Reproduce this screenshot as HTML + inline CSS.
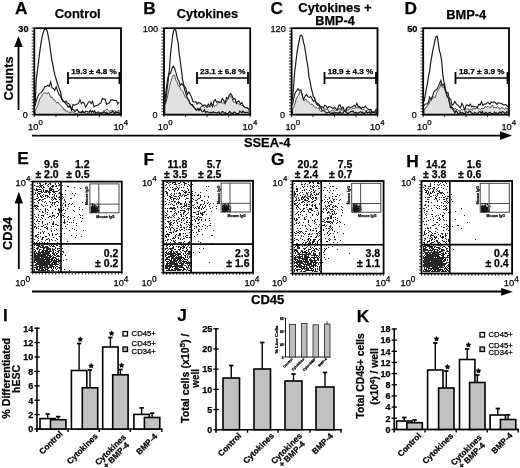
<!DOCTYPE html>
<html><head><meta charset="utf-8"><style>
html,body{margin:0;padding:0;background:#fff;overflow:hidden;}
svg{display:block;filter:blur(0.35px);}
text{stroke:#000;stroke-width:0.25px;}
</style></head><body>
<svg width="520" height="468" viewBox="0 0 520 468" font-family='"Liberation Sans", sans-serif'>
<text x="15.0" y="14.0" font-size="17.3" text-anchor="start" font-weight="bold" >A</text>
<text x="77.7" y="17.7" font-size="13" text-anchor="middle" font-weight="bold" textLength="46" lengthAdjust="spacingAndGlyphs">Control</text>
<text x="28.499999999999996" y="32" font-size="9.2" text-anchor="end" font-weight="bold" >30</text>
<text x="27.799999999999997" y="118" font-size="9" text-anchor="end" font-weight="normal" >0</text>
<text x="28.099999999999998" y="129.8" font-size="9.3" text-anchor="start" font-weight="normal" >10<tspan dy="-4.8" font-size="7.8">0</tspan></text>
<text x="113.4" y="129.8" font-size="9.3" text-anchor="start" font-weight="normal" >10<tspan dy="-4.8" font-size="7.8">4</tspan></text>
<line x1="31.699999999999996" y1="28.2" x2="34.3" y2="28.2" stroke="#000" stroke-width="0.8"/>
<line x1="31.699999999999996" y1="31.182758620689654" x2="34.3" y2="31.182758620689654" stroke="#000" stroke-width="0.8"/>
<line x1="31.699999999999996" y1="34.16551724137931" x2="34.3" y2="34.16551724137931" stroke="#000" stroke-width="0.8"/>
<line x1="31.699999999999996" y1="37.148275862068964" x2="34.3" y2="37.148275862068964" stroke="#000" stroke-width="0.8"/>
<line x1="31.699999999999996" y1="40.13103448275862" x2="34.3" y2="40.13103448275862" stroke="#000" stroke-width="0.8"/>
<line x1="31.699999999999996" y1="43.11379310344827" x2="34.3" y2="43.11379310344827" stroke="#000" stroke-width="0.8"/>
<line x1="31.699999999999996" y1="46.09655172413793" x2="34.3" y2="46.09655172413793" stroke="#000" stroke-width="0.8"/>
<line x1="31.699999999999996" y1="49.07931034482759" x2="34.3" y2="49.07931034482759" stroke="#000" stroke-width="0.8"/>
<line x1="31.699999999999996" y1="52.06206896551724" x2="34.3" y2="52.06206896551724" stroke="#000" stroke-width="0.8"/>
<line x1="31.699999999999996" y1="55.04482758620689" x2="34.3" y2="55.04482758620689" stroke="#000" stroke-width="0.8"/>
<line x1="31.699999999999996" y1="58.02758620689655" x2="34.3" y2="58.02758620689655" stroke="#000" stroke-width="0.8"/>
<line x1="31.699999999999996" y1="61.01034482758621" x2="34.3" y2="61.01034482758621" stroke="#000" stroke-width="0.8"/>
<line x1="31.699999999999996" y1="63.99310344827586" x2="34.3" y2="63.99310344827586" stroke="#000" stroke-width="0.8"/>
<line x1="31.699999999999996" y1="66.97586206896551" x2="34.3" y2="66.97586206896551" stroke="#000" stroke-width="0.8"/>
<line x1="31.699999999999996" y1="69.95862068965518" x2="34.3" y2="69.95862068965518" stroke="#000" stroke-width="0.8"/>
<line x1="31.699999999999996" y1="72.94137931034483" x2="34.3" y2="72.94137931034483" stroke="#000" stroke-width="0.8"/>
<line x1="31.699999999999996" y1="75.92413793103448" x2="34.3" y2="75.92413793103448" stroke="#000" stroke-width="0.8"/>
<line x1="31.699999999999996" y1="78.90689655172413" x2="34.3" y2="78.90689655172413" stroke="#000" stroke-width="0.8"/>
<line x1="31.699999999999996" y1="81.8896551724138" x2="34.3" y2="81.8896551724138" stroke="#000" stroke-width="0.8"/>
<line x1="31.699999999999996" y1="84.87241379310345" x2="34.3" y2="84.87241379310345" stroke="#000" stroke-width="0.8"/>
<line x1="31.699999999999996" y1="87.8551724137931" x2="34.3" y2="87.8551724137931" stroke="#000" stroke-width="0.8"/>
<line x1="31.699999999999996" y1="90.83793103448276" x2="34.3" y2="90.83793103448276" stroke="#000" stroke-width="0.8"/>
<line x1="31.699999999999996" y1="93.82068965517242" x2="34.3" y2="93.82068965517242" stroke="#000" stroke-width="0.8"/>
<line x1="31.699999999999996" y1="96.80344827586207" x2="34.3" y2="96.80344827586207" stroke="#000" stroke-width="0.8"/>
<line x1="31.699999999999996" y1="99.78620689655173" x2="34.3" y2="99.78620689655173" stroke="#000" stroke-width="0.8"/>
<line x1="31.699999999999996" y1="102.76896551724138" x2="34.3" y2="102.76896551724138" stroke="#000" stroke-width="0.8"/>
<line x1="31.699999999999996" y1="105.75172413793103" x2="34.3" y2="105.75172413793103" stroke="#000" stroke-width="0.8"/>
<line x1="31.699999999999996" y1="108.73448275862069" x2="34.3" y2="108.73448275862069" stroke="#000" stroke-width="0.8"/>
<line x1="31.699999999999996" y1="111.71724137931035" x2="34.3" y2="111.71724137931035" stroke="#000" stroke-width="0.8"/>
<line x1="31.699999999999996" y1="114.7" x2="34.3" y2="114.7" stroke="#000" stroke-width="0.8"/>
<line x1="34.3" y1="114.7" x2="34.3" y2="117.2" stroke="#000" stroke-width="0.8"/>
<line x1="55.974999999999994" y1="114.7" x2="55.974999999999994" y2="117.2" stroke="#000" stroke-width="0.8"/>
<line x1="77.65" y1="114.7" x2="77.65" y2="117.2" stroke="#000" stroke-width="0.8"/>
<line x1="99.325" y1="114.7" x2="99.325" y2="117.2" stroke="#000" stroke-width="0.8"/>
<line x1="121.0" y1="114.7" x2="121.0" y2="117.2" stroke="#000" stroke-width="0.8"/>
<line x1="68" y1="78" x2="119.5" y2="78" stroke="#000" stroke-width="1.6"/>
<line x1="68" y1="72" x2="68" y2="84" stroke="#000" stroke-width="1.8"/>
<line x1="119.5" y1="72" x2="119.5" y2="84" stroke="#000" stroke-width="1.8"/>
<text x="94.05" y="74.2" font-size="8.1" text-anchor="middle" font-weight="bold" >19.3 &#177; 4.8 %</text>
<text x="143.25" y="13.9" font-size="17.3" text-anchor="start" font-weight="bold" >B</text>
<text x="207.4" y="17.5" font-size="13" text-anchor="middle" font-weight="bold" textLength="61.3" lengthAdjust="spacingAndGlyphs">Cytokines</text>
<text x="158.2" y="32" font-size="9.2" text-anchor="end" font-weight="normal" >100</text>
<text x="157.5" y="118" font-size="9" text-anchor="end" font-weight="normal" >0</text>
<text x="157.8" y="129.8" font-size="9.3" text-anchor="start" font-weight="normal" >10<tspan dy="-4.8" font-size="7.8">0</tspan></text>
<text x="242.6" y="129.8" font-size="9.3" text-anchor="start" font-weight="normal" >10<tspan dy="-4.8" font-size="7.8">4</tspan></text>
<line x1="161.4" y1="28.2" x2="164.0" y2="28.2" stroke="#000" stroke-width="0.8"/>
<line x1="161.4" y1="31.182758620689654" x2="164.0" y2="31.182758620689654" stroke="#000" stroke-width="0.8"/>
<line x1="161.4" y1="34.16551724137931" x2="164.0" y2="34.16551724137931" stroke="#000" stroke-width="0.8"/>
<line x1="161.4" y1="37.148275862068964" x2="164.0" y2="37.148275862068964" stroke="#000" stroke-width="0.8"/>
<line x1="161.4" y1="40.13103448275862" x2="164.0" y2="40.13103448275862" stroke="#000" stroke-width="0.8"/>
<line x1="161.4" y1="43.11379310344827" x2="164.0" y2="43.11379310344827" stroke="#000" stroke-width="0.8"/>
<line x1="161.4" y1="46.09655172413793" x2="164.0" y2="46.09655172413793" stroke="#000" stroke-width="0.8"/>
<line x1="161.4" y1="49.07931034482759" x2="164.0" y2="49.07931034482759" stroke="#000" stroke-width="0.8"/>
<line x1="161.4" y1="52.06206896551724" x2="164.0" y2="52.06206896551724" stroke="#000" stroke-width="0.8"/>
<line x1="161.4" y1="55.04482758620689" x2="164.0" y2="55.04482758620689" stroke="#000" stroke-width="0.8"/>
<line x1="161.4" y1="58.02758620689655" x2="164.0" y2="58.02758620689655" stroke="#000" stroke-width="0.8"/>
<line x1="161.4" y1="61.01034482758621" x2="164.0" y2="61.01034482758621" stroke="#000" stroke-width="0.8"/>
<line x1="161.4" y1="63.99310344827586" x2="164.0" y2="63.99310344827586" stroke="#000" stroke-width="0.8"/>
<line x1="161.4" y1="66.97586206896551" x2="164.0" y2="66.97586206896551" stroke="#000" stroke-width="0.8"/>
<line x1="161.4" y1="69.95862068965518" x2="164.0" y2="69.95862068965518" stroke="#000" stroke-width="0.8"/>
<line x1="161.4" y1="72.94137931034483" x2="164.0" y2="72.94137931034483" stroke="#000" stroke-width="0.8"/>
<line x1="161.4" y1="75.92413793103448" x2="164.0" y2="75.92413793103448" stroke="#000" stroke-width="0.8"/>
<line x1="161.4" y1="78.90689655172413" x2="164.0" y2="78.90689655172413" stroke="#000" stroke-width="0.8"/>
<line x1="161.4" y1="81.8896551724138" x2="164.0" y2="81.8896551724138" stroke="#000" stroke-width="0.8"/>
<line x1="161.4" y1="84.87241379310345" x2="164.0" y2="84.87241379310345" stroke="#000" stroke-width="0.8"/>
<line x1="161.4" y1="87.8551724137931" x2="164.0" y2="87.8551724137931" stroke="#000" stroke-width="0.8"/>
<line x1="161.4" y1="90.83793103448276" x2="164.0" y2="90.83793103448276" stroke="#000" stroke-width="0.8"/>
<line x1="161.4" y1="93.82068965517242" x2="164.0" y2="93.82068965517242" stroke="#000" stroke-width="0.8"/>
<line x1="161.4" y1="96.80344827586207" x2="164.0" y2="96.80344827586207" stroke="#000" stroke-width="0.8"/>
<line x1="161.4" y1="99.78620689655173" x2="164.0" y2="99.78620689655173" stroke="#000" stroke-width="0.8"/>
<line x1="161.4" y1="102.76896551724138" x2="164.0" y2="102.76896551724138" stroke="#000" stroke-width="0.8"/>
<line x1="161.4" y1="105.75172413793103" x2="164.0" y2="105.75172413793103" stroke="#000" stroke-width="0.8"/>
<line x1="161.4" y1="108.73448275862069" x2="164.0" y2="108.73448275862069" stroke="#000" stroke-width="0.8"/>
<line x1="161.4" y1="111.71724137931035" x2="164.0" y2="111.71724137931035" stroke="#000" stroke-width="0.8"/>
<line x1="161.4" y1="114.7" x2="164.0" y2="114.7" stroke="#000" stroke-width="0.8"/>
<line x1="164.0" y1="114.7" x2="164.0" y2="117.2" stroke="#000" stroke-width="0.8"/>
<line x1="185.55" y1="114.7" x2="185.55" y2="117.2" stroke="#000" stroke-width="0.8"/>
<line x1="207.1" y1="114.7" x2="207.1" y2="117.2" stroke="#000" stroke-width="0.8"/>
<line x1="228.64999999999998" y1="114.7" x2="228.64999999999998" y2="117.2" stroke="#000" stroke-width="0.8"/>
<line x1="250.2" y1="114.7" x2="250.2" y2="117.2" stroke="#000" stroke-width="0.8"/>
<line x1="197" y1="78" x2="248" y2="78" stroke="#000" stroke-width="1.6"/>
<line x1="197" y1="72" x2="197" y2="84" stroke="#000" stroke-width="1.8"/>
<line x1="248" y1="72" x2="248" y2="84" stroke="#000" stroke-width="1.8"/>
<text x="222.8" y="74.2" font-size="8.1" text-anchor="middle" font-weight="bold" >23.1 &#177; 6.8 %</text>
<text x="270.4" y="13.9" font-size="17.3" text-anchor="start" font-weight="bold" >C</text>
<text x="335" y="11.5" font-size="13" text-anchor="middle" font-weight="bold" textLength="73.4" lengthAdjust="spacingAndGlyphs">Cytokines +</text>
<text x="335" y="24.6" font-size="13" text-anchor="middle" font-weight="bold" textLength="39.4" lengthAdjust="spacingAndGlyphs">BMP-4</text>
<text x="285.8" y="32" font-size="9.2" text-anchor="end" font-weight="normal" >120</text>
<text x="285.1" y="118" font-size="9" text-anchor="end" font-weight="normal" >0</text>
<text x="285.40000000000003" y="129.8" font-size="9.3" text-anchor="start" font-weight="normal" >10<tspan dy="-4.8" font-size="7.8">0</tspan></text>
<text x="369.9" y="129.8" font-size="9.3" text-anchor="start" font-weight="normal" >10<tspan dy="-4.8" font-size="7.8">4</tspan></text>
<line x1="289.0" y1="28.2" x2="291.6" y2="28.2" stroke="#000" stroke-width="0.8"/>
<line x1="289.0" y1="31.182758620689654" x2="291.6" y2="31.182758620689654" stroke="#000" stroke-width="0.8"/>
<line x1="289.0" y1="34.16551724137931" x2="291.6" y2="34.16551724137931" stroke="#000" stroke-width="0.8"/>
<line x1="289.0" y1="37.148275862068964" x2="291.6" y2="37.148275862068964" stroke="#000" stroke-width="0.8"/>
<line x1="289.0" y1="40.13103448275862" x2="291.6" y2="40.13103448275862" stroke="#000" stroke-width="0.8"/>
<line x1="289.0" y1="43.11379310344827" x2="291.6" y2="43.11379310344827" stroke="#000" stroke-width="0.8"/>
<line x1="289.0" y1="46.09655172413793" x2="291.6" y2="46.09655172413793" stroke="#000" stroke-width="0.8"/>
<line x1="289.0" y1="49.07931034482759" x2="291.6" y2="49.07931034482759" stroke="#000" stroke-width="0.8"/>
<line x1="289.0" y1="52.06206896551724" x2="291.6" y2="52.06206896551724" stroke="#000" stroke-width="0.8"/>
<line x1="289.0" y1="55.04482758620689" x2="291.6" y2="55.04482758620689" stroke="#000" stroke-width="0.8"/>
<line x1="289.0" y1="58.02758620689655" x2="291.6" y2="58.02758620689655" stroke="#000" stroke-width="0.8"/>
<line x1="289.0" y1="61.01034482758621" x2="291.6" y2="61.01034482758621" stroke="#000" stroke-width="0.8"/>
<line x1="289.0" y1="63.99310344827586" x2="291.6" y2="63.99310344827586" stroke="#000" stroke-width="0.8"/>
<line x1="289.0" y1="66.97586206896551" x2="291.6" y2="66.97586206896551" stroke="#000" stroke-width="0.8"/>
<line x1="289.0" y1="69.95862068965518" x2="291.6" y2="69.95862068965518" stroke="#000" stroke-width="0.8"/>
<line x1="289.0" y1="72.94137931034483" x2="291.6" y2="72.94137931034483" stroke="#000" stroke-width="0.8"/>
<line x1="289.0" y1="75.92413793103448" x2="291.6" y2="75.92413793103448" stroke="#000" stroke-width="0.8"/>
<line x1="289.0" y1="78.90689655172413" x2="291.6" y2="78.90689655172413" stroke="#000" stroke-width="0.8"/>
<line x1="289.0" y1="81.8896551724138" x2="291.6" y2="81.8896551724138" stroke="#000" stroke-width="0.8"/>
<line x1="289.0" y1="84.87241379310345" x2="291.6" y2="84.87241379310345" stroke="#000" stroke-width="0.8"/>
<line x1="289.0" y1="87.8551724137931" x2="291.6" y2="87.8551724137931" stroke="#000" stroke-width="0.8"/>
<line x1="289.0" y1="90.83793103448276" x2="291.6" y2="90.83793103448276" stroke="#000" stroke-width="0.8"/>
<line x1="289.0" y1="93.82068965517242" x2="291.6" y2="93.82068965517242" stroke="#000" stroke-width="0.8"/>
<line x1="289.0" y1="96.80344827586207" x2="291.6" y2="96.80344827586207" stroke="#000" stroke-width="0.8"/>
<line x1="289.0" y1="99.78620689655173" x2="291.6" y2="99.78620689655173" stroke="#000" stroke-width="0.8"/>
<line x1="289.0" y1="102.76896551724138" x2="291.6" y2="102.76896551724138" stroke="#000" stroke-width="0.8"/>
<line x1="289.0" y1="105.75172413793103" x2="291.6" y2="105.75172413793103" stroke="#000" stroke-width="0.8"/>
<line x1="289.0" y1="108.73448275862069" x2="291.6" y2="108.73448275862069" stroke="#000" stroke-width="0.8"/>
<line x1="289.0" y1="111.71724137931035" x2="291.6" y2="111.71724137931035" stroke="#000" stroke-width="0.8"/>
<line x1="289.0" y1="114.7" x2="291.6" y2="114.7" stroke="#000" stroke-width="0.8"/>
<line x1="291.6" y1="114.7" x2="291.6" y2="117.2" stroke="#000" stroke-width="0.8"/>
<line x1="313.07500000000005" y1="114.7" x2="313.07500000000005" y2="117.2" stroke="#000" stroke-width="0.8"/>
<line x1="334.55" y1="114.7" x2="334.55" y2="117.2" stroke="#000" stroke-width="0.8"/>
<line x1="356.025" y1="114.7" x2="356.025" y2="117.2" stroke="#000" stroke-width="0.8"/>
<line x1="377.5" y1="114.7" x2="377.5" y2="117.2" stroke="#000" stroke-width="0.8"/>
<line x1="324.5" y1="78" x2="376" y2="78" stroke="#000" stroke-width="1.6"/>
<line x1="324.5" y1="72" x2="324.5" y2="84" stroke="#000" stroke-width="1.8"/>
<line x1="376" y1="72" x2="376" y2="84" stroke="#000" stroke-width="1.8"/>
<text x="350.55" y="74.2" font-size="8.1" text-anchor="middle" font-weight="bold" >18.9 &#177; 4.3 %</text>
<text x="404.55" y="13.9" font-size="17.3" text-anchor="start" font-weight="bold" >D</text>
<text x="466.2" y="18.9" font-size="13" text-anchor="middle" font-weight="bold" textLength="40.1" lengthAdjust="spacingAndGlyphs">BMP-4</text>
<text x="417.4" y="32" font-size="9.2" text-anchor="end" font-weight="bold" >50</text>
<text x="416.7" y="118" font-size="9" text-anchor="end" font-weight="normal" >0</text>
<text x="417.0" y="129.8" font-size="9.3" text-anchor="start" font-weight="normal" >10<tspan dy="-4.8" font-size="7.8">0</tspan></text>
<text x="501.4" y="129.8" font-size="9.3" text-anchor="start" font-weight="normal" >10<tspan dy="-4.8" font-size="7.8">4</tspan></text>
<line x1="420.59999999999997" y1="28.2" x2="423.2" y2="28.2" stroke="#000" stroke-width="0.8"/>
<line x1="420.59999999999997" y1="31.182758620689654" x2="423.2" y2="31.182758620689654" stroke="#000" stroke-width="0.8"/>
<line x1="420.59999999999997" y1="34.16551724137931" x2="423.2" y2="34.16551724137931" stroke="#000" stroke-width="0.8"/>
<line x1="420.59999999999997" y1="37.148275862068964" x2="423.2" y2="37.148275862068964" stroke="#000" stroke-width="0.8"/>
<line x1="420.59999999999997" y1="40.13103448275862" x2="423.2" y2="40.13103448275862" stroke="#000" stroke-width="0.8"/>
<line x1="420.59999999999997" y1="43.11379310344827" x2="423.2" y2="43.11379310344827" stroke="#000" stroke-width="0.8"/>
<line x1="420.59999999999997" y1="46.09655172413793" x2="423.2" y2="46.09655172413793" stroke="#000" stroke-width="0.8"/>
<line x1="420.59999999999997" y1="49.07931034482759" x2="423.2" y2="49.07931034482759" stroke="#000" stroke-width="0.8"/>
<line x1="420.59999999999997" y1="52.06206896551724" x2="423.2" y2="52.06206896551724" stroke="#000" stroke-width="0.8"/>
<line x1="420.59999999999997" y1="55.04482758620689" x2="423.2" y2="55.04482758620689" stroke="#000" stroke-width="0.8"/>
<line x1="420.59999999999997" y1="58.02758620689655" x2="423.2" y2="58.02758620689655" stroke="#000" stroke-width="0.8"/>
<line x1="420.59999999999997" y1="61.01034482758621" x2="423.2" y2="61.01034482758621" stroke="#000" stroke-width="0.8"/>
<line x1="420.59999999999997" y1="63.99310344827586" x2="423.2" y2="63.99310344827586" stroke="#000" stroke-width="0.8"/>
<line x1="420.59999999999997" y1="66.97586206896551" x2="423.2" y2="66.97586206896551" stroke="#000" stroke-width="0.8"/>
<line x1="420.59999999999997" y1="69.95862068965518" x2="423.2" y2="69.95862068965518" stroke="#000" stroke-width="0.8"/>
<line x1="420.59999999999997" y1="72.94137931034483" x2="423.2" y2="72.94137931034483" stroke="#000" stroke-width="0.8"/>
<line x1="420.59999999999997" y1="75.92413793103448" x2="423.2" y2="75.92413793103448" stroke="#000" stroke-width="0.8"/>
<line x1="420.59999999999997" y1="78.90689655172413" x2="423.2" y2="78.90689655172413" stroke="#000" stroke-width="0.8"/>
<line x1="420.59999999999997" y1="81.8896551724138" x2="423.2" y2="81.8896551724138" stroke="#000" stroke-width="0.8"/>
<line x1="420.59999999999997" y1="84.87241379310345" x2="423.2" y2="84.87241379310345" stroke="#000" stroke-width="0.8"/>
<line x1="420.59999999999997" y1="87.8551724137931" x2="423.2" y2="87.8551724137931" stroke="#000" stroke-width="0.8"/>
<line x1="420.59999999999997" y1="90.83793103448276" x2="423.2" y2="90.83793103448276" stroke="#000" stroke-width="0.8"/>
<line x1="420.59999999999997" y1="93.82068965517242" x2="423.2" y2="93.82068965517242" stroke="#000" stroke-width="0.8"/>
<line x1="420.59999999999997" y1="96.80344827586207" x2="423.2" y2="96.80344827586207" stroke="#000" stroke-width="0.8"/>
<line x1="420.59999999999997" y1="99.78620689655173" x2="423.2" y2="99.78620689655173" stroke="#000" stroke-width="0.8"/>
<line x1="420.59999999999997" y1="102.76896551724138" x2="423.2" y2="102.76896551724138" stroke="#000" stroke-width="0.8"/>
<line x1="420.59999999999997" y1="105.75172413793103" x2="423.2" y2="105.75172413793103" stroke="#000" stroke-width="0.8"/>
<line x1="420.59999999999997" y1="108.73448275862069" x2="423.2" y2="108.73448275862069" stroke="#000" stroke-width="0.8"/>
<line x1="420.59999999999997" y1="111.71724137931035" x2="423.2" y2="111.71724137931035" stroke="#000" stroke-width="0.8"/>
<line x1="420.59999999999997" y1="114.7" x2="423.2" y2="114.7" stroke="#000" stroke-width="0.8"/>
<line x1="423.2" y1="114.7" x2="423.2" y2="117.2" stroke="#000" stroke-width="0.8"/>
<line x1="444.65" y1="114.7" x2="444.65" y2="117.2" stroke="#000" stroke-width="0.8"/>
<line x1="466.1" y1="114.7" x2="466.1" y2="117.2" stroke="#000" stroke-width="0.8"/>
<line x1="487.55" y1="114.7" x2="487.55" y2="117.2" stroke="#000" stroke-width="0.8"/>
<line x1="509.0" y1="114.7" x2="509.0" y2="117.2" stroke="#000" stroke-width="0.8"/>
<line x1="455.5" y1="78" x2="507.5" y2="78" stroke="#000" stroke-width="1.6"/>
<line x1="455.5" y1="72" x2="455.5" y2="84" stroke="#000" stroke-width="1.8"/>
<line x1="507.5" y1="72" x2="507.5" y2="84" stroke="#000" stroke-width="1.8"/>
<text x="481.8" y="74.2" font-size="8.1" text-anchor="middle" font-weight="bold" >18.7 &#177; 3.9 %</text>
<text transform="translate(12.7,78.5) rotate(-90)" font-size="12.8" font-weight="bold" text-anchor="middle" textLength="44" lengthAdjust="spacingAndGlyphs">Counts</text>
<line x1="18.5" y1="44" x2="18.5" y2="110" stroke="#000" stroke-width="1.8"/>
<path d="M14.2,47 L18.5,36 L22.8,47 Z" fill="#000"/>
<line x1="32" y1="135.7" x2="502" y2="135.7" stroke="#000" stroke-width="1.8"/>
<path d="M500,131.3 L512,135.6 L500,139.9 Z" fill="#000"/>
<text x="267.2" y="146.8" font-size="13" text-anchor="middle" font-weight="bold" textLength="46.6" lengthAdjust="spacingAndGlyphs">SSEA-4</text>
<polygon points="35.2,114.4 35.2,110.5 36.4,108.5 37.6,105.7 38.8,102.4 40.0,98.2 41.2,96.9 42.4,94.3 43.6,93.5 44.8,92.7 46.0,92.9 47.2,93.8 48.4,92.1 49.6,94.4 50.8,97.6 52.0,96.9 53.2,99.5 54.4,99.8 55.6,101.6 56.8,103.1 58.0,102.2 59.2,104.1 60.4,104.8 61.6,106.8 62.8,107.4 64.0,110.2 65.2,109.3 66.4,111.9 67.6,111.0 68.8,112.2 70.0,112.3 71.2,112.4 72.4,111.7 73.6,113.0 74.8,113.3 76.0,113.2 77.2,113.5 78.4,112.3 79.6,112.8 80.8,112.5 82.0,111.6 83.2,113.3 84.4,112.5 85.6,112.9 86.8,113.9 88.0,113.2 89.2,113.1 90.4,113.9 91.6,113.9 92.8,113.9 94.0,112.6 95.2,113.9 96.4,112.6 97.6,111.6 98.8,111.5 100.0,112.9 101.2,112.4 102.4,112.5 103.6,110.5 104.8,110.8 106.0,109.8 107.2,109.0 108.4,110.3 109.6,111.3 110.8,111.0 112.0,109.8 113.2,111.6 114.4,110.4 115.6,111.2 116.8,111.7 118.0,110.7 119.2,110.3 119.2,114.4" fill="#e1e1e1" stroke="#444" stroke-width="0.9"/>
<polyline points="35.2,105.7 36.6,99.8 38.0,96.0 39.4,93.8 40.8,92.9 42.2,91.1 43.6,89.2 45.0,86.6 46.4,86.5 47.8,85.3 49.2,86.4 50.6,81.9 52.0,87.8 53.4,88.4 54.8,90.3 56.2,86.6 57.6,91.1 59.0,94.5 60.4,96.0 61.8,99.5 63.2,100.7 64.6,102.4 66.0,101.1 67.4,103.0 68.8,103.6 70.2,105.2 71.6,110.0 73.0,104.6 74.4,105.3 75.8,104.4 77.2,104.1 78.6,103.2 80.0,99.7 81.4,103.7 82.8,102.2 84.2,103.3 85.6,107.2 87.0,104.7 88.4,102.3 89.8,101.3 91.2,103.7 92.6,101.3 94.0,106.8 95.4,105.9 96.8,105.4 98.2,104.9 99.6,103.7 101.0,102.7 102.4,98.4 103.8,99.2 105.2,99.1 106.6,104.4 108.0,103.4 109.4,102.8 110.8,99.9 112.2,99.6 113.6,100.4 115.0,100.3 116.4,100.6 117.8,103.9 119.2,102.1" fill="none" stroke="#1a1a1a" stroke-width="1.1"/>
<polyline points="35.2,102.5 36.3,78.8 37.4,70.8 38.5,62.0 39.6,53.1 40.7,45.2 41.8,38.3 42.9,33.7 44.0,30.2 45.1,28.8 46.2,29.0 47.3,31.4 48.4,37.0 49.5,43.1 50.6,51.4 51.7,59.2 52.8,64.6 53.9,70.7 55.0,75.4 56.1,79.0 57.2,82.8 58.3,86.1 59.4,88.9 60.5,91.7 61.6,97.8 62.7,101.1 63.8,101.6 64.9,102.6 66.0,103.8 67.1,105.2 68.2,107.2 69.3,105.9 70.4,107.8 71.5,107.8 72.6,109.4 73.7,109.6 74.8,111.6 75.9,110.6 77.0,109.5 78.1,111.2 79.2,112.1 80.3,112.1 81.4,112.9 82.5,110.7 83.6,112.4 84.7,112.3 85.8,111.3 86.9,111.7 88.0,111.8 89.1,112.3 90.2,110.4 91.3,112.4 92.4,110.8 93.5,112.3 94.6,110.7 95.7,113.3 96.8,112.8 97.9,112.7 99.0,113.3 100.1,113.0 101.2,113.5 102.3,113.1 103.4,112.4 104.5,112.0 105.6,113.9 106.7,112.3 107.8,113.6 108.9,113.9 110.0,112.7 111.1,112.7 112.2,111.7 113.3,111.5 114.4,113.9 115.5,112.0 116.6,112.8 117.7,112.3 118.8,112.9 119.9,113.2" fill="none" stroke="#1a1a1a" stroke-width="1.2"/>
<polygon points="164.9,114.4 164.9,105.4 166.1,101.9 167.3,97.8 168.5,91.7 169.7,85.5 170.9,81.3 172.1,77.8 173.3,74.8 174.5,75.1 175.7,79.9 176.9,81.6 178.1,85.5 179.3,85.8 180.5,89.0 181.7,90.7 182.9,91.4 184.1,94.5 185.3,97.7 186.5,97.9 187.7,99.0 188.9,101.6 190.1,104.0 191.3,105.2 192.5,106.3 193.7,106.0 194.9,108.4 196.1,108.8 197.3,109.4 198.5,109.4 199.7,108.6 200.9,106.5 202.1,106.4 203.3,106.5 204.5,107.3 205.7,106.2 206.9,107.7 208.1,106.6 209.3,106.4 210.5,106.5 211.7,105.8 212.9,104.0 214.1,106.8 215.3,105.7 216.5,105.4 217.7,103.2 218.9,102.0 220.1,102.0 221.3,102.1 222.5,103.3 223.7,103.0 224.9,103.2 226.1,102.3 227.3,99.5 228.5,97.9 229.7,96.4 230.9,95.8 232.1,98.1 233.3,102.0 234.5,102.3 235.7,102.1 236.9,102.2 238.1,103.6 239.3,104.7 240.5,104.6 241.7,105.5 242.9,105.7 244.1,106.7 245.3,107.4 246.5,107.9 247.7,108.1 248.9,109.4 248.9,114.4" fill="#e1e1e1" stroke="#444" stroke-width="0.9"/>
<polyline points="164.9,100.7 166.3,88.1 167.7,78.6 169.1,73.2 170.5,73.6 171.9,68.3 173.3,66.0 174.7,68.4 176.1,73.3 177.5,78.5 178.9,81.0 180.3,85.5 181.7,83.6 183.1,85.5 184.5,86.2 185.9,88.5 187.3,94.6 188.7,92.1 190.1,94.1 191.5,97.1 192.9,101.5 194.3,102.0 195.7,101.6 197.1,104.0 198.5,102.5 199.9,103.1 201.3,103.9 202.7,106.0 204.1,104.9 205.5,105.2 206.9,106.7 208.3,104.0 209.7,106.3 211.1,102.5 212.5,106.6 213.9,101.0 215.3,99.5 216.7,102.4 218.1,101.4 219.5,102.5 220.9,102.2 222.3,98.5 223.7,100.3 225.1,103.5 226.5,97.6 227.9,98.8 229.3,95.0 230.7,93.7 232.1,95.8 233.5,99.3 234.9,98.4 236.3,103.4 237.7,101.4 239.1,101.1 240.5,104.3 241.9,102.5 243.3,105.7 244.7,107.0 246.1,108.0 247.5,107.7 248.9,109.6" fill="none" stroke="#1a1a1a" stroke-width="1.1"/>
<polyline points="164.9,104.4 166.0,98.5 167.1,89.2 168.2,80.7 169.3,71.0 170.4,55.2 171.5,45.5 172.6,35.8 173.7,30.5 174.8,28.8 175.9,30.5 177.0,37.7 178.1,42.5 179.2,54.1 180.3,61.5 181.4,69.6 182.5,79.4 183.6,84.5 184.7,90.1 185.8,92.9 186.9,97.0 188.0,98.8 189.1,100.7 190.2,103.4 191.3,104.8 192.4,104.4 193.5,107.1 194.6,108.0 195.7,109.8 196.8,110.3 197.9,108.4 199.0,110.4 200.1,108.4 201.2,110.3 202.3,111.8 203.4,111.3 204.5,109.8 205.6,112.5 206.7,111.6 207.8,111.8 208.9,112.5 210.0,113.1 211.1,112.3 212.2,113.0 213.3,111.8 214.4,112.5 215.5,112.6 216.6,112.8 217.7,112.8 218.8,111.9 219.9,113.6 221.0,113.0 222.1,111.6 223.2,111.7 224.3,113.2 225.4,112.6 226.5,113.8 227.6,113.9 228.7,112.6 229.8,111.5 230.9,113.1 232.0,113.2 233.1,113.3 234.2,112.0 235.3,112.5 236.4,113.8 237.5,113.7 238.6,113.9 239.7,111.2 240.8,111.9 241.9,112.7 243.0,111.1 244.1,112.4 245.2,112.9 246.3,112.3 247.4,112.3 248.5,113.0" fill="none" stroke="#1a1a1a" stroke-width="1.2"/>
<polygon points="292.5,114.4 292.5,109.3 293.7,107.7 294.9,103.8 296.1,99.3 297.3,96.9 298.5,95.4 299.7,92.0 300.9,92.0 302.1,93.4 303.3,99.9 304.5,100.7 305.7,99.0 306.9,100.9 308.1,101.6 309.3,102.6 310.5,104.5 311.7,104.1 312.9,104.6 314.1,106.7 315.3,107.9 316.5,107.2 317.7,108.6 318.9,107.9 320.1,110.6 321.3,111.9 322.5,110.5 323.7,110.0 324.9,108.4 326.1,109.8 327.3,108.4 328.5,110.7 329.7,111.5 330.9,111.2 332.1,110.2 333.3,110.5 334.5,109.5 335.7,110.3 336.9,110.3 338.1,110.0 339.3,107.9 340.5,110.3 341.7,110.4 342.9,109.4 344.1,110.4 345.3,110.7 346.5,108.1 347.7,110.4 348.9,109.1 350.1,108.4 351.3,109.3 352.5,108.4 353.7,108.5 354.9,107.9 356.1,108.0 357.3,107.5 358.5,108.1 359.7,107.9 360.9,107.8 362.1,110.0 363.3,109.3 364.5,109.8 365.7,111.0 366.9,110.3 368.1,109.9 369.3,109.2 370.5,111.1 371.7,111.3 372.9,112.1 374.1,111.6 375.3,111.7 376.5,110.2 376.5,114.4" fill="#e1e1e1" stroke="#444" stroke-width="0.9"/>
<polyline points="292.5,105.0 293.9,97.3 295.3,92.6 296.7,90.9 298.1,88.7 299.5,90.7 300.9,89.6 302.3,95.7 303.7,99.6 305.1,96.1 306.5,94.4 307.9,96.8 309.3,97.4 310.7,96.3 312.1,98.9 313.5,101.6 314.9,100.2 316.3,102.5 317.7,103.5 319.1,104.6 320.5,106.2 321.9,106.5 323.3,108.1 324.7,105.3 326.1,106.0 327.5,108.1 328.9,106.6 330.3,106.7 331.7,107.7 333.1,108.5 334.5,107.3 335.9,108.8 337.3,109.9 338.7,105.5 340.1,104.8 341.5,109.1 342.9,106.9 344.3,110.0 345.7,111.9 347.1,107.5 348.5,106.9 349.9,107.2 351.3,107.3 352.7,106.7 354.1,105.2 355.5,106.8 356.9,103.2 358.3,106.8 359.7,106.6 361.1,108.5 362.5,107.1 363.9,107.8 365.3,106.1 366.7,107.9 368.1,108.9 369.5,109.8 370.9,109.4 372.3,112.4 373.7,112.9 375.1,111.1 376.5,108.5" fill="none" stroke="#1a1a1a" stroke-width="1.1"/>
<polyline points="292.5,99.9 293.6,86.1 294.7,71.2 295.8,62.9 296.9,53.7 298.0,46.6 299.1,41.2 300.2,35.4 301.3,35.1 302.4,36.8 303.5,42.4 304.6,46.4 305.7,53.5 306.8,60.5 307.9,66.9 309.0,76.9 310.1,81.6 311.2,87.8 312.3,92.2 313.4,97.0 314.5,97.5 315.6,101.5 316.7,104.4 317.8,105.3 318.9,104.9 320.0,107.8 321.1,107.6 322.2,110.6 323.3,110.5 324.4,111.0 325.5,112.1 326.6,113.0 327.7,112.5 328.8,112.0 329.9,113.1 331.0,113.5 332.1,112.8 333.2,113.9 334.3,112.0 335.4,113.0 336.5,112.8 337.6,112.7 338.7,113.8 339.8,111.7 340.9,113.3 342.0,113.2 343.1,112.9 344.2,110.9 345.3,111.3 346.4,112.0 347.5,113.7 348.6,112.9 349.7,112.3 350.8,111.7 351.9,111.7 353.0,111.1 354.1,112.9 355.2,112.8 356.3,112.2 357.4,113.6 358.5,112.9 359.6,112.3 360.7,111.6 361.8,112.9 362.9,112.3 364.0,113.9 365.1,112.6 366.2,111.4 367.3,113.1 368.4,112.2 369.5,112.0 370.6,113.8 371.7,111.6 372.8,112.6 373.9,112.2 375.0,112.3 376.1,113.4" fill="none" stroke="#1a1a1a" stroke-width="1.2"/>
<polygon points="424.1,114.4 424.1,111.3 425.3,107.7 426.5,107.5 427.7,104.3 428.9,104.4 430.1,100.7 431.3,100.1 432.5,99.0 433.7,96.6 434.9,97.8 436.1,94.5 437.3,91.8 438.5,89.5 439.7,87.7 440.9,83.6 442.1,87.1 443.3,87.1 444.5,88.5 445.7,91.2 446.9,94.3 448.1,97.1 449.3,101.0 450.5,103.7 451.7,106.8 452.9,107.7 454.1,109.7 455.3,108.1 456.5,109.6 457.7,109.7 458.9,111.0 460.1,110.8 461.3,109.5 462.5,109.8 463.7,109.3 464.9,108.7 466.1,109.2 467.3,108.9 468.5,109.4 469.7,109.6 470.9,108.8 472.1,109.8 473.3,107.9 474.5,108.7 475.7,108.8 476.9,107.0 478.1,108.9 479.3,108.9 480.5,109.6 481.7,108.1 482.9,108.5 484.1,108.4 485.3,106.3 486.5,107.7 487.7,106.1 488.9,107.3 490.1,107.5 491.3,107.0 492.5,104.9 493.7,107.8 494.9,107.1 496.1,107.9 497.3,106.7 498.5,107.2 499.7,109.4 500.9,107.8 502.1,107.8 503.3,108.0 504.5,109.4 505.7,107.5 506.9,108.7 508.1,108.3 508.1,114.4" fill="#e1e1e1" stroke="#444" stroke-width="0.9"/>
<polyline points="424.1,105.7 425.5,103.9 426.9,103.7 428.3,102.7 429.7,97.1 431.1,99.8 432.5,96.3 433.9,92.1 435.3,90.4 436.7,89.6 438.1,87.1 439.5,83.4 440.9,80.3 442.3,85.3 443.7,84.3 445.1,90.1 446.5,93.4 447.9,92.5 449.3,98.6 450.7,99.2 452.1,105.1 453.5,104.2 454.9,101.4 456.3,103.9 457.7,105.1 459.1,106.4 460.5,108.0 461.9,103.3 463.3,105.9 464.7,110.1 466.1,105.3 467.5,104.9 468.9,106.1 470.3,104.1 471.7,106.9 473.1,105.9 474.5,106.8 475.9,106.8 477.3,107.8 478.7,104.2 480.1,105.0 481.5,101.6 482.9,105.5 484.3,104.1 485.7,104.1 487.1,102.7 488.5,102.8 489.9,104.1 491.3,102.1 492.7,102.2 494.1,101.9 495.5,102.6 496.9,104.3 498.3,102.6 499.7,103.2 501.1,103.3 502.5,104.2 503.9,105.1 505.3,104.6 506.7,105.5 508.1,107.1" fill="none" stroke="#1a1a1a" stroke-width="1.1"/>
<polyline points="424.1,101.3 425.2,95.5 426.3,89.1 427.4,83.8 428.5,76.2 429.6,71.5 430.7,62.4 431.8,56.2 432.9,49.9 434.0,45.4 435.1,39.3 436.2,36.6 437.3,36.3 438.4,43.9 439.5,51.0 440.6,54.6 441.7,61.2 442.8,74.7 443.9,81.4 445.0,86.6 446.1,92.3 447.2,96.8 448.3,97.7 449.4,102.6 450.5,107.6 451.6,107.1 452.7,109.2 453.8,110.9 454.9,113.0 456.0,110.8 457.1,112.1 458.2,113.5 459.3,113.9 460.4,112.0 461.5,113.4 462.6,112.8 463.7,113.4 464.8,113.9 465.9,111.6 467.0,112.3 468.1,112.8 469.2,111.1 470.3,111.4 471.4,112.8 472.5,113.6 473.6,113.2 474.7,112.6 475.8,113.0 476.9,113.5 478.0,113.4 479.1,111.7 480.2,111.6 481.3,113.8 482.4,111.5 483.5,113.8 484.6,113.6 485.7,112.4 486.8,113.1 487.9,113.6 489.0,112.7 490.1,112.3 491.2,113.6 492.3,113.5 493.4,113.9 494.5,112.1 495.6,113.3 496.7,113.0 497.8,113.9 498.9,112.7 500.0,112.1 501.1,113.3 502.2,111.5 503.3,112.1 504.4,112.8 505.5,113.9 506.6,111.7 507.7,112.6" fill="none" stroke="#1a1a1a" stroke-width="1.2"/>
<rect x="34.3" y="28.2" width="86.7" height="86.5" fill="none" stroke="#000" stroke-width="1.8"/>
<rect x="164.0" y="28.2" width="86.19999999999999" height="86.5" fill="none" stroke="#000" stroke-width="1.8"/>
<rect x="291.6" y="28.2" width="85.89999999999998" height="86.5" fill="none" stroke="#000" stroke-width="1.8"/>
<rect x="423.2" y="28.2" width="85.80000000000001" height="86.5" fill="none" stroke="#000" stroke-width="1.8"/>
<text x="17.35" y="164.0" font-size="17.3" text-anchor="start" font-weight="bold" >E</text>
<text x="58.7" y="167.8" font-size="10.5" text-anchor="end" font-weight="bold" >9.6</text>
<text x="58.7" y="178.4" font-size="10.5" text-anchor="end" font-weight="bold" >&#177; 2.0</text>
<text x="89.6" y="167.8" font-size="10.5" text-anchor="end" font-weight="bold" >1.2</text>
<text x="89.6" y="178.4" font-size="10.5" text-anchor="end" font-weight="bold" >&#177; 0.5</text>
<text x="15.6" y="186.4" font-size="9.3" text-anchor="start" font-weight="normal" >10<tspan dy="-5.5" font-size="8">4</tspan></text>
<text x="15.2" y="286.2" font-size="9.3" text-anchor="start" font-weight="normal" >10<tspan dy="-4.5" font-size="8.3">0</tspan></text>
<text x="113.5" y="286.2" font-size="9.3" text-anchor="start" font-weight="normal" >10<tspan dy="-4.5" font-size="8.3">4</tspan></text>
<line x1="30.200000000000003" y1="181.6" x2="32.6" y2="181.6" stroke="#000" stroke-width="0.8"/>
<line x1="30.200000000000003" y1="184.95555555555555" x2="32.6" y2="184.95555555555555" stroke="#000" stroke-width="0.8"/>
<line x1="30.200000000000003" y1="188.3111111111111" x2="32.6" y2="188.3111111111111" stroke="#000" stroke-width="0.8"/>
<line x1="30.200000000000003" y1="191.66666666666666" x2="32.6" y2="191.66666666666666" stroke="#000" stroke-width="0.8"/>
<line x1="30.200000000000003" y1="195.0222222222222" x2="32.6" y2="195.0222222222222" stroke="#000" stroke-width="0.8"/>
<line x1="30.200000000000003" y1="198.37777777777777" x2="32.6" y2="198.37777777777777" stroke="#000" stroke-width="0.8"/>
<line x1="30.200000000000003" y1="201.73333333333332" x2="32.6" y2="201.73333333333332" stroke="#000" stroke-width="0.8"/>
<line x1="30.200000000000003" y1="205.08888888888887" x2="32.6" y2="205.08888888888887" stroke="#000" stroke-width="0.8"/>
<line x1="30.200000000000003" y1="208.44444444444443" x2="32.6" y2="208.44444444444443" stroke="#000" stroke-width="0.8"/>
<line x1="30.200000000000003" y1="211.79999999999998" x2="32.6" y2="211.79999999999998" stroke="#000" stroke-width="0.8"/>
<line x1="30.200000000000003" y1="215.15555555555557" x2="32.6" y2="215.15555555555557" stroke="#000" stroke-width="0.8"/>
<line x1="30.200000000000003" y1="218.5111111111111" x2="32.6" y2="218.5111111111111" stroke="#000" stroke-width="0.8"/>
<line x1="30.200000000000003" y1="221.86666666666665" x2="32.6" y2="221.86666666666665" stroke="#000" stroke-width="0.8"/>
<line x1="30.200000000000003" y1="225.22222222222223" x2="32.6" y2="225.22222222222223" stroke="#000" stroke-width="0.8"/>
<line x1="30.200000000000003" y1="228.57777777777778" x2="32.6" y2="228.57777777777778" stroke="#000" stroke-width="0.8"/>
<line x1="30.200000000000003" y1="231.93333333333334" x2="32.6" y2="231.93333333333334" stroke="#000" stroke-width="0.8"/>
<line x1="30.200000000000003" y1="235.2888888888889" x2="32.6" y2="235.2888888888889" stroke="#000" stroke-width="0.8"/>
<line x1="30.200000000000003" y1="238.64444444444445" x2="32.6" y2="238.64444444444445" stroke="#000" stroke-width="0.8"/>
<line x1="30.200000000000003" y1="242.0" x2="32.6" y2="242.0" stroke="#000" stroke-width="0.8"/>
<line x1="30.200000000000003" y1="245.35555555555555" x2="32.6" y2="245.35555555555555" stroke="#000" stroke-width="0.8"/>
<line x1="30.200000000000003" y1="248.7111111111111" x2="32.6" y2="248.7111111111111" stroke="#000" stroke-width="0.8"/>
<line x1="30.200000000000003" y1="252.06666666666666" x2="32.6" y2="252.06666666666666" stroke="#000" stroke-width="0.8"/>
<line x1="30.200000000000003" y1="255.42222222222222" x2="32.6" y2="255.42222222222222" stroke="#000" stroke-width="0.8"/>
<line x1="30.200000000000003" y1="258.77777777777777" x2="32.6" y2="258.77777777777777" stroke="#000" stroke-width="0.8"/>
<line x1="30.200000000000003" y1="262.1333333333333" x2="32.6" y2="262.1333333333333" stroke="#000" stroke-width="0.8"/>
<line x1="30.200000000000003" y1="265.4888888888889" x2="32.6" y2="265.4888888888889" stroke="#000" stroke-width="0.8"/>
<line x1="30.200000000000003" y1="268.84444444444443" x2="32.6" y2="268.84444444444443" stroke="#000" stroke-width="0.8"/>
<line x1="30.200000000000003" y1="272.2" x2="32.6" y2="272.2" stroke="#000" stroke-width="0.8"/>
<line x1="32.6" y1="272.2" x2="32.6" y2="274.4" stroke="#000" stroke-width="0.8"/>
<line x1="35.903703703703705" y1="272.2" x2="35.903703703703705" y2="274.4" stroke="#000" stroke-width="0.8"/>
<line x1="39.20740740740741" y1="272.2" x2="39.20740740740741" y2="274.4" stroke="#000" stroke-width="0.8"/>
<line x1="42.51111111111111" y1="272.2" x2="42.51111111111111" y2="274.4" stroke="#000" stroke-width="0.8"/>
<line x1="45.81481481481482" y1="272.2" x2="45.81481481481482" y2="274.4" stroke="#000" stroke-width="0.8"/>
<line x1="49.11851851851851" y1="272.2" x2="49.11851851851851" y2="274.4" stroke="#000" stroke-width="0.8"/>
<line x1="52.42222222222222" y1="272.2" x2="52.42222222222222" y2="274.4" stroke="#000" stroke-width="0.8"/>
<line x1="55.72592592592592" y1="272.2" x2="55.72592592592592" y2="274.4" stroke="#000" stroke-width="0.8"/>
<line x1="59.029629629629625" y1="272.2" x2="59.029629629629625" y2="274.4" stroke="#000" stroke-width="0.8"/>
<line x1="62.33333333333333" y1="272.2" x2="62.33333333333333" y2="274.4" stroke="#000" stroke-width="0.8"/>
<line x1="65.63703703703703" y1="272.2" x2="65.63703703703703" y2="274.4" stroke="#000" stroke-width="0.8"/>
<line x1="68.94074074074074" y1="272.2" x2="68.94074074074074" y2="274.4" stroke="#000" stroke-width="0.8"/>
<line x1="72.24444444444444" y1="272.2" x2="72.24444444444444" y2="274.4" stroke="#000" stroke-width="0.8"/>
<line x1="75.54814814814814" y1="272.2" x2="75.54814814814814" y2="274.4" stroke="#000" stroke-width="0.8"/>
<line x1="78.85185185185185" y1="272.2" x2="78.85185185185185" y2="274.4" stroke="#000" stroke-width="0.8"/>
<line x1="82.15555555555555" y1="272.2" x2="82.15555555555555" y2="274.4" stroke="#000" stroke-width="0.8"/>
<line x1="85.45925925925926" y1="272.2" x2="85.45925925925926" y2="274.4" stroke="#000" stroke-width="0.8"/>
<line x1="88.76296296296296" y1="272.2" x2="88.76296296296296" y2="274.4" stroke="#000" stroke-width="0.8"/>
<line x1="92.06666666666666" y1="272.2" x2="92.06666666666666" y2="274.4" stroke="#000" stroke-width="0.8"/>
<line x1="95.37037037037035" y1="272.2" x2="95.37037037037035" y2="274.4" stroke="#000" stroke-width="0.8"/>
<line x1="98.67407407407407" y1="272.2" x2="98.67407407407407" y2="274.4" stroke="#000" stroke-width="0.8"/>
<line x1="101.97777777777776" y1="272.2" x2="101.97777777777776" y2="274.4" stroke="#000" stroke-width="0.8"/>
<line x1="105.28148148148148" y1="272.2" x2="105.28148148148148" y2="274.4" stroke="#000" stroke-width="0.8"/>
<line x1="108.5851851851852" y1="272.2" x2="108.5851851851852" y2="274.4" stroke="#000" stroke-width="0.8"/>
<line x1="111.88888888888889" y1="272.2" x2="111.88888888888889" y2="274.4" stroke="#000" stroke-width="0.8"/>
<line x1="115.19259259259258" y1="272.2" x2="115.19259259259258" y2="274.4" stroke="#000" stroke-width="0.8"/>
<line x1="118.4962962962963" y1="272.2" x2="118.4962962962963" y2="274.4" stroke="#000" stroke-width="0.8"/>
<line x1="121.79999999999998" y1="272.2" x2="121.79999999999998" y2="274.4" stroke="#000" stroke-width="0.8"/>
<text x="143.55" y="165.2" font-size="17.3" text-anchor="start" font-weight="bold" >F</text>
<text x="187.4" y="167.8" font-size="10.5" text-anchor="end" font-weight="bold" >11.8</text>
<text x="187.4" y="178.4" font-size="10.5" text-anchor="end" font-weight="bold" >&#177; 3.5</text>
<text x="221.4" y="167.8" font-size="10.5" text-anchor="end" font-weight="bold" >5.7</text>
<text x="221.4" y="178.4" font-size="10.5" text-anchor="end" font-weight="bold" >&#177; 2.5</text>
<text x="141.9" y="186.4" font-size="9.3" text-anchor="start" font-weight="normal" >10<tspan dy="-5.5" font-size="8">4</tspan></text>
<text x="141.6" y="286.2" font-size="9.3" text-anchor="start" font-weight="normal" >10<tspan dy="-4.5" font-size="8.3">0</tspan></text>
<text x="244.5" y="286.2" font-size="9.3" text-anchor="start" font-weight="normal" >10<tspan dy="-4.5" font-size="8.3">4</tspan></text>
<line x1="160.9" y1="180.8" x2="163.3" y2="180.8" stroke="#000" stroke-width="0.8"/>
<line x1="160.9" y1="184.20370370370372" x2="163.3" y2="184.20370370370372" stroke="#000" stroke-width="0.8"/>
<line x1="160.9" y1="187.6074074074074" x2="163.3" y2="187.6074074074074" stroke="#000" stroke-width="0.8"/>
<line x1="160.9" y1="191.01111111111112" x2="163.3" y2="191.01111111111112" stroke="#000" stroke-width="0.8"/>
<line x1="160.9" y1="194.41481481481483" x2="163.3" y2="194.41481481481483" stroke="#000" stroke-width="0.8"/>
<line x1="160.9" y1="197.81851851851852" x2="163.3" y2="197.81851851851852" stroke="#000" stroke-width="0.8"/>
<line x1="160.9" y1="201.22222222222223" x2="163.3" y2="201.22222222222223" stroke="#000" stroke-width="0.8"/>
<line x1="160.9" y1="204.62592592592594" x2="163.3" y2="204.62592592592594" stroke="#000" stroke-width="0.8"/>
<line x1="160.9" y1="208.02962962962962" x2="163.3" y2="208.02962962962962" stroke="#000" stroke-width="0.8"/>
<line x1="160.9" y1="211.43333333333334" x2="163.3" y2="211.43333333333334" stroke="#000" stroke-width="0.8"/>
<line x1="160.9" y1="214.83703703703705" x2="163.3" y2="214.83703703703705" stroke="#000" stroke-width="0.8"/>
<line x1="160.9" y1="218.24074074074073" x2="163.3" y2="218.24074074074073" stroke="#000" stroke-width="0.8"/>
<line x1="160.9" y1="221.64444444444445" x2="163.3" y2="221.64444444444445" stroke="#000" stroke-width="0.8"/>
<line x1="160.9" y1="225.04814814814816" x2="163.3" y2="225.04814814814816" stroke="#000" stroke-width="0.8"/>
<line x1="160.9" y1="228.45185185185184" x2="163.3" y2="228.45185185185184" stroke="#000" stroke-width="0.8"/>
<line x1="160.9" y1="231.85555555555555" x2="163.3" y2="231.85555555555555" stroke="#000" stroke-width="0.8"/>
<line x1="160.9" y1="235.25925925925927" x2="163.3" y2="235.25925925925927" stroke="#000" stroke-width="0.8"/>
<line x1="160.9" y1="238.66296296296298" x2="163.3" y2="238.66296296296298" stroke="#000" stroke-width="0.8"/>
<line x1="160.9" y1="242.06666666666666" x2="163.3" y2="242.06666666666666" stroke="#000" stroke-width="0.8"/>
<line x1="160.9" y1="245.47037037037035" x2="163.3" y2="245.47037037037035" stroke="#000" stroke-width="0.8"/>
<line x1="160.9" y1="248.8740740740741" x2="163.3" y2="248.8740740740741" stroke="#000" stroke-width="0.8"/>
<line x1="160.9" y1="252.27777777777777" x2="163.3" y2="252.27777777777777" stroke="#000" stroke-width="0.8"/>
<line x1="160.9" y1="255.68148148148146" x2="163.3" y2="255.68148148148146" stroke="#000" stroke-width="0.8"/>
<line x1="160.9" y1="259.0851851851852" x2="163.3" y2="259.0851851851852" stroke="#000" stroke-width="0.8"/>
<line x1="160.9" y1="262.4888888888889" x2="163.3" y2="262.4888888888889" stroke="#000" stroke-width="0.8"/>
<line x1="160.9" y1="265.89259259259256" x2="163.3" y2="265.89259259259256" stroke="#000" stroke-width="0.8"/>
<line x1="160.9" y1="269.2962962962963" x2="163.3" y2="269.2962962962963" stroke="#000" stroke-width="0.8"/>
<line x1="160.9" y1="272.7" x2="163.3" y2="272.7" stroke="#000" stroke-width="0.8"/>
<line x1="163.3" y1="272.7" x2="163.3" y2="274.9" stroke="#000" stroke-width="0.8"/>
<line x1="166.62222222222223" y1="272.7" x2="166.62222222222223" y2="274.9" stroke="#000" stroke-width="0.8"/>
<line x1="169.94444444444446" y1="272.7" x2="169.94444444444446" y2="274.9" stroke="#000" stroke-width="0.8"/>
<line x1="173.26666666666668" y1="272.7" x2="173.26666666666668" y2="274.9" stroke="#000" stroke-width="0.8"/>
<line x1="176.5888888888889" y1="272.7" x2="176.5888888888889" y2="274.9" stroke="#000" stroke-width="0.8"/>
<line x1="179.91111111111113" y1="272.7" x2="179.91111111111113" y2="274.9" stroke="#000" stroke-width="0.8"/>
<line x1="183.23333333333335" y1="272.7" x2="183.23333333333335" y2="274.9" stroke="#000" stroke-width="0.8"/>
<line x1="186.55555555555557" y1="272.7" x2="186.55555555555557" y2="274.9" stroke="#000" stroke-width="0.8"/>
<line x1="189.8777777777778" y1="272.7" x2="189.8777777777778" y2="274.9" stroke="#000" stroke-width="0.8"/>
<line x1="193.20000000000002" y1="272.7" x2="193.20000000000002" y2="274.9" stroke="#000" stroke-width="0.8"/>
<line x1="196.52222222222224" y1="272.7" x2="196.52222222222224" y2="274.9" stroke="#000" stroke-width="0.8"/>
<line x1="199.84444444444443" y1="272.7" x2="199.84444444444443" y2="274.9" stroke="#000" stroke-width="0.8"/>
<line x1="203.16666666666669" y1="272.7" x2="203.16666666666669" y2="274.9" stroke="#000" stroke-width="0.8"/>
<line x1="206.48888888888888" y1="272.7" x2="206.48888888888888" y2="274.9" stroke="#000" stroke-width="0.8"/>
<line x1="209.8111111111111" y1="272.7" x2="209.8111111111111" y2="274.9" stroke="#000" stroke-width="0.8"/>
<line x1="213.13333333333333" y1="272.7" x2="213.13333333333333" y2="274.9" stroke="#000" stroke-width="0.8"/>
<line x1="216.45555555555558" y1="272.7" x2="216.45555555555558" y2="274.9" stroke="#000" stroke-width="0.8"/>
<line x1="219.77777777777777" y1="272.7" x2="219.77777777777777" y2="274.9" stroke="#000" stroke-width="0.8"/>
<line x1="223.10000000000002" y1="272.7" x2="223.10000000000002" y2="274.9" stroke="#000" stroke-width="0.8"/>
<line x1="226.42222222222222" y1="272.7" x2="226.42222222222222" y2="274.9" stroke="#000" stroke-width="0.8"/>
<line x1="229.74444444444447" y1="272.7" x2="229.74444444444447" y2="274.9" stroke="#000" stroke-width="0.8"/>
<line x1="233.06666666666666" y1="272.7" x2="233.06666666666666" y2="274.9" stroke="#000" stroke-width="0.8"/>
<line x1="236.38888888888889" y1="272.7" x2="236.38888888888889" y2="274.9" stroke="#000" stroke-width="0.8"/>
<line x1="239.7111111111111" y1="272.7" x2="239.7111111111111" y2="274.9" stroke="#000" stroke-width="0.8"/>
<line x1="243.03333333333333" y1="272.7" x2="243.03333333333333" y2="274.9" stroke="#000" stroke-width="0.8"/>
<line x1="246.35555555555555" y1="272.7" x2="246.35555555555555" y2="274.9" stroke="#000" stroke-width="0.8"/>
<line x1="249.67777777777778" y1="272.7" x2="249.67777777777778" y2="274.9" stroke="#000" stroke-width="0.8"/>
<line x1="253.0" y1="272.7" x2="253.0" y2="274.9" stroke="#000" stroke-width="0.8"/>
<text x="271.0" y="165.2" font-size="17.3" text-anchor="start" font-weight="bold" >G</text>
<text x="318.0" y="167.8" font-size="10.5" text-anchor="end" font-weight="bold" >20.2</text>
<text x="318.0" y="178.4" font-size="10.5" text-anchor="end" font-weight="bold" >&#177; 2.4</text>
<text x="352.3" y="167.8" font-size="10.5" text-anchor="end" font-weight="bold" >7.5</text>
<text x="352.3" y="178.4" font-size="10.5" text-anchor="end" font-weight="bold" >&#177; 0.7</text>
<text x="272.6" y="186.4" font-size="9.3" text-anchor="start" font-weight="normal" >10<tspan dy="-5.5" font-size="8">4</tspan></text>
<text x="272.0" y="286.2" font-size="9.3" text-anchor="start" font-weight="normal" >10<tspan dy="-4.5" font-size="8.3">0</tspan></text>
<text x="375.5" y="286.2" font-size="9.3" text-anchor="start" font-weight="normal" >10<tspan dy="-4.5" font-size="8.3">4</tspan></text>
<line x1="290.1" y1="181.0" x2="292.5" y2="181.0" stroke="#000" stroke-width="0.8"/>
<line x1="290.1" y1="184.42962962962963" x2="292.5" y2="184.42962962962963" stroke="#000" stroke-width="0.8"/>
<line x1="290.1" y1="187.85925925925926" x2="292.5" y2="187.85925925925926" stroke="#000" stroke-width="0.8"/>
<line x1="290.1" y1="191.2888888888889" x2="292.5" y2="191.2888888888889" stroke="#000" stroke-width="0.8"/>
<line x1="290.1" y1="194.71851851851852" x2="292.5" y2="194.71851851851852" stroke="#000" stroke-width="0.8"/>
<line x1="290.1" y1="198.14814814814815" x2="292.5" y2="198.14814814814815" stroke="#000" stroke-width="0.8"/>
<line x1="290.1" y1="201.57777777777778" x2="292.5" y2="201.57777777777778" stroke="#000" stroke-width="0.8"/>
<line x1="290.1" y1="205.0074074074074" x2="292.5" y2="205.0074074074074" stroke="#000" stroke-width="0.8"/>
<line x1="290.1" y1="208.43703703703704" x2="292.5" y2="208.43703703703704" stroke="#000" stroke-width="0.8"/>
<line x1="290.1" y1="211.86666666666667" x2="292.5" y2="211.86666666666667" stroke="#000" stroke-width="0.8"/>
<line x1="290.1" y1="215.2962962962963" x2="292.5" y2="215.2962962962963" stroke="#000" stroke-width="0.8"/>
<line x1="290.1" y1="218.72592592592594" x2="292.5" y2="218.72592592592594" stroke="#000" stroke-width="0.8"/>
<line x1="290.1" y1="222.15555555555557" x2="292.5" y2="222.15555555555557" stroke="#000" stroke-width="0.8"/>
<line x1="290.1" y1="225.5851851851852" x2="292.5" y2="225.5851851851852" stroke="#000" stroke-width="0.8"/>
<line x1="290.1" y1="229.01481481481483" x2="292.5" y2="229.01481481481483" stroke="#000" stroke-width="0.8"/>
<line x1="290.1" y1="232.44444444444446" x2="292.5" y2="232.44444444444446" stroke="#000" stroke-width="0.8"/>
<line x1="290.1" y1="235.8740740740741" x2="292.5" y2="235.8740740740741" stroke="#000" stroke-width="0.8"/>
<line x1="290.1" y1="239.30370370370372" x2="292.5" y2="239.30370370370372" stroke="#000" stroke-width="0.8"/>
<line x1="290.1" y1="242.73333333333335" x2="292.5" y2="242.73333333333335" stroke="#000" stroke-width="0.8"/>
<line x1="290.1" y1="246.16296296296298" x2="292.5" y2="246.16296296296298" stroke="#000" stroke-width="0.8"/>
<line x1="290.1" y1="249.5925925925926" x2="292.5" y2="249.5925925925926" stroke="#000" stroke-width="0.8"/>
<line x1="290.1" y1="253.02222222222224" x2="292.5" y2="253.02222222222224" stroke="#000" stroke-width="0.8"/>
<line x1="290.1" y1="256.45185185185187" x2="292.5" y2="256.45185185185187" stroke="#000" stroke-width="0.8"/>
<line x1="290.1" y1="259.8814814814815" x2="292.5" y2="259.8814814814815" stroke="#000" stroke-width="0.8"/>
<line x1="290.1" y1="263.31111111111113" x2="292.5" y2="263.31111111111113" stroke="#000" stroke-width="0.8"/>
<line x1="290.1" y1="266.74074074074076" x2="292.5" y2="266.74074074074076" stroke="#000" stroke-width="0.8"/>
<line x1="290.1" y1="270.1703703703704" x2="292.5" y2="270.1703703703704" stroke="#000" stroke-width="0.8"/>
<line x1="290.1" y1="273.6" x2="292.5" y2="273.6" stroke="#000" stroke-width="0.8"/>
<line x1="292.5" y1="273.6" x2="292.5" y2="275.8" stroke="#000" stroke-width="0.8"/>
<line x1="295.8740740740741" y1="273.6" x2="295.8740740740741" y2="275.8" stroke="#000" stroke-width="0.8"/>
<line x1="299.2481481481482" y1="273.6" x2="299.2481481481482" y2="275.8" stroke="#000" stroke-width="0.8"/>
<line x1="302.6222222222222" y1="273.6" x2="302.6222222222222" y2="275.8" stroke="#000" stroke-width="0.8"/>
<line x1="305.9962962962963" y1="273.6" x2="305.9962962962963" y2="275.8" stroke="#000" stroke-width="0.8"/>
<line x1="309.3703703703704" y1="273.6" x2="309.3703703703704" y2="275.8" stroke="#000" stroke-width="0.8"/>
<line x1="312.74444444444447" y1="273.6" x2="312.74444444444447" y2="275.8" stroke="#000" stroke-width="0.8"/>
<line x1="316.1185185185185" y1="273.6" x2="316.1185185185185" y2="275.8" stroke="#000" stroke-width="0.8"/>
<line x1="319.4925925925926" y1="273.6" x2="319.4925925925926" y2="275.8" stroke="#000" stroke-width="0.8"/>
<line x1="322.8666666666667" y1="273.6" x2="322.8666666666667" y2="275.8" stroke="#000" stroke-width="0.8"/>
<line x1="326.24074074074076" y1="273.6" x2="326.24074074074076" y2="275.8" stroke="#000" stroke-width="0.8"/>
<line x1="329.61481481481485" y1="273.6" x2="329.61481481481485" y2="275.8" stroke="#000" stroke-width="0.8"/>
<line x1="332.9888888888889" y1="273.6" x2="332.9888888888889" y2="275.8" stroke="#000" stroke-width="0.8"/>
<line x1="336.36296296296297" y1="273.6" x2="336.36296296296297" y2="275.8" stroke="#000" stroke-width="0.8"/>
<line x1="339.73703703703706" y1="273.6" x2="339.73703703703706" y2="275.8" stroke="#000" stroke-width="0.8"/>
<line x1="343.11111111111114" y1="273.6" x2="343.11111111111114" y2="275.8" stroke="#000" stroke-width="0.8"/>
<line x1="346.4851851851852" y1="273.6" x2="346.4851851851852" y2="275.8" stroke="#000" stroke-width="0.8"/>
<line x1="349.85925925925926" y1="273.6" x2="349.85925925925926" y2="275.8" stroke="#000" stroke-width="0.8"/>
<line x1="353.23333333333335" y1="273.6" x2="353.23333333333335" y2="275.8" stroke="#000" stroke-width="0.8"/>
<line x1="356.60740740740744" y1="273.6" x2="356.60740740740744" y2="275.8" stroke="#000" stroke-width="0.8"/>
<line x1="359.9814814814815" y1="273.6" x2="359.9814814814815" y2="275.8" stroke="#000" stroke-width="0.8"/>
<line x1="363.35555555555555" y1="273.6" x2="363.35555555555555" y2="275.8" stroke="#000" stroke-width="0.8"/>
<line x1="366.72962962962964" y1="273.6" x2="366.72962962962964" y2="275.8" stroke="#000" stroke-width="0.8"/>
<line x1="370.10370370370373" y1="273.6" x2="370.10370370370373" y2="275.8" stroke="#000" stroke-width="0.8"/>
<line x1="373.4777777777778" y1="273.6" x2="373.4777777777778" y2="275.8" stroke="#000" stroke-width="0.8"/>
<line x1="376.85185185185185" y1="273.6" x2="376.85185185185185" y2="275.8" stroke="#000" stroke-width="0.8"/>
<line x1="380.22592592592594" y1="273.6" x2="380.22592592592594" y2="275.8" stroke="#000" stroke-width="0.8"/>
<line x1="383.6" y1="273.6" x2="383.6" y2="275.8" stroke="#000" stroke-width="0.8"/>
<text x="406.15" y="166.9" font-size="17.3" text-anchor="start" font-weight="bold" >H</text>
<text x="446.4" y="167.8" font-size="10.5" text-anchor="end" font-weight="bold" >14.2</text>
<text x="446.4" y="178.4" font-size="10.5" text-anchor="end" font-weight="bold" >&#177; 3.8</text>
<text x="481.4" y="167.8" font-size="10.5" text-anchor="end" font-weight="bold" >1.6</text>
<text x="481.4" y="178.4" font-size="10.5" text-anchor="end" font-weight="bold" >&#177; 0.6</text>
<text x="400.9" y="186.4" font-size="9.3" text-anchor="start" font-weight="normal" >10<tspan dy="-5.5" font-size="8">4</tspan></text>
<text x="400.5" y="286.2" font-size="9.3" text-anchor="start" font-weight="normal" >10<tspan dy="-4.5" font-size="8.3">0</tspan></text>
<text x="503.8" y="286.2" font-size="9.3" text-anchor="start" font-weight="normal" >10<tspan dy="-4.5" font-size="8.3">4</tspan></text>
<line x1="419.1" y1="181.0" x2="421.5" y2="181.0" stroke="#000" stroke-width="0.8"/>
<line x1="419.1" y1="184.42592592592592" x2="421.5" y2="184.42592592592592" stroke="#000" stroke-width="0.8"/>
<line x1="419.1" y1="187.85185185185185" x2="421.5" y2="187.85185185185185" stroke="#000" stroke-width="0.8"/>
<line x1="419.1" y1="191.27777777777777" x2="421.5" y2="191.27777777777777" stroke="#000" stroke-width="0.8"/>
<line x1="419.1" y1="194.7037037037037" x2="421.5" y2="194.7037037037037" stroke="#000" stroke-width="0.8"/>
<line x1="419.1" y1="198.12962962962962" x2="421.5" y2="198.12962962962962" stroke="#000" stroke-width="0.8"/>
<line x1="419.1" y1="201.55555555555554" x2="421.5" y2="201.55555555555554" stroke="#000" stroke-width="0.8"/>
<line x1="419.1" y1="204.98148148148147" x2="421.5" y2="204.98148148148147" stroke="#000" stroke-width="0.8"/>
<line x1="419.1" y1="208.40740740740742" x2="421.5" y2="208.40740740740742" stroke="#000" stroke-width="0.8"/>
<line x1="419.1" y1="211.83333333333334" x2="421.5" y2="211.83333333333334" stroke="#000" stroke-width="0.8"/>
<line x1="419.1" y1="215.25925925925927" x2="421.5" y2="215.25925925925927" stroke="#000" stroke-width="0.8"/>
<line x1="419.1" y1="218.6851851851852" x2="421.5" y2="218.6851851851852" stroke="#000" stroke-width="0.8"/>
<line x1="419.1" y1="222.11111111111111" x2="421.5" y2="222.11111111111111" stroke="#000" stroke-width="0.8"/>
<line x1="419.1" y1="225.53703703703704" x2="421.5" y2="225.53703703703704" stroke="#000" stroke-width="0.8"/>
<line x1="419.1" y1="228.96296296296296" x2="421.5" y2="228.96296296296296" stroke="#000" stroke-width="0.8"/>
<line x1="419.1" y1="232.38888888888889" x2="421.5" y2="232.38888888888889" stroke="#000" stroke-width="0.8"/>
<line x1="419.1" y1="235.8148148148148" x2="421.5" y2="235.8148148148148" stroke="#000" stroke-width="0.8"/>
<line x1="419.1" y1="239.24074074074073" x2="421.5" y2="239.24074074074073" stroke="#000" stroke-width="0.8"/>
<line x1="419.1" y1="242.66666666666666" x2="421.5" y2="242.66666666666666" stroke="#000" stroke-width="0.8"/>
<line x1="419.1" y1="246.0925925925926" x2="421.5" y2="246.0925925925926" stroke="#000" stroke-width="0.8"/>
<line x1="419.1" y1="249.51851851851853" x2="421.5" y2="249.51851851851853" stroke="#000" stroke-width="0.8"/>
<line x1="419.1" y1="252.94444444444446" x2="421.5" y2="252.94444444444446" stroke="#000" stroke-width="0.8"/>
<line x1="419.1" y1="256.3703703703704" x2="421.5" y2="256.3703703703704" stroke="#000" stroke-width="0.8"/>
<line x1="419.1" y1="259.7962962962963" x2="421.5" y2="259.7962962962963" stroke="#000" stroke-width="0.8"/>
<line x1="419.1" y1="263.22222222222223" x2="421.5" y2="263.22222222222223" stroke="#000" stroke-width="0.8"/>
<line x1="419.1" y1="266.64814814814815" x2="421.5" y2="266.64814814814815" stroke="#000" stroke-width="0.8"/>
<line x1="419.1" y1="270.0740740740741" x2="421.5" y2="270.0740740740741" stroke="#000" stroke-width="0.8"/>
<line x1="419.1" y1="273.5" x2="421.5" y2="273.5" stroke="#000" stroke-width="0.8"/>
<line x1="421.5" y1="273.5" x2="421.5" y2="275.7" stroke="#000" stroke-width="0.8"/>
<line x1="424.85555555555555" y1="273.5" x2="424.85555555555555" y2="275.7" stroke="#000" stroke-width="0.8"/>
<line x1="428.2111111111111" y1="273.5" x2="428.2111111111111" y2="275.7" stroke="#000" stroke-width="0.8"/>
<line x1="431.56666666666666" y1="273.5" x2="431.56666666666666" y2="275.7" stroke="#000" stroke-width="0.8"/>
<line x1="434.9222222222222" y1="273.5" x2="434.9222222222222" y2="275.7" stroke="#000" stroke-width="0.8"/>
<line x1="438.27777777777777" y1="273.5" x2="438.27777777777777" y2="275.7" stroke="#000" stroke-width="0.8"/>
<line x1="441.6333333333333" y1="273.5" x2="441.6333333333333" y2="275.7" stroke="#000" stroke-width="0.8"/>
<line x1="444.9888888888889" y1="273.5" x2="444.9888888888889" y2="275.7" stroke="#000" stroke-width="0.8"/>
<line x1="448.34444444444443" y1="273.5" x2="448.34444444444443" y2="275.7" stroke="#000" stroke-width="0.8"/>
<line x1="451.7" y1="273.5" x2="451.7" y2="275.7" stroke="#000" stroke-width="0.8"/>
<line x1="455.05555555555554" y1="273.5" x2="455.05555555555554" y2="275.7" stroke="#000" stroke-width="0.8"/>
<line x1="458.4111111111111" y1="273.5" x2="458.4111111111111" y2="275.7" stroke="#000" stroke-width="0.8"/>
<line x1="461.76666666666665" y1="273.5" x2="461.76666666666665" y2="275.7" stroke="#000" stroke-width="0.8"/>
<line x1="465.1222222222222" y1="273.5" x2="465.1222222222222" y2="275.7" stroke="#000" stroke-width="0.8"/>
<line x1="468.47777777777776" y1="273.5" x2="468.47777777777776" y2="275.7" stroke="#000" stroke-width="0.8"/>
<line x1="471.83333333333337" y1="273.5" x2="471.83333333333337" y2="275.7" stroke="#000" stroke-width="0.8"/>
<line x1="475.1888888888889" y1="273.5" x2="475.1888888888889" y2="275.7" stroke="#000" stroke-width="0.8"/>
<line x1="478.5444444444445" y1="273.5" x2="478.5444444444445" y2="275.7" stroke="#000" stroke-width="0.8"/>
<line x1="481.90000000000003" y1="273.5" x2="481.90000000000003" y2="275.7" stroke="#000" stroke-width="0.8"/>
<line x1="485.2555555555556" y1="273.5" x2="485.2555555555556" y2="275.7" stroke="#000" stroke-width="0.8"/>
<line x1="488.61111111111114" y1="273.5" x2="488.61111111111114" y2="275.7" stroke="#000" stroke-width="0.8"/>
<line x1="491.9666666666667" y1="273.5" x2="491.9666666666667" y2="275.7" stroke="#000" stroke-width="0.8"/>
<line x1="495.32222222222225" y1="273.5" x2="495.32222222222225" y2="275.7" stroke="#000" stroke-width="0.8"/>
<line x1="498.6777777777778" y1="273.5" x2="498.6777777777778" y2="275.7" stroke="#000" stroke-width="0.8"/>
<line x1="502.03333333333336" y1="273.5" x2="502.03333333333336" y2="275.7" stroke="#000" stroke-width="0.8"/>
<line x1="505.3888888888889" y1="273.5" x2="505.3888888888889" y2="275.7" stroke="#000" stroke-width="0.8"/>
<line x1="508.74444444444447" y1="273.5" x2="508.74444444444447" y2="275.7" stroke="#000" stroke-width="0.8"/>
<line x1="512.1" y1="273.5" x2="512.1" y2="275.7" stroke="#000" stroke-width="0.8"/>
<text transform="translate(12,233.5) rotate(-90)" font-size="12.8" font-weight="bold" text-anchor="middle" textLength="32.8" lengthAdjust="spacingAndGlyphs">CD34</text>
<line x1="18.8" y1="200" x2="18.8" y2="269" stroke="#000" stroke-width="1.8"/>
<path d="M14.6,203.5 L18.8,191.8 L23,203.5 Z" fill="#000"/>
<line x1="32" y1="291.5" x2="502" y2="291.5" stroke="#000" stroke-width="1.8"/>
<path d="M501.2,288 L512.8,291.8 L501.2,295.7 Z" fill="#000"/>
<text x="267.7" y="304" font-size="13" text-anchor="middle" font-weight="bold" textLength="33.3" lengthAdjust="spacingAndGlyphs">CD45</text>
<path d="M37 183h1v1h-1zM39 183h2v1h-2zM45 183h2v1h-2zM49 183h2v1h-2zM55 183h1v1h-1zM58 183h1v1h-1zM40 184h1v1h-1zM43 184h1v1h-1zM45 184h1v1h-1zM48 184h1v1h-1zM50 184h1v1h-1zM55 184h1v1h-1zM59 184h1v1h-1zM34 185h1v1h-1zM39 185h4v1h-4zM47 185h1v1h-1zM52 185h2v1h-2zM56 185h1v1h-1zM58 185h2v1h-2zM62 185h1v1h-1zM36 186h3v1h-3zM40 186h2v1h-2zM43 186h1v1h-1zM48 186h1v1h-1zM51 186h3v1h-3zM55 186h2v1h-2zM67 186h2v1h-2zM39 187h1v1h-1zM41 187h1v1h-1zM43 187h2v1h-2zM50 187h1v1h-1zM52 187h1v1h-1zM74 187h1v1h-1zM36 188h1v1h-1zM42 188h1v1h-1zM49 188h3v1h-3zM57 188h1v1h-1zM80 188h1v1h-1zM34 189h1v1h-1zM36 189h5v1h-5zM43 189h1v1h-1zM49 189h5v1h-5zM59 189h1v1h-1zM35 190h3v1h-3zM41 190h1v1h-1zM43 190h1v1h-1zM45 190h3v1h-3zM49 190h3v1h-3zM53 190h1v1h-1zM58 190h1v1h-1zM65 190h1v1h-1zM38 191h4v1h-4zM43 191h1v1h-1zM45 191h5v1h-5zM52 191h6v1h-6zM35 192h1v1h-1zM37 192h1v1h-1zM41 192h2v1h-2zM44 192h3v1h-3zM48 192h3v1h-3zM53 192h2v1h-2zM59 192h1v1h-1zM35 193h1v1h-1zM38 193h3v1h-3zM49 193h1v1h-1zM55 193h1v1h-1zM58 193h3v1h-3zM72 193h1v1h-1zM75 193h1v1h-1zM34 194h1v1h-1zM37 194h1v1h-1zM39 194h1v1h-1zM43 194h1v1h-1zM49 194h1v1h-1zM52 194h1v1h-1zM54 194h1v1h-1zM60 194h3v1h-3zM65 194h1v1h-1zM37 195h1v1h-1zM40 195h1v1h-1zM42 195h1v1h-1zM45 195h3v1h-3zM54 195h1v1h-1zM56 195h1v1h-1zM61 195h1v1h-1zM74 195h1v1h-1zM37 196h1v1h-1zM40 196h2v1h-2zM43 196h1v1h-1zM45 196h1v1h-1zM47 196h2v1h-2zM53 196h1v1h-1zM56 196h1v1h-1zM59 196h1v1h-1zM62 196h1v1h-1zM38 197h1v1h-1zM41 197h2v1h-2zM47 197h1v1h-1zM49 197h1v1h-1zM51 197h2v1h-2zM54 197h1v1h-1zM58 197h2v1h-2zM61 197h1v1h-1zM63 197h1v1h-1zM36 198h2v1h-2zM44 198h2v1h-2zM52 198h1v1h-1zM54 198h2v1h-2zM62 198h1v1h-1zM70 198h2v1h-2zM34 199h2v1h-2zM39 199h2v1h-2zM42 199h2v1h-2zM51 199h1v1h-1zM53 199h1v1h-1zM55 199h2v1h-2zM59 199h1v1h-1zM61 199h1v1h-1zM64 199h1v1h-1zM38 200h2v1h-2zM41 200h1v1h-1zM52 200h1v1h-1zM64 200h1v1h-1zM37 201h1v1h-1zM42 201h1v1h-1zM45 201h1v1h-1zM49 201h1v1h-1zM56 201h2v1h-2zM65 201h1v1h-1zM34 202h1v1h-1zM38 202h1v1h-1zM44 202h1v1h-1zM50 202h1v1h-1zM52 202h1v1h-1zM54 202h2v1h-2zM58 202h1v1h-1zM65 202h1v1h-1zM82 202h1v1h-1zM38 203h1v1h-1zM46 203h1v1h-1zM52 203h1v1h-1zM54 203h1v1h-1zM63 203h1v1h-1zM69 203h1v1h-1zM72 203h1v1h-1zM41 204h1v1h-1zM51 204h1v1h-1zM54 204h1v1h-1zM60 204h1v1h-1zM65 204h1v1h-1zM68 204h1v1h-1zM71 204h1v1h-1zM34 205h4v1h-4zM42 205h1v1h-1zM45 205h1v1h-1zM47 205h1v1h-1zM52 205h1v1h-1zM57 205h1v1h-1zM62 205h1v1h-1zM65 205h1v1h-1zM34 206h2v1h-2zM37 206h2v1h-2zM43 206h1v1h-1zM50 206h1v1h-1zM55 206h1v1h-1zM65 206h1v1h-1zM68 206h1v1h-1zM74 206h1v1h-1zM36 207h1v1h-1zM50 207h1v1h-1zM63 207h1v1h-1zM79 207h1v1h-1zM35 208h1v1h-1zM37 208h1v1h-1zM45 208h1v1h-1zM58 208h1v1h-1zM60 208h2v1h-2zM67 208h1v1h-1zM36 209h1v1h-1zM38 209h1v1h-1zM40 209h1v1h-1zM45 209h1v1h-1zM47 209h1v1h-1zM55 209h1v1h-1zM58 209h2v1h-2zM63 209h1v1h-1zM79 209h1v1h-1zM82 209h1v1h-1zM45 210h1v1h-1zM48 210h1v1h-1zM58 210h2v1h-2zM61 210h2v1h-2zM65 210h1v1h-1zM73 210h1v1h-1zM39 211h1v1h-1zM42 211h1v1h-1zM45 211h1v1h-1zM59 211h1v1h-1zM61 211h1v1h-1zM74 211h1v1h-1zM42 212h2v1h-2zM47 212h1v1h-1zM52 212h1v1h-1zM59 212h1v1h-1zM45 213h1v1h-1zM52 213h1v1h-1zM57 213h2v1h-2zM64 213h1v1h-1zM34 214h1v1h-1zM38 214h1v1h-1zM47 214h1v1h-1zM58 214h1v1h-1zM60 214h1v1h-1zM79 214h1v1h-1zM88 214h1v1h-1zM38 215h1v1h-1zM41 215h3v1h-3zM52 215h3v1h-3zM58 215h1v1h-1zM62 215h2v1h-2zM80 215h1v1h-1zM82 215h1v1h-1zM35 216h1v1h-1zM43 216h1v1h-1zM49 216h2v1h-2zM52 216h1v1h-1zM54 216h1v1h-1zM57 216h1v1h-1zM61 216h1v1h-1zM64 216h1v1h-1zM68 216h1v1h-1zM36 217h1v1h-1zM38 217h1v1h-1zM41 217h1v1h-1zM48 217h1v1h-1zM51 217h1v1h-1zM56 217h1v1h-1zM61 217h1v1h-1zM63 217h1v1h-1zM67 217h1v1h-1zM74 217h1v1h-1zM80 217h1v1h-1zM42 218h1v1h-1zM54 218h1v1h-1zM70 218h1v1h-1zM82 218h1v1h-1zM34 219h1v1h-1zM37 219h1v1h-1zM40 219h1v1h-1zM45 219h1v1h-1zM51 219h1v1h-1zM64 219h1v1h-1zM68 219h1v1h-1zM37 220h1v1h-1zM64 220h1v1h-1zM73 220h1v1h-1zM36 221h1v1h-1zM38 221h2v1h-2zM42 221h1v1h-1zM53 221h1v1h-1zM64 221h1v1h-1zM67 221h1v1h-1zM81 221h1v1h-1zM42 222h1v1h-1zM49 222h1v1h-1zM53 222h1v1h-1zM63 222h3v1h-3zM69 222h1v1h-1zM71 222h1v1h-1zM73 222h1v1h-1zM34 223h1v1h-1zM38 223h1v1h-1zM42 223h1v1h-1zM47 223h1v1h-1zM52 223h2v1h-2zM64 223h1v1h-1zM76 223h1v1h-1zM35 224h1v1h-1zM45 224h1v1h-1zM47 224h1v1h-1zM52 224h2v1h-2zM55 224h2v1h-2zM61 224h1v1h-1zM67 224h1v1h-1zM43 225h1v1h-1zM57 225h2v1h-2zM60 225h1v1h-1zM76 225h1v1h-1zM34 226h2v1h-2zM38 226h1v1h-1zM41 226h2v1h-2zM46 226h1v1h-1zM51 226h1v1h-1zM53 226h1v1h-1zM65 226h1v1h-1zM34 227h1v1h-1zM36 227h1v1h-1zM44 227h2v1h-2zM47 227h1v1h-1zM36 228h1v1h-1zM38 228h1v1h-1zM46 228h2v1h-2zM51 228h1v1h-1zM62 228h1v1h-1zM66 228h1v1h-1zM72 228h1v1h-1zM40 229h1v1h-1zM47 229h1v1h-1zM56 229h1v1h-1zM74 229h1v1h-1zM51 230h1v1h-1zM54 230h1v1h-1zM69 230h1v1h-1zM76 230h1v1h-1zM83 230h1v1h-1zM42 231h1v1h-1zM44 231h1v1h-1zM51 231h1v1h-1zM61 231h1v1h-1zM38 232h1v1h-1zM40 232h1v1h-1zM43 232h1v1h-1zM40 233h1v1h-1zM43 233h1v1h-1zM48 233h1v1h-1zM52 233h1v1h-1zM57 233h1v1h-1zM64 233h1v1h-1zM37 234h2v1h-2zM49 234h1v1h-1zM52 234h1v1h-1zM55 234h2v1h-2zM35 235h2v1h-2zM49 235h1v1h-1zM52 235h1v1h-1zM71 235h1v1h-1zM76 235h1v1h-1zM35 236h2v1h-2zM38 236h1v1h-1zM40 236h1v1h-1zM45 236h2v1h-2zM59 236h1v1h-1zM61 236h1v1h-1zM81 236h1v1h-1zM37 237h1v1h-1zM42 237h2v1h-2zM53 237h1v1h-1zM60 237h1v1h-1zM75 237h1v1h-1zM38 238h1v1h-1zM42 238h1v1h-1zM48 238h1v1h-1zM56 238h1v1h-1zM34 239h1v1h-1zM41 239h2v1h-2zM46 239h2v1h-2zM49 239h1v1h-1zM51 239h1v1h-1zM57 239h1v1h-1zM60 239h1v1h-1zM38 240h1v1h-1zM45 240h1v1h-1zM49 240h1v1h-1zM52 240h1v1h-1zM55 240h1v1h-1zM37 241h1v1h-1zM41 241h1v1h-1zM49 241h1v1h-1zM67 241h1v1h-1zM34 242h1v1h-1zM36 242h1v1h-1zM39 242h1v1h-1zM42 242h1v1h-1zM44 242h1v1h-1zM47 242h1v1h-1zM57 242h1v1h-1zM37 243h1v1h-1zM43 243h2v1h-2zM46 243h2v1h-2zM49 243h1v1h-1zM34 244h1v1h-1zM37 244h1v1h-1zM39 244h1v1h-1zM44 244h4v1h-4zM54 244h1v1h-1zM59 244h1v1h-1zM66 244h1v1h-1zM34 245h1v1h-1zM36 245h4v1h-4zM41 245h3v1h-3zM49 245h1v1h-1zM51 245h1v1h-1zM53 245h1v1h-1zM56 245h2v1h-2zM38 246h3v1h-3zM42 246h2v1h-2zM45 246h3v1h-3zM50 246h1v1h-1zM52 246h3v1h-3zM59 246h2v1h-2zM34 247h1v1h-1zM37 247h2v1h-2zM40 247h9v1h-9zM55 247h1v1h-1zM36 248h3v1h-3zM43 248h2v1h-2zM46 248h5v1h-5zM52 248h1v1h-1zM55 248h1v1h-1zM57 248h3v1h-3zM62 248h1v1h-1zM34 249h1v1h-1zM37 249h1v1h-1zM39 249h2v1h-2zM43 249h1v1h-1zM46 249h5v1h-5zM52 249h3v1h-3zM57 249h1v1h-1zM35 250h1v1h-1zM39 250h1v1h-1zM42 250h6v1h-6zM49 250h2v1h-2zM52 250h2v1h-2zM55 250h1v1h-1zM58 250h2v1h-2zM34 251h2v1h-2zM38 251h2v1h-2zM41 251h3v1h-3zM45 251h7v1h-7zM53 251h1v1h-1zM57 251h2v1h-2zM62 251h2v1h-2zM34 252h1v1h-1zM36 252h1v1h-1zM38 252h12v1h-12zM52 252h2v1h-2zM55 252h1v1h-1zM58 252h1v1h-1zM63 252h1v1h-1zM34 253h7v1h-7zM42 253h8v1h-8zM52 253h3v1h-3zM56 253h2v1h-2zM60 253h1v1h-1zM34 254h2v1h-2zM37 254h12v1h-12zM50 254h1v1h-1zM53 254h2v1h-2zM56 254h1v1h-1zM60 254h1v1h-1zM62 254h1v1h-1zM34 255h12v1h-12zM47 255h4v1h-4zM52 255h1v1h-1zM54 255h2v1h-2zM57 255h2v1h-2zM65 255h1v1h-1zM34 256h14v1h-14zM49 256h3v1h-3zM53 256h1v1h-1zM56 256h4v1h-4zM34 257h6v1h-6zM41 257h10v1h-10zM52 257h4v1h-4zM34 258h10v1h-10zM45 258h5v1h-5zM51 258h3v1h-3zM55 258h2v1h-2zM58 258h1v1h-1zM34 259h19v1h-19zM54 259h1v1h-1zM56 259h3v1h-3zM60 259h1v1h-1zM66 259h1v1h-1zM34 260h11v1h-11zM46 260h4v1h-4zM51 260h6v1h-6zM58 260h3v1h-3zM63 260h1v1h-1zM34 261h1v1h-1zM36 261h16v1h-16zM53 261h8v1h-8zM34 262h2v1h-2zM37 262h14v1h-14zM52 262h5v1h-5zM58 262h1v1h-1zM36 263h14v1h-14zM51 263h2v1h-2zM54 263h3v1h-3zM59 263h1v1h-1zM35 264h24v1h-24zM34 265h3v1h-3zM39 265h9v1h-9zM49 265h4v1h-4zM55 265h1v1h-1zM59 265h1v1h-1zM36 266h7v1h-7zM44 266h4v1h-4zM49 266h6v1h-6zM56 266h2v1h-2zM60 266h1v1h-1zM34 267h4v1h-4zM39 267h13v1h-13zM53 267h1v1h-1zM55 267h1v1h-1zM58 267h2v1h-2zM36 268h2v1h-2zM39 268h4v1h-4zM44 268h2v1h-2zM47 268h2v1h-2zM51 268h1v1h-1zM53 268h1v1h-1zM55 268h1v1h-1zM57 268h1v1h-1zM59 268h2v1h-2zM34 269h1v1h-1zM36 269h4v1h-4zM41 269h3v1h-3zM45 269h3v1h-3zM52 269h1v1h-1zM56 269h1v1h-1zM64 269h1v1h-1zM34 270h1v1h-1zM38 270h8v1h-8zM47 270h3v1h-3zM51 270h3v1h-3zM58 270h1v1h-1zM69 270h1v1h-1z" fill="#262626"/>
<path d="M166 182h2v1h-2zM169 182h2v1h-2zM172 182h4v1h-4zM180 182h1v1h-1zM183 182h2v1h-2zM188 182h1v1h-1zM168 183h1v1h-1zM172 183h1v1h-1zM175 183h1v1h-1zM178 183h2v1h-2zM184 183h3v1h-3zM166 184h1v1h-1zM170 184h1v1h-1zM174 184h3v1h-3zM181 184h1v1h-1zM184 184h1v1h-1zM188 184h1v1h-1zM192 184h1v1h-1zM165 185h1v1h-1zM169 185h1v1h-1zM179 185h1v1h-1zM184 185h1v1h-1zM189 185h1v1h-1zM176 186h1v1h-1zM187 186h1v1h-1zM190 186h1v1h-1zM206 186h1v1h-1zM208 186h1v1h-1zM167 187h1v1h-1zM170 187h1v1h-1zM172 187h1v1h-1zM177 187h1v1h-1zM179 187h1v1h-1zM181 187h1v1h-1zM183 187h1v1h-1zM166 188h1v1h-1zM174 188h3v1h-3zM178 188h1v1h-1zM187 188h1v1h-1zM168 189h1v1h-1zM172 189h2v1h-2zM175 189h1v1h-1zM178 189h1v1h-1zM188 189h1v1h-1zM169 190h1v1h-1zM174 190h1v1h-1zM177 190h1v1h-1zM181 190h2v1h-2zM184 190h1v1h-1zM188 190h1v1h-1zM206 190h1v1h-1zM165 191h2v1h-2zM174 191h1v1h-1zM183 191h1v1h-1zM185 191h2v1h-2zM192 191h1v1h-1zM166 192h2v1h-2zM179 192h1v1h-1zM184 192h3v1h-3zM188 192h2v1h-2zM195 192h1v1h-1zM200 192h1v1h-1zM166 193h2v1h-2zM171 193h1v1h-1zM174 193h1v1h-1zM176 193h1v1h-1zM178 193h3v1h-3zM185 193h1v1h-1zM192 193h1v1h-1zM167 194h1v1h-1zM170 194h1v1h-1zM174 194h1v1h-1zM180 194h1v1h-1zM183 194h1v1h-1zM187 194h2v1h-2zM190 194h1v1h-1zM198 194h1v1h-1zM167 195h1v1h-1zM171 195h1v1h-1zM173 195h1v1h-1zM179 195h2v1h-2zM182 195h1v1h-1zM184 195h3v1h-3zM192 195h1v1h-1zM194 195h1v1h-1zM197 195h2v1h-2zM200 195h1v1h-1zM169 196h2v1h-2zM174 196h3v1h-3zM178 196h1v1h-1zM181 196h1v1h-1zM184 196h1v1h-1zM200 196h1v1h-1zM204 196h1v1h-1zM208 196h1v1h-1zM170 197h3v1h-3zM179 197h1v1h-1zM190 197h1v1h-1zM200 197h1v1h-1zM208 197h1v1h-1zM218 197h1v1h-1zM165 198h1v1h-1zM170 198h1v1h-1zM173 198h3v1h-3zM177 198h1v1h-1zM179 198h1v1h-1zM186 198h3v1h-3zM192 198h1v1h-1zM198 198h2v1h-2zM167 199h1v1h-1zM171 199h1v1h-1zM173 199h1v1h-1zM176 199h1v1h-1zM178 199h1v1h-1zM185 199h1v1h-1zM193 199h1v1h-1zM197 199h1v1h-1zM169 200h1v1h-1zM173 200h1v1h-1zM195 200h2v1h-2zM201 200h2v1h-2zM207 200h1v1h-1zM165 201h1v1h-1zM171 201h2v1h-2zM174 201h2v1h-2zM178 201h1v1h-1zM185 201h1v1h-1zM189 201h1v1h-1zM192 201h1v1h-1zM204 201h1v1h-1zM169 202h1v1h-1zM174 202h1v1h-1zM177 202h3v1h-3zM185 202h1v1h-1zM189 202h2v1h-2zM196 202h2v1h-2zM204 202h1v1h-1zM208 202h1v1h-1zM166 203h1v1h-1zM171 203h1v1h-1zM176 203h1v1h-1zM178 203h1v1h-1zM180 203h2v1h-2zM184 203h1v1h-1zM186 203h1v1h-1zM197 203h1v1h-1zM204 203h1v1h-1zM207 203h1v1h-1zM210 203h1v1h-1zM213 203h1v1h-1zM165 204h1v1h-1zM168 204h1v1h-1zM170 204h1v1h-1zM172 204h1v1h-1zM176 204h1v1h-1zM180 204h2v1h-2zM184 204h1v1h-1zM186 204h1v1h-1zM188 204h2v1h-2zM194 204h1v1h-1zM200 204h2v1h-2zM203 204h1v1h-1zM209 204h1v1h-1zM173 205h2v1h-2zM184 205h3v1h-3zM192 205h2v1h-2zM200 205h1v1h-1zM205 205h1v1h-1zM177 206h1v1h-1zM181 206h1v1h-1zM183 206h2v1h-2zM186 206h1v1h-1zM188 206h2v1h-2zM197 206h1v1h-1zM199 206h1v1h-1zM202 206h1v1h-1zM205 206h1v1h-1zM209 206h1v1h-1zM216 206h1v1h-1zM170 207h2v1h-2zM173 207h2v1h-2zM177 207h1v1h-1zM180 207h1v1h-1zM182 207h1v1h-1zM190 207h1v1h-1zM193 207h1v1h-1zM195 207h1v1h-1zM198 207h2v1h-2zM202 207h1v1h-1zM204 207h1v1h-1zM212 207h1v1h-1zM165 208h1v1h-1zM167 208h1v1h-1zM169 208h7v1h-7zM181 208h1v1h-1zM184 208h1v1h-1zM187 208h3v1h-3zM194 208h1v1h-1zM196 208h1v1h-1zM198 208h2v1h-2zM201 208h1v1h-1zM203 208h1v1h-1zM210 208h1v1h-1zM216 208h1v1h-1zM172 209h1v1h-1zM174 209h1v1h-1zM186 209h1v1h-1zM188 209h1v1h-1zM190 209h1v1h-1zM201 209h1v1h-1zM206 209h1v1h-1zM167 210h1v1h-1zM175 210h1v1h-1zM180 210h5v1h-5zM188 210h1v1h-1zM199 210h1v1h-1zM167 211h1v1h-1zM170 211h2v1h-2zM174 211h1v1h-1zM178 211h1v1h-1zM184 211h2v1h-2zM197 211h2v1h-2zM204 211h2v1h-2zM211 211h1v1h-1zM165 212h1v1h-1zM175 212h1v1h-1zM178 212h1v1h-1zM180 212h1v1h-1zM183 212h2v1h-2zM188 212h1v1h-1zM193 212h3v1h-3zM198 212h1v1h-1zM200 212h1v1h-1zM202 212h3v1h-3zM166 213h1v1h-1zM174 213h1v1h-1zM176 213h1v1h-1zM183 213h1v1h-1zM187 213h1v1h-1zM198 213h1v1h-1zM200 213h3v1h-3zM167 214h1v1h-1zM173 214h1v1h-1zM176 214h1v1h-1zM180 214h2v1h-2zM183 214h1v1h-1zM186 214h1v1h-1zM196 214h3v1h-3zM201 214h3v1h-3zM206 214h1v1h-1zM165 215h2v1h-2zM172 215h1v1h-1zM174 215h1v1h-1zM181 215h1v1h-1zM185 215h1v1h-1zM190 215h1v1h-1zM202 215h1v1h-1zM169 216h1v1h-1zM173 216h1v1h-1zM181 216h1v1h-1zM183 216h1v1h-1zM192 216h1v1h-1zM194 216h1v1h-1zM198 216h1v1h-1zM165 217h1v1h-1zM167 217h2v1h-2zM170 217h2v1h-2zM174 217h1v1h-1zM178 217h1v1h-1zM186 217h2v1h-2zM197 217h1v1h-1zM199 217h3v1h-3zM168 218h1v1h-1zM179 218h1v1h-1zM182 218h2v1h-2zM186 218h1v1h-1zM189 218h1v1h-1zM196 218h2v1h-2zM209 218h1v1h-1zM165 219h1v1h-1zM177 219h2v1h-2zM181 219h1v1h-1zM184 219h1v1h-1zM194 219h1v1h-1zM198 219h2v1h-2zM201 219h1v1h-1zM205 219h1v1h-1zM170 220h1v1h-1zM173 220h2v1h-2zM176 220h1v1h-1zM181 220h1v1h-1zM183 220h1v1h-1zM187 220h1v1h-1zM192 220h1v1h-1zM195 220h1v1h-1zM198 220h1v1h-1zM201 220h1v1h-1zM205 220h1v1h-1zM209 220h1v1h-1zM167 221h3v1h-3zM176 221h1v1h-1zM179 221h1v1h-1zM186 221h1v1h-1zM195 221h1v1h-1zM168 222h1v1h-1zM170 222h2v1h-2zM174 222h1v1h-1zM177 222h1v1h-1zM181 222h1v1h-1zM186 222h2v1h-2zM189 222h1v1h-1zM199 222h1v1h-1zM165 223h1v1h-1zM169 223h2v1h-2zM173 223h1v1h-1zM177 223h1v1h-1zM184 223h1v1h-1zM190 223h1v1h-1zM197 223h2v1h-2zM210 223h1v1h-1zM169 224h3v1h-3zM180 224h1v1h-1zM186 224h1v1h-1zM188 224h1v1h-1zM190 224h1v1h-1zM192 224h1v1h-1zM203 224h1v1h-1zM170 225h1v1h-1zM172 225h1v1h-1zM177 225h1v1h-1zM180 225h2v1h-2zM189 225h1v1h-1zM198 225h1v1h-1zM205 225h1v1h-1zM209 225h2v1h-2zM166 226h1v1h-1zM169 226h1v1h-1zM178 226h1v1h-1zM187 226h1v1h-1zM190 226h1v1h-1zM194 226h1v1h-1zM196 226h1v1h-1zM199 226h1v1h-1zM202 226h1v1h-1zM207 226h1v1h-1zM165 227h1v1h-1zM167 227h1v1h-1zM169 227h1v1h-1zM171 227h2v1h-2zM180 227h2v1h-2zM183 227h2v1h-2zM186 227h1v1h-1zM189 227h1v1h-1zM196 227h1v1h-1zM170 228h1v1h-1zM173 228h1v1h-1zM176 228h2v1h-2zM184 228h1v1h-1zM194 228h1v1h-1zM205 228h1v1h-1zM168 229h1v1h-1zM170 229h1v1h-1zM174 229h1v1h-1zM179 229h1v1h-1zM181 229h2v1h-2zM186 229h1v1h-1zM188 229h2v1h-2zM198 229h2v1h-2zM201 229h1v1h-1zM170 230h1v1h-1zM174 230h1v1h-1zM176 230h2v1h-2zM180 230h1v1h-1zM184 230h1v1h-1zM192 230h1v1h-1zM198 230h1v1h-1zM213 230h1v1h-1zM166 231h1v1h-1zM173 231h1v1h-1zM175 231h2v1h-2zM198 231h2v1h-2zM169 232h3v1h-3zM173 232h1v1h-1zM189 232h1v1h-1zM193 232h1v1h-1zM196 232h1v1h-1zM167 233h1v1h-1zM171 233h1v1h-1zM179 233h2v1h-2zM183 233h1v1h-1zM185 233h1v1h-1zM166 234h4v1h-4zM176 234h1v1h-1zM179 234h2v1h-2zM190 234h1v1h-1zM197 234h1v1h-1zM202 234h1v1h-1zM165 235h1v1h-1zM168 235h1v1h-1zM175 235h1v1h-1zM178 235h3v1h-3zM186 235h2v1h-2zM211 235h2v1h-2zM165 236h2v1h-2zM168 236h1v1h-1zM175 236h1v1h-1zM183 236h1v1h-1zM185 236h1v1h-1zM194 236h1v1h-1zM166 237h1v1h-1zM173 237h1v1h-1zM175 237h1v1h-1zM178 237h1v1h-1zM186 237h2v1h-2zM189 237h2v1h-2zM172 238h3v1h-3zM178 238h1v1h-1zM180 238h1v1h-1zM183 238h2v1h-2zM167 239h2v1h-2zM170 239h1v1h-1zM180 239h1v1h-1zM182 239h1v1h-1zM165 240h1v1h-1zM167 240h1v1h-1zM171 240h1v1h-1zM173 240h1v1h-1zM175 240h1v1h-1zM173 241h2v1h-2zM184 241h1v1h-1zM189 241h1v1h-1zM198 241h1v1h-1zM166 242h1v1h-1zM170 242h1v1h-1zM174 242h2v1h-2zM178 242h4v1h-4zM183 242h1v1h-1zM188 242h2v1h-2zM200 242h1v1h-1zM173 243h1v1h-1zM187 243h2v1h-2zM212 243h1v1h-1zM165 244h1v1h-1zM167 244h1v1h-1zM171 244h2v1h-2zM175 244h3v1h-3zM179 244h1v1h-1zM181 244h1v1h-1zM183 244h1v1h-1zM190 244h1v1h-1zM166 245h2v1h-2zM170 245h1v1h-1zM172 245h1v1h-1zM181 245h1v1h-1zM183 245h1v1h-1zM185 245h1v1h-1zM188 245h1v1h-1zM166 246h1v1h-1zM169 246h1v1h-1zM173 246h1v1h-1zM176 246h1v1h-1zM178 246h2v1h-2zM182 246h3v1h-3zM187 246h1v1h-1zM167 247h1v1h-1zM172 247h2v1h-2zM178 247h1v1h-1zM180 247h2v1h-2zM183 247h2v1h-2zM186 247h1v1h-1zM189 247h1v1h-1zM165 248h3v1h-3zM169 248h5v1h-5zM180 248h1v1h-1zM182 248h2v1h-2zM186 248h1v1h-1zM199 248h1v1h-1zM203 248h1v1h-1zM165 249h1v1h-1zM168 249h1v1h-1zM170 249h2v1h-2zM174 249h2v1h-2zM178 249h3v1h-3zM187 249h1v1h-1zM167 250h1v1h-1zM171 250h2v1h-2zM179 250h1v1h-1zM182 250h2v1h-2zM186 250h2v1h-2zM166 251h1v1h-1zM169 251h3v1h-3zM173 251h1v1h-1zM175 251h3v1h-3zM180 251h1v1h-1zM184 251h3v1h-3zM188 251h3v1h-3zM165 252h2v1h-2zM168 252h1v1h-1zM170 252h2v1h-2zM173 252h2v1h-2zM176 252h2v1h-2zM181 252h1v1h-1zM185 252h1v1h-1zM188 252h3v1h-3zM193 252h1v1h-1zM199 252h1v1h-1zM166 253h10v1h-10zM177 253h4v1h-4zM183 253h1v1h-1zM185 253h1v1h-1zM187 253h3v1h-3zM165 254h1v1h-1zM167 254h7v1h-7zM175 254h6v1h-6zM183 254h1v1h-1zM186 254h1v1h-1zM188 254h3v1h-3zM165 255h2v1h-2zM170 255h6v1h-6zM177 255h2v1h-2zM181 255h1v1h-1zM184 255h2v1h-2zM187 255h1v1h-1zM190 255h1v1h-1zM165 256h1v1h-1zM168 256h7v1h-7zM176 256h1v1h-1zM178 256h4v1h-4zM185 256h1v1h-1zM187 256h1v1h-1zM189 256h2v1h-2zM166 257h4v1h-4zM171 257h3v1h-3zM175 257h9v1h-9zM185 257h1v1h-1zM187 257h1v1h-1zM189 257h2v1h-2zM166 258h2v1h-2zM171 258h11v1h-11zM183 258h2v1h-2zM188 258h1v1h-1zM165 259h5v1h-5zM171 259h1v1h-1zM173 259h3v1h-3zM177 259h4v1h-4zM182 259h1v1h-1zM184 259h4v1h-4zM165 260h1v1h-1zM169 260h3v1h-3zM173 260h5v1h-5zM179 260h3v1h-3zM183 260h1v1h-1zM187 260h1v1h-1zM166 261h3v1h-3zM170 261h7v1h-7zM178 261h3v1h-3zM182 261h5v1h-5zM188 261h1v1h-1zM190 261h1v1h-1zM167 262h1v1h-1zM169 262h6v1h-6zM176 262h1v1h-1zM178 262h1v1h-1zM180 262h2v1h-2zM183 262h2v1h-2zM186 262h5v1h-5zM209 262h1v1h-1zM166 263h12v1h-12zM179 263h5v1h-5zM185 263h6v1h-6zM166 264h2v1h-2zM169 264h9v1h-9zM181 264h3v1h-3zM187 264h1v1h-1zM189 264h1v1h-1zM165 265h7v1h-7zM174 265h9v1h-9zM184 265h2v1h-2zM188 265h3v1h-3zM165 266h18v1h-18zM186 266h1v1h-1zM188 266h1v1h-1zM190 266h1v1h-1zM165 267h3v1h-3zM169 267h2v1h-2zM172 267h1v1h-1zM175 267h3v1h-3zM179 267h5v1h-5zM186 267h3v1h-3zM165 268h5v1h-5zM174 268h5v1h-5zM183 268h2v1h-2zM187 268h1v1h-1zM189 268h1v1h-1zM168 269h2v1h-2zM171 269h2v1h-2zM174 269h8v1h-8zM183 269h3v1h-3zM187 269h1v1h-1zM190 269h1v1h-1zM166 270h10v1h-10zM177 270h4v1h-4zM182 270h2v1h-2zM186 270h1v1h-1zM188 270h3v1h-3z" fill="#262626"/>
<path d="M301 182h1v1h-1zM309 182h2v1h-2zM312 182h2v1h-2zM317 182h2v1h-2zM320 182h1v1h-1zM294 183h1v1h-1zM305 183h1v1h-1zM309 183h1v1h-1zM313 183h1v1h-1zM317 183h3v1h-3zM329 183h1v1h-1zM301 184h2v1h-2zM304 184h1v1h-1zM307 184h1v1h-1zM310 185h1v1h-1zM313 185h1v1h-1zM317 185h1v1h-1zM296 186h1v1h-1zM302 186h1v1h-1zM304 186h1v1h-1zM307 186h1v1h-1zM310 186h1v1h-1zM312 186h1v1h-1zM314 186h1v1h-1zM316 186h1v1h-1zM318 186h1v1h-1zM330 186h1v1h-1zM332 186h2v1h-2zM303 187h1v1h-1zM312 187h2v1h-2zM324 187h2v1h-2zM296 188h2v1h-2zM300 188h1v1h-1zM310 188h1v1h-1zM318 188h2v1h-2zM329 188h1v1h-1zM336 188h1v1h-1zM296 189h2v1h-2zM304 189h1v1h-1zM306 189h1v1h-1zM311 189h1v1h-1zM313 189h1v1h-1zM297 190h1v1h-1zM302 190h1v1h-1zM304 190h1v1h-1zM309 190h1v1h-1zM313 190h1v1h-1zM315 190h1v1h-1zM323 190h1v1h-1zM327 190h1v1h-1zM330 190h1v1h-1zM333 190h1v1h-1zM294 191h1v1h-1zM296 191h2v1h-2zM311 191h1v1h-1zM314 191h1v1h-1zM294 192h1v1h-1zM300 192h1v1h-1zM302 192h1v1h-1zM306 192h1v1h-1zM308 192h1v1h-1zM310 192h1v1h-1zM313 192h2v1h-2zM319 192h1v1h-1zM329 192h1v1h-1zM294 193h2v1h-2zM299 193h1v1h-1zM306 193h2v1h-2zM311 193h1v1h-1zM316 193h1v1h-1zM318 193h1v1h-1zM332 193h1v1h-1zM294 194h2v1h-2zM297 194h1v1h-1zM303 194h1v1h-1zM307 194h1v1h-1zM310 194h2v1h-2zM314 194h1v1h-1zM316 194h3v1h-3zM337 194h1v1h-1zM294 195h1v1h-1zM297 195h1v1h-1zM300 195h1v1h-1zM305 195h1v1h-1zM307 195h1v1h-1zM310 195h1v1h-1zM312 195h1v1h-1zM315 195h1v1h-1zM325 195h1v1h-1zM339 195h1v1h-1zM294 196h1v1h-1zM296 196h1v1h-1zM302 196h1v1h-1zM304 196h2v1h-2zM308 196h3v1h-3zM332 196h1v1h-1zM335 196h2v1h-2zM295 197h1v1h-1zM298 197h1v1h-1zM301 197h4v1h-4zM306 197h2v1h-2zM310 197h1v1h-1zM312 197h2v1h-2zM315 197h2v1h-2zM325 197h1v1h-1zM329 197h1v1h-1zM296 198h1v1h-1zM298 198h1v1h-1zM301 198h1v1h-1zM303 198h1v1h-1zM307 198h2v1h-2zM311 198h1v1h-1zM313 198h1v1h-1zM315 198h2v1h-2zM329 198h1v1h-1zM332 198h1v1h-1zM296 199h1v1h-1zM299 199h1v1h-1zM301 199h2v1h-2zM304 199h2v1h-2zM308 199h1v1h-1zM312 199h1v1h-1zM316 199h1v1h-1zM324 199h1v1h-1zM327 199h1v1h-1zM333 199h2v1h-2zM336 199h1v1h-1zM340 199h1v1h-1zM295 200h2v1h-2zM298 200h2v1h-2zM304 200h4v1h-4zM314 200h2v1h-2zM322 200h1v1h-1zM330 200h1v1h-1zM333 200h1v1h-1zM339 200h1v1h-1zM294 201h1v1h-1zM302 201h2v1h-2zM308 201h2v1h-2zM312 201h2v1h-2zM325 201h1v1h-1zM327 201h1v1h-1zM329 201h1v1h-1zM331 201h1v1h-1zM334 201h1v1h-1zM297 202h1v1h-1zM301 202h2v1h-2zM304 202h1v1h-1zM307 202h1v1h-1zM311 202h2v1h-2zM324 202h1v1h-1zM328 202h1v1h-1zM331 202h2v1h-2zM294 203h3v1h-3zM299 203h1v1h-1zM319 203h1v1h-1zM328 203h1v1h-1zM338 203h1v1h-1zM346 203h1v1h-1zM294 204h2v1h-2zM298 204h1v1h-1zM300 204h1v1h-1zM304 204h1v1h-1zM306 204h2v1h-2zM309 204h1v1h-1zM312 204h1v1h-1zM315 204h1v1h-1zM319 204h1v1h-1zM330 204h2v1h-2zM349 204h1v1h-1zM296 205h2v1h-2zM303 205h1v1h-1zM306 205h2v1h-2zM311 205h2v1h-2zM314 205h2v1h-2zM325 205h1v1h-1zM328 205h2v1h-2zM333 205h1v1h-1zM335 205h1v1h-1zM297 206h1v1h-1zM312 206h1v1h-1zM315 206h1v1h-1zM325 206h1v1h-1zM327 206h1v1h-1zM329 206h1v1h-1zM332 206h1v1h-1zM334 206h3v1h-3zM341 206h1v1h-1zM296 207h1v1h-1zM298 207h1v1h-1zM306 207h1v1h-1zM315 207h2v1h-2zM326 207h1v1h-1zM332 207h2v1h-2zM337 207h1v1h-1zM342 207h1v1h-1zM296 208h1v1h-1zM299 208h1v1h-1zM303 208h2v1h-2zM309 208h3v1h-3zM315 208h3v1h-3zM323 208h1v1h-1zM325 208h1v1h-1zM327 208h1v1h-1zM329 208h1v1h-1zM297 209h1v1h-1zM300 209h1v1h-1zM303 209h1v1h-1zM307 209h1v1h-1zM309 209h3v1h-3zM323 209h1v1h-1zM326 209h1v1h-1zM330 209h3v1h-3zM335 209h1v1h-1zM341 209h1v1h-1zM302 210h1v1h-1zM308 210h1v1h-1zM311 210h2v1h-2zM317 210h1v1h-1zM326 210h1v1h-1zM333 210h1v1h-1zM342 210h1v1h-1zM298 211h1v1h-1zM301 211h1v1h-1zM303 211h2v1h-2zM308 211h1v1h-1zM314 211h1v1h-1zM322 211h1v1h-1zM328 211h1v1h-1zM331 211h2v1h-2zM334 211h1v1h-1zM297 212h1v1h-1zM300 212h1v1h-1zM309 212h2v1h-2zM318 212h1v1h-1zM323 212h1v1h-1zM327 212h3v1h-3zM334 212h1v1h-1zM342 212h1v1h-1zM296 213h1v1h-1zM318 213h1v1h-1zM327 213h1v1h-1zM330 213h1v1h-1zM332 213h1v1h-1zM334 213h1v1h-1zM336 213h1v1h-1zM295 214h1v1h-1zM298 214h1v1h-1zM300 214h1v1h-1zM306 214h1v1h-1zM312 214h1v1h-1zM316 214h1v1h-1zM318 214h1v1h-1zM332 214h2v1h-2zM335 214h1v1h-1zM298 215h1v1h-1zM302 215h1v1h-1zM312 215h1v1h-1zM317 215h1v1h-1zM329 215h1v1h-1zM331 215h1v1h-1zM341 215h1v1h-1zM306 216h1v1h-1zM320 216h1v1h-1zM330 216h2v1h-2zM298 217h2v1h-2zM304 217h1v1h-1zM310 217h1v1h-1zM327 217h2v1h-2zM330 217h2v1h-2zM333 217h1v1h-1zM335 217h1v1h-1zM294 218h1v1h-1zM296 218h1v1h-1zM304 218h1v1h-1zM325 218h1v1h-1zM327 218h2v1h-2zM330 218h2v1h-2zM337 218h1v1h-1zM294 219h1v1h-1zM296 219h2v1h-2zM304 219h2v1h-2zM315 219h1v1h-1zM317 219h1v1h-1zM323 219h1v1h-1zM327 219h1v1h-1zM335 219h1v1h-1zM295 220h2v1h-2zM308 220h1v1h-1zM312 220h1v1h-1zM314 220h1v1h-1zM324 220h1v1h-1zM333 220h1v1h-1zM337 220h1v1h-1zM308 221h1v1h-1zM314 221h1v1h-1zM322 221h2v1h-2zM326 221h5v1h-5zM333 221h1v1h-1zM339 221h1v1h-1zM296 222h1v1h-1zM299 222h1v1h-1zM303 222h1v1h-1zM308 222h1v1h-1zM315 222h1v1h-1zM324 222h2v1h-2zM327 222h3v1h-3zM331 222h2v1h-2zM337 222h1v1h-1zM340 222h1v1h-1zM296 223h1v1h-1zM298 223h1v1h-1zM314 223h1v1h-1zM330 223h1v1h-1zM332 223h1v1h-1zM336 223h1v1h-1zM294 224h1v1h-1zM308 224h1v1h-1zM316 224h1v1h-1zM319 224h1v1h-1zM324 224h1v1h-1zM344 224h1v1h-1zM299 225h1v1h-1zM302 225h1v1h-1zM305 225h1v1h-1zM309 225h1v1h-1zM322 225h3v1h-3zM326 225h1v1h-1zM330 225h1v1h-1zM305 226h1v1h-1zM310 226h1v1h-1zM318 226h1v1h-1zM325 226h1v1h-1zM329 226h2v1h-2zM339 226h1v1h-1zM330 227h1v1h-1zM332 227h1v1h-1zM297 228h1v1h-1zM300 228h1v1h-1zM306 228h1v1h-1zM313 228h1v1h-1zM315 228h2v1h-2zM320 228h1v1h-1zM326 228h1v1h-1zM328 228h2v1h-2zM331 228h1v1h-1zM307 229h1v1h-1zM310 229h1v1h-1zM323 229h1v1h-1zM330 229h1v1h-1zM332 229h1v1h-1zM298 230h1v1h-1zM310 230h1v1h-1zM312 230h2v1h-2zM316 230h1v1h-1zM323 230h1v1h-1zM329 230h1v1h-1zM332 230h1v1h-1zM296 231h1v1h-1zM299 231h3v1h-3zM305 231h2v1h-2zM316 231h1v1h-1zM319 231h2v1h-2zM328 231h1v1h-1zM334 231h1v1h-1zM294 232h1v1h-1zM297 232h2v1h-2zM300 232h1v1h-1zM302 232h1v1h-1zM318 232h1v1h-1zM327 232h1v1h-1zM337 232h1v1h-1zM295 233h2v1h-2zM299 233h1v1h-1zM303 233h1v1h-1zM305 233h1v1h-1zM309 233h1v1h-1zM312 233h1v1h-1zM316 233h2v1h-2zM319 233h1v1h-1zM327 233h1v1h-1zM330 233h1v1h-1zM333 233h1v1h-1zM343 233h1v1h-1zM304 234h1v1h-1zM308 234h2v1h-2zM311 234h1v1h-1zM317 234h1v1h-1zM320 234h1v1h-1zM324 234h1v1h-1zM329 234h1v1h-1zM295 235h1v1h-1zM298 235h1v1h-1zM301 235h1v1h-1zM317 235h1v1h-1zM319 235h1v1h-1zM328 235h1v1h-1zM301 236h1v1h-1zM303 236h1v1h-1zM308 236h1v1h-1zM310 236h2v1h-2zM316 236h1v1h-1zM318 236h1v1h-1zM334 236h1v1h-1zM315 237h2v1h-2zM334 237h1v1h-1zM294 238h1v1h-1zM300 238h1v1h-1zM308 238h2v1h-2zM320 238h1v1h-1zM325 238h1v1h-1zM329 238h1v1h-1zM296 239h2v1h-2zM302 239h1v1h-1zM307 239h2v1h-2zM310 239h1v1h-1zM313 239h3v1h-3zM319 239h1v1h-1zM328 239h1v1h-1zM330 239h1v1h-1zM334 239h2v1h-2zM294 240h1v1h-1zM298 240h1v1h-1zM304 240h1v1h-1zM308 240h1v1h-1zM310 240h1v1h-1zM313 240h2v1h-2zM318 240h1v1h-1zM329 240h1v1h-1zM340 240h1v1h-1zM307 241h1v1h-1zM309 241h1v1h-1zM312 241h3v1h-3zM317 241h1v1h-1zM320 241h1v1h-1zM326 241h2v1h-2zM303 242h1v1h-1zM305 242h2v1h-2zM309 242h2v1h-2zM312 242h2v1h-2zM317 242h1v1h-1zM333 242h1v1h-1zM337 242h1v1h-1zM296 243h2v1h-2zM302 243h1v1h-1zM305 243h1v1h-1zM308 243h3v1h-3zM312 243h1v1h-1zM315 243h1v1h-1zM317 243h1v1h-1zM296 244h2v1h-2zM301 244h1v1h-1zM305 244h1v1h-1zM312 244h1v1h-1zM324 244h1v1h-1zM333 244h1v1h-1zM296 245h4v1h-4zM304 245h2v1h-2zM308 245h2v1h-2zM315 245h1v1h-1zM317 245h1v1h-1zM326 245h1v1h-1zM295 246h1v1h-1zM297 246h2v1h-2zM302 246h1v1h-1zM307 246h1v1h-1zM310 246h1v1h-1zM314 246h1v1h-1zM332 246h1v1h-1zM294 247h1v1h-1zM297 247h3v1h-3zM306 247h1v1h-1zM310 247h1v1h-1zM312 247h1v1h-1zM328 247h1v1h-1zM297 248h3v1h-3zM303 248h3v1h-3zM311 248h1v1h-1zM313 248h1v1h-1zM315 248h2v1h-2zM319 248h1v1h-1zM324 248h1v1h-1zM326 248h1v1h-1zM294 249h3v1h-3zM304 249h1v1h-1zM308 249h3v1h-3zM314 249h1v1h-1zM316 249h2v1h-2zM325 249h1v1h-1zM337 249h1v1h-1zM294 250h4v1h-4zM301 250h2v1h-2zM306 250h1v1h-1zM308 250h1v1h-1zM312 250h3v1h-3zM318 250h1v1h-1zM324 250h1v1h-1zM294 251h1v1h-1zM296 251h2v1h-2zM301 251h2v1h-2zM304 251h2v1h-2zM308 251h1v1h-1zM311 251h1v1h-1zM314 251h2v1h-2zM324 251h1v1h-1zM295 252h1v1h-1zM297 252h2v1h-2zM300 252h1v1h-1zM302 252h6v1h-6zM309 252h1v1h-1zM311 252h1v1h-1zM313 252h1v1h-1zM319 252h1v1h-1zM323 252h1v1h-1zM295 253h1v1h-1zM298 253h2v1h-2zM302 253h1v1h-1zM305 253h2v1h-2zM308 253h3v1h-3zM313 253h3v1h-3zM319 253h1v1h-1zM349 253h1v1h-1zM297 254h14v1h-14zM313 254h3v1h-3zM319 254h1v1h-1zM324 254h1v1h-1zM294 255h1v1h-1zM296 255h1v1h-1zM299 255h1v1h-1zM302 255h1v1h-1zM304 255h3v1h-3zM308 255h1v1h-1zM311 255h7v1h-7zM319 255h1v1h-1zM295 256h1v1h-1zM297 256h6v1h-6zM304 256h5v1h-5zM314 256h1v1h-1zM316 256h1v1h-1zM318 256h1v1h-1zM294 257h7v1h-7zM302 257h1v1h-1zM304 257h6v1h-6zM311 257h7v1h-7zM319 257h1v1h-1zM324 257h1v1h-1zM294 258h2v1h-2zM298 258h10v1h-10zM310 258h1v1h-1zM313 258h2v1h-2zM317 258h2v1h-2zM328 258h1v1h-1zM294 259h4v1h-4zM299 259h1v1h-1zM302 259h6v1h-6zM309 259h3v1h-3zM314 259h1v1h-1zM317 259h2v1h-2zM320 259h1v1h-1zM325 259h1v1h-1zM295 260h1v1h-1zM297 260h5v1h-5zM303 260h1v1h-1zM305 260h3v1h-3zM309 260h8v1h-8zM318 260h1v1h-1zM320 260h1v1h-1zM294 261h1v1h-1zM296 261h13v1h-13zM310 261h3v1h-3zM314 261h2v1h-2zM294 262h9v1h-9zM304 262h5v1h-5zM310 262h8v1h-8zM319 262h2v1h-2zM322 262h1v1h-1zM294 263h1v1h-1zM296 263h2v1h-2zM299 263h5v1h-5zM305 263h1v1h-1zM307 263h5v1h-5zM313 263h1v1h-1zM315 263h2v1h-2zM318 263h1v1h-1zM320 263h1v1h-1zM297 264h4v1h-4zM303 264h9v1h-9zM313 264h3v1h-3zM318 264h1v1h-1zM294 265h3v1h-3zM298 265h4v1h-4zM304 265h1v1h-1zM306 265h4v1h-4zM311 265h6v1h-6zM320 265h1v1h-1zM294 266h1v1h-1zM296 266h11v1h-11zM309 266h5v1h-5zM315 266h1v1h-1zM317 266h1v1h-1zM319 266h1v1h-1zM296 267h2v1h-2zM299 267h3v1h-3zM303 267h2v1h-2zM306 267h2v1h-2zM309 267h2v1h-2zM313 267h1v1h-1zM319 267h1v1h-1zM295 268h1v1h-1zM301 268h8v1h-8zM310 268h3v1h-3zM315 268h1v1h-1zM317 268h1v1h-1zM319 268h1v1h-1zM294 269h1v1h-1zM296 269h5v1h-5zM302 269h1v1h-1zM304 269h1v1h-1zM306 269h3v1h-3zM311 269h1v1h-1zM313 269h1v1h-1zM315 269h1v1h-1zM317 269h1v1h-1zM319 269h1v1h-1zM294 270h1v1h-1zM296 270h2v1h-2zM301 270h1v1h-1zM305 270h9v1h-9zM315 270h1v1h-1zM319 270h1v1h-1zM294 271h1v1h-1zM297 271h1v1h-1zM300 271h2v1h-2zM303 271h3v1h-3zM312 271h1v1h-1zM314 271h4v1h-4zM320 271h1v1h-1z" fill="#262626"/>
<path d="M434 182h1v1h-1zM438 182h1v1h-1zM442 182h1v1h-1zM445 182h1v1h-1zM430 183h1v1h-1zM440 183h1v1h-1zM446 183h1v1h-1zM449 183h1v1h-1zM430 184h1v1h-1zM434 184h1v1h-1zM437 184h1v1h-1zM439 184h1v1h-1zM443 184h1v1h-1zM449 184h1v1h-1zM424 185h2v1h-2zM430 185h1v1h-1zM438 185h1v1h-1zM441 185h1v1h-1zM444 185h1v1h-1zM425 186h1v1h-1zM428 186h3v1h-3zM447 186h1v1h-1zM423 187h1v1h-1zM433 187h2v1h-2zM438 187h1v1h-1zM441 187h1v1h-1zM425 188h1v1h-1zM427 188h2v1h-2zM430 188h1v1h-1zM432 188h1v1h-1zM434 188h1v1h-1zM437 188h1v1h-1zM443 188h1v1h-1zM424 189h1v1h-1zM429 189h1v1h-1zM433 189h1v1h-1zM436 189h1v1h-1zM446 189h1v1h-1zM425 190h3v1h-3zM433 190h1v1h-1zM437 190h1v1h-1zM439 190h1v1h-1zM426 191h1v1h-1zM428 191h1v1h-1zM432 191h2v1h-2zM436 191h1v1h-1zM438 191h2v1h-2zM425 192h2v1h-2zM428 192h1v1h-1zM430 192h1v1h-1zM432 192h1v1h-1zM434 192h1v1h-1zM439 192h4v1h-4zM447 192h1v1h-1zM427 193h2v1h-2zM430 193h2v1h-2zM437 193h2v1h-2zM440 193h2v1h-2zM443 193h1v1h-1zM427 194h1v1h-1zM429 194h1v1h-1zM437 194h1v1h-1zM444 194h1v1h-1zM451 194h1v1h-1zM429 195h1v1h-1zM433 195h1v1h-1zM435 195h1v1h-1zM437 195h1v1h-1zM442 195h1v1h-1zM430 196h2v1h-2zM436 196h1v1h-1zM445 196h1v1h-1zM447 196h3v1h-3zM425 197h1v1h-1zM427 197h3v1h-3zM435 197h1v1h-1zM439 197h1v1h-1zM441 197h1v1h-1zM443 197h2v1h-2zM435 198h2v1h-2zM446 198h2v1h-2zM427 199h2v1h-2zM434 199h1v1h-1zM436 199h1v1h-1zM439 199h1v1h-1zM443 199h2v1h-2zM446 199h1v1h-1zM451 199h1v1h-1zM437 200h1v1h-1zM446 200h1v1h-1zM425 201h2v1h-2zM428 201h1v1h-1zM437 201h1v1h-1zM444 201h2v1h-2zM447 201h1v1h-1zM452 201h1v1h-1zM428 202h1v1h-1zM431 202h1v1h-1zM441 202h1v1h-1zM446 202h1v1h-1zM448 202h1v1h-1zM443 203h1v1h-1zM447 203h1v1h-1zM425 204h1v1h-1zM424 205h2v1h-2zM428 205h1v1h-1zM434 205h1v1h-1zM437 205h1v1h-1zM441 205h1v1h-1zM444 205h1v1h-1zM446 205h1v1h-1zM428 206h1v1h-1zM439 206h1v1h-1zM443 206h1v1h-1zM445 206h1v1h-1zM426 207h1v1h-1zM436 207h1v1h-1zM446 207h1v1h-1zM423 208h2v1h-2zM431 208h1v1h-1zM437 208h1v1h-1zM439 208h1v1h-1zM445 208h2v1h-2zM461 208h1v1h-1zM428 209h1v1h-1zM443 209h3v1h-3zM447 209h1v1h-1zM424 210h1v1h-1zM432 210h1v1h-1zM446 210h1v1h-1zM426 211h2v1h-2zM455 211h1v1h-1zM424 212h1v1h-1zM443 212h1v1h-1zM448 212h1v1h-1zM450 212h1v1h-1zM426 213h1v1h-1zM444 213h1v1h-1zM425 214h1v1h-1zM431 214h2v1h-2zM440 214h1v1h-1zM426 215h1v1h-1zM436 215h1v1h-1zM438 215h1v1h-1zM442 215h2v1h-2zM464 215h1v1h-1zM432 216h1v1h-1zM435 216h1v1h-1zM442 216h1v1h-1zM426 217h1v1h-1zM439 217h1v1h-1zM443 217h1v1h-1zM424 218h1v1h-1zM433 218h1v1h-1zM439 218h1v1h-1zM430 219h1v1h-1zM437 219h1v1h-1zM440 219h1v1h-1zM443 219h1v1h-1zM449 219h1v1h-1zM455 219h1v1h-1zM428 220h1v1h-1zM433 220h1v1h-1zM439 220h1v1h-1zM444 220h1v1h-1zM446 220h1v1h-1zM423 221h1v1h-1zM426 221h1v1h-1zM436 222h2v1h-2zM467 222h1v1h-1zM424 224h1v1h-1zM426 224h1v1h-1zM434 224h2v1h-2zM439 224h1v1h-1zM444 224h1v1h-1zM446 224h1v1h-1zM432 225h2v1h-2zM438 225h1v1h-1zM447 225h1v1h-1zM457 225h2v1h-2zM441 226h1v1h-1zM446 226h1v1h-1zM448 226h1v1h-1zM452 226h1v1h-1zM427 227h1v1h-1zM430 227h1v1h-1zM443 227h2v1h-2zM425 228h1v1h-1zM427 228h2v1h-2zM430 228h1v1h-1zM435 228h2v1h-2zM447 228h1v1h-1zM461 228h1v1h-1zM437 229h1v1h-1zM446 229h1v1h-1zM425 230h1v1h-1zM428 230h1v1h-1zM443 230h1v1h-1zM448 230h1v1h-1zM424 231h1v1h-1zM429 231h2v1h-2zM435 231h1v1h-1zM424 232h1v1h-1zM428 232h1v1h-1zM431 232h1v1h-1zM437 232h1v1h-1zM424 233h1v1h-1zM426 233h1v1h-1zM432 233h1v1h-1zM434 233h2v1h-2zM441 233h2v1h-2zM445 233h1v1h-1zM447 233h1v1h-1zM424 234h2v1h-2zM431 234h1v1h-1zM438 234h1v1h-1zM442 234h1v1h-1zM445 234h1v1h-1zM423 235h1v1h-1zM428 235h1v1h-1zM430 235h4v1h-4zM440 235h1v1h-1zM445 235h2v1h-2zM430 236h1v1h-1zM434 236h1v1h-1zM436 236h1v1h-1zM440 236h1v1h-1zM442 236h2v1h-2zM445 236h1v1h-1zM427 237h1v1h-1zM431 237h1v1h-1zM434 237h3v1h-3zM441 237h3v1h-3zM449 237h1v1h-1zM424 238h2v1h-2zM429 238h2v1h-2zM432 238h1v1h-1zM435 238h1v1h-1zM438 238h1v1h-1zM442 238h1v1h-1zM445 238h1v1h-1zM425 239h1v1h-1zM431 239h2v1h-2zM434 239h1v1h-1zM446 239h1v1h-1zM448 239h2v1h-2zM475 239h1v1h-1zM424 240h1v1h-1zM429 240h1v1h-1zM431 240h1v1h-1zM436 240h2v1h-2zM442 240h1v1h-1zM448 240h1v1h-1zM427 241h3v1h-3zM434 241h1v1h-1zM436 241h2v1h-2zM443 241h2v1h-2zM446 241h1v1h-1zM448 241h1v1h-1zM423 242h2v1h-2zM427 242h1v1h-1zM431 242h3v1h-3zM437 242h3v1h-3zM445 242h1v1h-1zM424 243h1v1h-1zM430 243h2v1h-2zM438 243h1v1h-1zM440 243h1v1h-1zM446 243h1v1h-1zM428 244h2v1h-2zM432 244h1v1h-1zM437 244h2v1h-2zM446 244h1v1h-1zM424 245h6v1h-6zM431 245h1v1h-1zM433 245h1v1h-1zM438 245h2v1h-2zM441 245h1v1h-1zM449 245h1v1h-1zM423 246h3v1h-3zM427 246h6v1h-6zM434 246h2v1h-2zM440 246h1v1h-1zM443 246h2v1h-2zM448 246h2v1h-2zM423 247h1v1h-1zM425 247h2v1h-2zM429 247h4v1h-4zM434 247h1v1h-1zM436 247h4v1h-4zM442 247h1v1h-1zM445 247h1v1h-1zM423 248h3v1h-3zM429 248h1v1h-1zM431 248h3v1h-3zM438 248h3v1h-3zM446 248h2v1h-2zM423 249h5v1h-5zM430 249h1v1h-1zM432 249h6v1h-6zM439 249h1v1h-1zM441 249h3v1h-3zM446 249h1v1h-1zM453 249h1v1h-1zM423 250h10v1h-10zM434 250h1v1h-1zM437 250h2v1h-2zM441 250h4v1h-4zM447 250h1v1h-1zM449 250h1v1h-1zM423 251h2v1h-2zM428 251h1v1h-1zM431 251h1v1h-1zM433 251h5v1h-5zM439 251h4v1h-4zM446 251h3v1h-3zM424 252h17v1h-17zM443 252h1v1h-1zM445 252h1v1h-1zM449 252h1v1h-1zM423 253h1v1h-1zM425 253h3v1h-3zM429 253h2v1h-2zM432 253h7v1h-7zM441 253h3v1h-3zM445 253h2v1h-2zM448 253h1v1h-1zM425 254h16v1h-16zM442 254h3v1h-3zM424 255h1v1h-1zM426 255h13v1h-13zM441 255h3v1h-3zM447 255h2v1h-2zM423 256h1v1h-1zM425 256h15v1h-15zM442 256h2v1h-2zM447 256h1v1h-1zM423 257h11v1h-11zM435 257h1v1h-1zM437 257h12v1h-12zM423 258h21v1h-21zM445 258h1v1h-1zM449 258h1v1h-1zM424 259h19v1h-19zM444 259h2v1h-2zM447 259h1v1h-1zM423 260h19v1h-19zM443 260h3v1h-3zM447 260h1v1h-1zM449 260h1v1h-1zM423 261h7v1h-7zM431 261h14v1h-14zM449 261h1v1h-1zM423 262h20v1h-20zM446 262h3v1h-3zM424 263h23v1h-23zM423 264h23v1h-23zM448 264h2v1h-2zM423 265h22v1h-22zM447 265h2v1h-2zM423 266h15v1h-15zM439 266h4v1h-4zM444 266h1v1h-1zM446 266h1v1h-1zM448 266h1v1h-1zM424 267h1v1h-1zM426 267h4v1h-4zM432 267h12v1h-12zM445 267h1v1h-1zM447 267h1v1h-1zM424 268h1v1h-1zM426 268h1v1h-1zM428 268h11v1h-11zM440 268h1v1h-1zM444 268h3v1h-3zM448 268h1v1h-1zM424 269h3v1h-3zM428 269h1v1h-1zM430 269h2v1h-2zM433 269h10v1h-10zM444 269h1v1h-1zM446 269h2v1h-2zM449 269h1v1h-1zM423 270h1v1h-1zM425 270h6v1h-6zM432 270h1v1h-1zM434 270h2v1h-2zM437 270h4v1h-4zM442 270h2v1h-2zM445 270h1v1h-1zM447 270h2v1h-2zM423 271h7v1h-7zM431 271h9v1h-9zM441 271h6v1h-6zM448 271h1v1h-1z" fill="#262626"/>
<rect x="85.9" y="182.6" width="34.89999999999999" height="36.19999999999999" fill="#fff"/>
<rect x="89.9" y="183.9" width="29.099999999999994" height="28.899999999999977" fill="none" stroke="#333" stroke-width="0.9"/>
<line x1="98.80000000000001" y1="183.9" x2="98.80000000000001" y2="212.79999999999998" stroke="#3a3a3a" stroke-width="0.9"/>
<line x1="89.9" y1="204.1" x2="119.0" y2="204.1" stroke="#3a3a3a" stroke-width="0.9"/>
<path d="M95.7 211.4h0.8v0.8h-0.8zM93.3 210.2h0.8v0.8h-0.8zM95.0 207.5h0.8v0.8h-0.8zM91.8 211.1h0.8v0.8h-0.8zM97.6 205.9h0.8v0.8h-0.8zM94.6 207.8h0.8v0.8h-0.8zM90.8 211.9h0.8v0.8h-0.8zM91.9 205.0h0.8v0.8h-0.8zM94.3 208.4h0.8v0.8h-0.8zM96.7 212.2h0.8v0.8h-0.8zM94.2 208.2h0.8v0.8h-0.8zM92.3 205.1h0.8v0.8h-0.8zM94.6 209.3h0.8v0.8h-0.8zM93.9 207.7h0.8v0.8h-0.8zM91.7 207.8h0.8v0.8h-0.8zM96.6 211.0h0.8v0.8h-0.8zM92.6 206.5h0.8v0.8h-0.8zM93.7 211.4h0.8v0.8h-0.8zM92.0 208.6h0.8v0.8h-0.8zM92.5 209.9h0.8v0.8h-0.8zM95.0 211.5h0.8v0.8h-0.8zM96.4 210.2h0.8v0.8h-0.8zM95.8 208.8h0.8v0.8h-0.8zM92.0 207.6h0.8v0.8h-0.8zM92.8 206.2h0.8v0.8h-0.8zM94.9 208.1h0.8v0.8h-0.8zM91.5 209.0h0.8v0.8h-0.8zM94.4 212.0h0.8v0.8h-0.8zM94.5 211.4h0.8v0.8h-0.8zM90.8 211.2h0.8v0.8h-0.8zM95.8 211.1h0.8v0.8h-0.8zM91.4 208.5h0.8v0.8h-0.8zM92.5 208.2h0.8v0.8h-0.8zM98.3 206.7h0.8v0.8h-0.8zM93.6 209.0h0.8v0.8h-0.8zM92.5 210.6h0.8v0.8h-0.8zM91.4 209.4h0.8v0.8h-0.8zM96.7 210.2h0.8v0.8h-0.8zM91.7 210.8h0.8v0.8h-0.8zM93.1 209.8h0.8v0.8h-0.8zM96.8 211.1h0.8v0.8h-0.8zM94.5 207.1h0.8v0.8h-0.8zM94.2 211.4h0.8v0.8h-0.8zM95.3 211.9h0.8v0.8h-0.8zM93.3 205.9h0.8v0.8h-0.8zM93.8 209.0h0.8v0.8h-0.8zM92.1 211.4h0.8v0.8h-0.8zM91.7 206.0h0.8v0.8h-0.8zM90.4 206.6h0.8v0.8h-0.8zM94.5 211.6h0.8v0.8h-0.8zM94.6 208.7h0.8v0.8h-0.8zM93.5 205.2h0.8v0.8h-0.8zM94.5 209.7h0.8v0.8h-0.8zM93.5 204.3h0.8v0.8h-0.8zM91.5 211.7h0.8v0.8h-0.8zM93.8 206.9h0.8v0.8h-0.8zM92.5 206.7h0.8v0.8h-0.8zM92.8 206.4h0.8v0.8h-0.8zM92.0 209.3h0.8v0.8h-0.8zM94.4 210.2h0.8v0.8h-0.8zM92.4 208.8h0.8v0.8h-0.8zM91.2 208.9h0.8v0.8h-0.8zM96.8 209.9h0.8v0.8h-0.8zM91.7 210.7h0.8v0.8h-0.8zM95.9 211.3h0.8v0.8h-0.8zM92.1 208.8h0.8v0.8h-0.8zM95.9 207.9h0.8v0.8h-0.8zM92.0 206.0h0.8v0.8h-0.8zM94.3 208.2h0.8v0.8h-0.8zM94.9 207.7h0.8v0.8h-0.8zM91.0 206.3h0.8v0.8h-0.8zM92.5 208.9h0.8v0.8h-0.8zM91.2 210.0h0.8v0.8h-0.8zM93.0 210.4h0.8v0.8h-0.8zM92.5 207.2h0.8v0.8h-0.8zM92.7 210.5h0.8v0.8h-0.8zM94.9 208.2h0.8v0.8h-0.8zM90.8 208.4h0.8v0.8h-0.8zM91.4 208.9h0.8v0.8h-0.8zM91.9 207.2h0.8v0.8h-0.8zM92.8 208.0h0.8v0.8h-0.8zM91.4 211.1h0.8v0.8h-0.8zM94.7 206.8h0.8v0.8h-0.8zM90.7 208.5h0.8v0.8h-0.8zM97.8 210.6h0.8v0.8h-0.8zM93.5 210.0h0.8v0.8h-0.8zM96.3 210.0h0.8v0.8h-0.8zM90.7 206.5h0.8v0.8h-0.8zM92.6 206.2h0.8v0.8h-0.8zM93.7 208.8h0.8v0.8h-0.8zM97.9 207.9h0.8v0.8h-0.8zM93.7 205.0h0.8v0.8h-0.8zM97.2 209.2h0.8v0.8h-0.8zM91.7 210.3h0.8v0.8h-0.8zM91.8 209.1h0.8v0.8h-0.8zM94.0 209.9h0.8v0.8h-0.8zM92.9 208.6h0.8v0.8h-0.8zM93.3 207.6h0.8v0.8h-0.8zM97.5 208.9h0.8v0.8h-0.8zM93.0 206.6h0.8v0.8h-0.8zM94.2 210.4h0.8v0.8h-0.8zM92.5 210.2h0.8v0.8h-0.8zM92.8 211.3h0.8v0.8h-0.8zM97.2 209.6h0.8v0.8h-0.8zM91.5 208.5h0.8v0.8h-0.8zM99.3 207.8h0.8v0.8h-0.8zM94.9 209.3h0.8v0.8h-0.8zM94.7 210.1h0.8v0.8h-0.8zM95.9 207.5h0.8v0.8h-0.8zM93.6 207.6h0.8v0.8h-0.8zM93.7 210.3h0.8v0.8h-0.8zM96.9 207.3h0.8v0.8h-0.8zM91.8 209.2h0.8v0.8h-0.8zM93.2 208.8h0.8v0.8h-0.8zM90.6 207.7h0.8v0.8h-0.8zM96.6 209.5h0.8v0.8h-0.8zM91.2 206.4h0.8v0.8h-0.8zM95.0 209.1h0.8v0.8h-0.8zM95.3 209.3h0.8v0.8h-0.8zM92.1 209.5h0.8v0.8h-0.8zM96.9 208.2h0.8v0.8h-0.8zM95.4 211.0h0.8v0.8h-0.8zM95.5 209.1h0.8v0.8h-0.8zM96.4 210.3h0.8v0.8h-0.8zM92.5 208.5h0.8v0.8h-0.8zM91.9 207.6h0.8v0.8h-0.8zM97.0 207.4h0.8v0.8h-0.8zM93.3 210.5h0.8v0.8h-0.8zM92.5 210.3h0.8v0.8h-0.8zM94.5 210.4h0.8v0.8h-0.8zM98.1 204.9h0.8v0.8h-0.8zM92.6 208.6h0.8v0.8h-0.8zM90.6 211.7h0.8v0.8h-0.8zM91.3 209.0h0.8v0.8h-0.8zM94.3 206.5h0.8v0.8h-0.8zM94.4 208.8h0.8v0.8h-0.8zM95.3 209.3h0.8v0.8h-0.8zM93.7 207.1h0.8v0.8h-0.8zM93.3 211.6h0.8v0.8h-0.8zM93.8 208.0h0.8v0.8h-0.8zM94.2 209.2h0.8v0.8h-0.8zM91.1 210.6h0.8v0.8h-0.8zM93.3 210.6h0.8v0.8h-0.8zM92.2 208.2h0.8v0.8h-0.8zM91.6 211.5h0.8v0.8h-0.8zM95.2 205.7h0.8v0.8h-0.8zM98.5 209.4h0.8v0.8h-0.8zM97.4 207.7h0.8v0.8h-0.8zM93.0 208.9h0.8v0.8h-0.8zM90.5 203.6h0.8v0.8h-0.8zM94.0 208.3h0.8v0.8h-0.8zM93.9 209.0h0.8v0.8h-0.8zM96.0 205.6h0.8v0.8h-0.8zM96.7 209.6h0.8v0.8h-0.8zM91.7 211.5h0.8v0.8h-0.8zM93.6 205.0h0.8v0.8h-0.8zM94.4 206.9h0.8v0.8h-0.8zM94.1 210.2h0.8v0.8h-0.8zM97.0 207.8h0.8v0.8h-0.8zM94.3 209.5h0.8v0.8h-0.8zM94.3 209.4h0.8v0.8h-0.8zM92.9 210.5h0.8v0.8h-0.8zM92.8 207.8h0.8v0.8h-0.8zM95.6 210.9h0.8v0.8h-0.8zM94.6 209.2h0.8v0.8h-0.8zM95.7 209.8h0.8v0.8h-0.8zM92.0 205.8h0.8v0.8h-0.8zM93.8 208.6h0.8v0.8h-0.8zM96.7 207.9h0.8v0.8h-0.8zM92.0 206.8h0.8v0.8h-0.8zM92.4 204.1h0.8v0.8h-0.8zM96.1 210.1h0.8v0.8h-0.8zM92.3 206.0h0.8v0.8h-0.8zM96.2 210.8h0.8v0.8h-0.8zM92.5 210.8h0.8v0.8h-0.8zM94.0 205.8h0.8v0.8h-0.8zM94.3 212.1h0.8v0.8h-0.8zM92.2 203.3h0.8v0.8h-0.8zM91.0 211.0h0.8v0.8h-0.8zM95.9 206.4h0.8v0.8h-0.8zM92.5 209.9h0.8v0.8h-0.8zM94.7 204.3h0.8v0.8h-0.8zM95.1 209.3h0.8v0.8h-0.8zM96.5 212.0h0.8v0.8h-0.8zM93.8 209.2h0.8v0.8h-0.8zM92.7 209.4h0.8v0.8h-0.8zM92.5 207.0h0.8v0.8h-0.8zM92.2 207.8h0.8v0.8h-0.8zM94.1 208.9h0.8v0.8h-0.8zM98.7 205.7h0.8v0.8h-0.8zM93.2 209.7h0.8v0.8h-0.8zM90.7 208.1h0.8v0.8h-0.8zM92.8 209.9h0.8v0.8h-0.8zM98.7 210.9h0.8v0.8h-0.8zM93.7 208.4h0.8v0.8h-0.8zM98.4 206.4h0.8v0.8h-0.8zM91.6 210.0h0.8v0.8h-0.8zM91.5 207.4h0.8v0.8h-0.8zM90.6 208.9h0.8v0.8h-0.8zM91.1 209.2h0.8v0.8h-0.8zM93.3 206.2h0.8v0.8h-0.8zM93.8 210.7h0.8v0.8h-0.8zM90.8 208.9h0.8v0.8h-0.8zM91.4 211.2h0.8v0.8h-0.8zM92.4 210.6h0.8v0.8h-0.8zM96.8 210.1h0.8v0.8h-0.8zM94.4 209.4h0.8v0.8h-0.8zM95.2 210.2h0.8v0.8h-0.8zM91.2 212.2h0.8v0.8h-0.8zM94.1 205.6h0.8v0.8h-0.8zM93.0 211.8h0.8v0.8h-0.8zM93.9 210.9h0.8v0.8h-0.8zM95.3 208.2h0.8v0.8h-0.8zM92.8 210.9h0.8v0.8h-0.8zM92.8 211.1h0.8v0.8h-0.8zM90.6 209.8h0.8v0.8h-0.8zM91.4 206.7h0.8v0.8h-0.8zM92.0 209.2h0.8v0.8h-0.8zM92.2 209.0h0.8v0.8h-0.8zM92.5 203.1h0.8v0.8h-0.8zM91.5 209.6h0.8v0.8h-0.8zM94.1 208.8h0.8v0.8h-0.8zM97.0 207.9h0.8v0.8h-0.8zM95.4 208.8h0.8v0.8h-0.8zM90.7 209.8h0.8v0.8h-0.8zM92.8 211.1h0.8v0.8h-0.8zM98.3 212.1h0.8v0.8h-0.8zM90.9 210.9h0.8v0.8h-0.8zM92.1 204.0h0.8v0.8h-0.8zM96.4 207.8h0.8v0.8h-0.8zM94.6 211.1h0.8v0.8h-0.8zM91.5 211.0h0.8v0.8h-0.8zM93.9 212.1h0.8v0.8h-0.8zM91.6 207.9h0.8v0.8h-0.8zM95.3 209.0h0.8v0.8h-0.8zM92.8 209.8h0.8v0.8h-0.8zM93.2 211.7h0.8v0.8h-0.8zM94.2 210.0h0.8v0.8h-0.8zM93.3 211.1h0.8v0.8h-0.8zM91.8 206.1h0.8v0.8h-0.8zM93.0 206.9h0.8v0.8h-0.8zM94.9 208.3h0.8v0.8h-0.8zM94.0 206.2h0.8v0.8h-0.8zM92.0 209.0h0.8v0.8h-0.8zM94.7 208.4h0.8v0.8h-0.8zM90.4 203.9h0.8v0.8h-0.8zM94.1 209.9h0.8v0.8h-0.8zM96.0 208.8h0.8v0.8h-0.8zM95.0 205.6h0.8v0.8h-0.8zM91.0 207.9h0.8v0.8h-0.8zM96.0 210.1h0.8v0.8h-0.8zM93.3 206.9h0.8v0.8h-0.8zM92.9 208.8h0.8v0.8h-0.8zM97.9 204.4h0.8v0.8h-0.8zM97.5 210.7h0.8v0.8h-0.8zM94.0 208.9h0.8v0.8h-0.8zM92.5 212.2h0.8v0.8h-0.8zM95.0 209.1h0.8v0.8h-0.8zM94.0 206.4h0.8v0.8h-0.8zM96.5 208.5h0.8v0.8h-0.8zM94.8 209.6h0.8v0.8h-0.8zM98.1 207.2h0.8v0.8h-0.8zM94.9 208.9h0.8v0.8h-0.8zM95.2 208.8h0.8v0.8h-0.8zM90.8 210.8h0.8v0.8h-0.8zM97.4 206.7h0.8v0.8h-0.8zM97.8 209.7h0.8v0.8h-0.8zM92.7 206.9h0.8v0.8h-0.8zM97.5 210.7h0.8v0.8h-0.8zM94.4 208.4h0.8v0.8h-0.8zM94.8 205.1h0.8v0.8h-0.8zM93.0 210.9h0.8v0.8h-0.8zM95.2 207.0h0.8v0.8h-0.8zM97.3 210.5h0.8v0.8h-0.8zM97.3 209.6h0.8v0.8h-0.8zM98.9 210.2h0.8v0.8h-0.8zM98.3 204.6h0.8v0.8h-0.8zM95.4 207.7h0.8v0.8h-0.8zM92.5 208.7h0.8v0.8h-0.8zM95.5 211.5h0.8v0.8h-0.8zM92.8 210.4h0.8v0.8h-0.8zM91.8 209.3h0.8v0.8h-0.8zM91.6 207.6h0.8v0.8h-0.8zM94.3 210.1h0.8v0.8h-0.8zM97.0 203.7h0.8v0.8h-0.8zM94.2 204.9h0.8v0.8h-0.8zM92.5 211.9h0.8v0.8h-0.8zM92.7 211.8h0.8v0.8h-0.8zM93.4 209.9h0.8v0.8h-0.8zM97.0 208.4h0.8v0.8h-0.8zM93.8 206.6h0.8v0.8h-0.8zM92.0 211.4h0.8v0.8h-0.8zM94.0 208.4h0.8v0.8h-0.8zM91.5 204.7h0.8v0.8h-0.8zM93.4 208.6h0.8v0.8h-0.8zM96.7 210.5h0.8v0.8h-0.8zM91.6 211.0h0.8v0.8h-0.8zM96.3 207.9h0.8v0.8h-0.8zM95.9 210.2h0.8v0.8h-0.8zM95.4 209.3h0.8v0.8h-0.8zM91.5 210.8h0.8v0.8h-0.8zM96.4 206.4h0.8v0.8h-0.8zM94.6 207.5h0.8v0.8h-0.8zM95.5 210.8h0.8v0.8h-0.8zM93.8 211.9h0.8v0.8h-0.8zM96.9 209.6h0.8v0.8h-0.8zM94.7 210.2h0.8v0.8h-0.8zM95.7 207.6h0.8v0.8h-0.8zM90.7 206.9h0.8v0.8h-0.8zM93.1 209.7h0.8v0.8h-0.8zM94.3 211.4h0.8v0.8h-0.8zM91.6 210.2h0.8v0.8h-0.8zM95.4 207.4h0.8v0.8h-0.8zM93.0 206.0h0.8v0.8h-0.8zM93.8 210.5h0.8v0.8h-0.8zM94.6 207.0h0.8v0.8h-0.8zM93.8 207.9h0.8v0.8h-0.8z" fill="#111"/>
<text x="105.45" y="217.6" font-size="3.6" text-anchor="middle" font-weight="bold" fill="#333">Mouse IgG</text>
<text transform="translate(88.30000000000001,204.9) rotate(-90)" font-size="3.6" font-weight="bold" fill="#333">Mouse IgG</text>
<rect x="32.6" y="181.6" width="89.19999999999999" height="90.6" fill="none" stroke="#000" stroke-width="1.8"/>
<line x1="61.0" y1="181.6" x2="61.0" y2="272.2" stroke="#000" stroke-width="1.6"/>
<line x1="32.6" y1="243.9" x2="121.8" y2="243.9" stroke="#000" stroke-width="1.6"/>
<text x="118.39999999999999" y="257.1" font-size="10.5" text-anchor="end" font-weight="bold">0.2</text>
<text x="118.39999999999999" y="267.2" font-size="10.5" text-anchor="end" font-weight="bold">&#177; 0.2</text>
<rect x="217.1" y="181.8" width="34.900000000000006" height="36.19999999999999" fill="#fff"/>
<rect x="221.1" y="183.10000000000002" width="29.099999999999994" height="28.899999999999977" fill="none" stroke="#333" stroke-width="0.9"/>
<line x1="230.0" y1="183.10000000000002" x2="230.0" y2="212.0" stroke="#3a3a3a" stroke-width="0.9"/>
<line x1="221.1" y1="203.3" x2="250.2" y2="203.3" stroke="#3a3a3a" stroke-width="0.9"/>
<path d="M224.8 207.4h0.8v0.8h-0.8zM226.9 207.7h0.8v0.8h-0.8zM225.5 204.8h0.8v0.8h-0.8zM230.6 207.5h0.8v0.8h-0.8zM224.4 204.9h0.8v0.8h-0.8zM229.9 210.4h0.8v0.8h-0.8zM226.8 206.8h0.8v0.8h-0.8zM224.9 207.8h0.8v0.8h-0.8zM226.9 206.9h0.8v0.8h-0.8zM224.4 207.0h0.8v0.8h-0.8zM223.0 210.1h0.8v0.8h-0.8zM223.5 208.0h0.8v0.8h-0.8zM225.4 211.3h0.8v0.8h-0.8zM222.3 210.6h0.8v0.8h-0.8zM222.5 208.8h0.8v0.8h-0.8zM225.0 211.3h0.8v0.8h-0.8zM228.5 206.2h0.8v0.8h-0.8zM223.3 207.3h0.8v0.8h-0.8zM228.2 206.5h0.8v0.8h-0.8zM227.8 206.1h0.8v0.8h-0.8zM227.2 210.5h0.8v0.8h-0.8zM227.8 209.4h0.8v0.8h-0.8zM225.2 209.0h0.8v0.8h-0.8zM224.1 210.8h0.8v0.8h-0.8zM226.0 209.3h0.8v0.8h-0.8zM223.2 208.5h0.8v0.8h-0.8zM226.6 207.3h0.8v0.8h-0.8zM225.1 210.0h0.8v0.8h-0.8zM223.7 210.7h0.8v0.8h-0.8zM228.0 210.0h0.8v0.8h-0.8zM223.5 207.1h0.8v0.8h-0.8zM225.3 207.3h0.8v0.8h-0.8zM226.0 204.7h0.8v0.8h-0.8zM225.0 206.9h0.8v0.8h-0.8zM227.2 203.3h0.8v0.8h-0.8zM223.4 203.5h0.8v0.8h-0.8zM226.0 205.8h0.8v0.8h-0.8zM223.6 207.0h0.8v0.8h-0.8zM228.4 205.7h0.8v0.8h-0.8zM225.9 210.7h0.8v0.8h-0.8zM224.6 206.7h0.8v0.8h-0.8zM225.2 206.5h0.8v0.8h-0.8zM224.5 204.1h0.8v0.8h-0.8zM229.6 206.6h0.8v0.8h-0.8zM226.0 209.7h0.8v0.8h-0.8zM225.9 209.1h0.8v0.8h-0.8zM222.1 208.0h0.8v0.8h-0.8zM226.8 208.4h0.8v0.8h-0.8zM225.0 210.0h0.8v0.8h-0.8zM224.2 206.7h0.8v0.8h-0.8zM224.1 207.6h0.8v0.8h-0.8zM224.9 209.7h0.8v0.8h-0.8zM225.9 204.2h0.8v0.8h-0.8zM227.8 204.3h0.8v0.8h-0.8zM223.7 208.3h0.8v0.8h-0.8zM225.1 211.2h0.8v0.8h-0.8zM223.6 204.4h0.8v0.8h-0.8zM223.3 207.7h0.8v0.8h-0.8zM225.5 210.8h0.8v0.8h-0.8zM222.0 206.1h0.8v0.8h-0.8zM227.8 206.9h0.8v0.8h-0.8zM223.7 210.6h0.8v0.8h-0.8zM225.1 208.7h0.8v0.8h-0.8zM228.7 211.1h0.8v0.8h-0.8zM226.4 206.1h0.8v0.8h-0.8zM222.2 209.7h0.8v0.8h-0.8zM226.2 208.7h0.8v0.8h-0.8zM223.9 207.7h0.8v0.8h-0.8zM223.2 206.8h0.8v0.8h-0.8zM227.7 206.9h0.8v0.8h-0.8zM223.9 208.2h0.8v0.8h-0.8zM225.4 205.5h0.8v0.8h-0.8zM222.5 208.0h0.8v0.8h-0.8zM225.7 209.9h0.8v0.8h-0.8zM222.8 210.0h0.8v0.8h-0.8zM223.9 207.5h0.8v0.8h-0.8zM226.8 208.7h0.8v0.8h-0.8zM224.5 208.2h0.8v0.8h-0.8zM225.2 207.0h0.8v0.8h-0.8zM225.6 209.4h0.8v0.8h-0.8zM224.6 208.9h0.8v0.8h-0.8zM224.3 206.7h0.8v0.8h-0.8zM223.7 208.6h0.8v0.8h-0.8zM227.8 207.3h0.8v0.8h-0.8zM227.9 207.9h0.8v0.8h-0.8zM228.6 208.4h0.8v0.8h-0.8zM222.2 206.7h0.8v0.8h-0.8zM223.1 206.3h0.8v0.8h-0.8zM223.2 208.9h0.8v0.8h-0.8zM225.9 209.8h0.8v0.8h-0.8zM228.0 206.1h0.8v0.8h-0.8zM224.0 208.0h0.8v0.8h-0.8zM224.2 207.7h0.8v0.8h-0.8zM226.2 206.7h0.8v0.8h-0.8zM228.5 208.5h0.8v0.8h-0.8zM224.5 207.7h0.8v0.8h-0.8zM227.3 208.9h0.8v0.8h-0.8zM223.1 206.0h0.8v0.8h-0.8zM222.3 210.1h0.8v0.8h-0.8zM224.2 209.6h0.8v0.8h-0.8zM223.8 209.1h0.8v0.8h-0.8zM224.2 209.4h0.8v0.8h-0.8zM228.1 204.9h0.8v0.8h-0.8zM224.5 207.7h0.8v0.8h-0.8zM226.2 207.5h0.8v0.8h-0.8zM222.3 211.0h0.8v0.8h-0.8zM225.0 209.0h0.8v0.8h-0.8zM225.7 208.1h0.8v0.8h-0.8zM224.8 209.1h0.8v0.8h-0.8zM224.5 208.0h0.8v0.8h-0.8zM224.7 208.2h0.8v0.8h-0.8zM224.2 210.6h0.8v0.8h-0.8zM222.0 206.8h0.8v0.8h-0.8zM223.6 207.2h0.8v0.8h-0.8zM226.7 207.9h0.8v0.8h-0.8zM222.1 208.6h0.8v0.8h-0.8zM225.7 209.7h0.8v0.8h-0.8zM223.0 205.5h0.8v0.8h-0.8zM223.3 211.4h0.8v0.8h-0.8zM225.5 211.0h0.8v0.8h-0.8zM224.7 209.0h0.8v0.8h-0.8zM226.5 209.0h0.8v0.8h-0.8zM222.4 209.7h0.8v0.8h-0.8zM225.9 205.6h0.8v0.8h-0.8zM222.6 209.2h0.8v0.8h-0.8zM226.4 209.8h0.8v0.8h-0.8zM227.4 203.4h0.8v0.8h-0.8zM224.0 205.6h0.8v0.8h-0.8zM224.9 210.1h0.8v0.8h-0.8zM225.3 207.0h0.8v0.8h-0.8zM224.6 208.4h0.8v0.8h-0.8zM225.9 209.7h0.8v0.8h-0.8zM228.3 208.0h0.8v0.8h-0.8zM225.5 208.2h0.8v0.8h-0.8zM225.9 208.9h0.8v0.8h-0.8zM223.4 209.8h0.8v0.8h-0.8zM224.4 203.7h0.8v0.8h-0.8zM223.6 209.4h0.8v0.8h-0.8zM229.3 205.5h0.8v0.8h-0.8zM229.6 211.5h0.8v0.8h-0.8zM226.2 205.0h0.8v0.8h-0.8zM224.9 207.0h0.8v0.8h-0.8zM223.2 209.1h0.8v0.8h-0.8zM224.8 210.6h0.8v0.8h-0.8zM225.2 207.9h0.8v0.8h-0.8zM223.5 203.5h0.8v0.8h-0.8zM224.5 208.1h0.8v0.8h-0.8zM224.8 208.4h0.8v0.8h-0.8zM222.1 206.3h0.8v0.8h-0.8zM224.9 210.9h0.8v0.8h-0.8zM230.1 209.7h0.8v0.8h-0.8zM223.0 207.3h0.8v0.8h-0.8zM228.0 209.5h0.8v0.8h-0.8zM224.1 206.3h0.8v0.8h-0.8zM226.1 207.3h0.8v0.8h-0.8zM224.9 208.9h0.8v0.8h-0.8zM224.3 205.4h0.8v0.8h-0.8zM223.0 208.6h0.8v0.8h-0.8zM222.5 204.8h0.8v0.8h-0.8zM225.2 210.7h0.8v0.8h-0.8zM225.0 208.3h0.8v0.8h-0.8zM227.7 207.0h0.8v0.8h-0.8zM221.8 209.2h0.8v0.8h-0.8zM224.2 207.5h0.8v0.8h-0.8zM222.8 205.7h0.8v0.8h-0.8zM226.8 210.1h0.8v0.8h-0.8zM227.3 208.6h0.8v0.8h-0.8zM226.4 205.0h0.8v0.8h-0.8zM226.8 205.7h0.8v0.8h-0.8zM223.1 210.2h0.8v0.8h-0.8zM224.3 209.7h0.8v0.8h-0.8zM225.6 209.5h0.8v0.8h-0.8zM225.2 210.0h0.8v0.8h-0.8zM226.9 205.8h0.8v0.8h-0.8zM226.7 206.8h0.8v0.8h-0.8zM226.1 207.0h0.8v0.8h-0.8zM227.4 210.4h0.8v0.8h-0.8zM224.1 209.9h0.8v0.8h-0.8zM222.7 206.0h0.8v0.8h-0.8zM222.5 210.7h0.8v0.8h-0.8zM227.9 206.8h0.8v0.8h-0.8zM223.9 210.0h0.8v0.8h-0.8zM227.4 204.7h0.8v0.8h-0.8zM226.2 207.6h0.8v0.8h-0.8zM223.6 208.1h0.8v0.8h-0.8zM228.2 207.7h0.8v0.8h-0.8zM224.9 209.0h0.8v0.8h-0.8zM222.4 205.4h0.8v0.8h-0.8zM223.5 208.8h0.8v0.8h-0.8zM229.5 209.0h0.8v0.8h-0.8zM226.2 209.6h0.8v0.8h-0.8zM222.6 207.5h0.8v0.8h-0.8zM224.3 209.0h0.8v0.8h-0.8zM221.8 204.7h0.8v0.8h-0.8zM227.9 208.3h0.8v0.8h-0.8zM227.8 209.5h0.8v0.8h-0.8zM227.2 211.5h0.8v0.8h-0.8zM225.6 207.1h0.8v0.8h-0.8zM223.9 209.8h0.8v0.8h-0.8zM224.4 209.5h0.8v0.8h-0.8zM222.4 203.4h0.8v0.8h-0.8zM226.0 208.6h0.8v0.8h-0.8zM222.4 204.9h0.8v0.8h-0.8zM223.8 208.5h0.8v0.8h-0.8zM222.4 210.0h0.8v0.8h-0.8zM222.7 211.1h0.8v0.8h-0.8zM222.8 209.3h0.8v0.8h-0.8zM225.3 210.5h0.8v0.8h-0.8zM222.0 211.4h0.8v0.8h-0.8zM224.4 210.7h0.8v0.8h-0.8zM225.2 210.6h0.8v0.8h-0.8zM222.9 211.3h0.8v0.8h-0.8zM224.4 207.1h0.8v0.8h-0.8zM225.0 208.4h0.8v0.8h-0.8zM227.3 207.4h0.8v0.8h-0.8zM224.4 205.0h0.8v0.8h-0.8zM222.7 210.8h0.8v0.8h-0.8zM223.3 208.1h0.8v0.8h-0.8zM224.8 207.9h0.8v0.8h-0.8zM225.6 207.2h0.8v0.8h-0.8zM228.5 202.8h0.8v0.8h-0.8zM226.3 208.3h0.8v0.8h-0.8zM222.1 207.0h0.8v0.8h-0.8zM223.1 205.5h0.8v0.8h-0.8zM226.4 210.6h0.8v0.8h-0.8zM226.6 207.1h0.8v0.8h-0.8zM225.1 206.2h0.8v0.8h-0.8zM225.0 210.6h0.8v0.8h-0.8zM225.6 209.5h0.8v0.8h-0.8zM227.1 206.2h0.8v0.8h-0.8zM226.5 209.8h0.8v0.8h-0.8zM226.9 211.1h0.8v0.8h-0.8zM223.1 206.0h0.8v0.8h-0.8zM221.8 208.8h0.8v0.8h-0.8zM224.1 208.7h0.8v0.8h-0.8zM225.1 211.1h0.8v0.8h-0.8zM223.0 208.9h0.8v0.8h-0.8zM228.2 206.2h0.8v0.8h-0.8zM222.4 208.3h0.8v0.8h-0.8zM230.4 208.5h0.8v0.8h-0.8zM228.2 204.1h0.8v0.8h-0.8zM223.5 209.9h0.8v0.8h-0.8zM225.3 205.9h0.8v0.8h-0.8zM223.9 209.5h0.8v0.8h-0.8zM225.3 207.2h0.8v0.8h-0.8zM225.2 209.2h0.8v0.8h-0.8zM224.4 209.5h0.8v0.8h-0.8zM225.7 210.1h0.8v0.8h-0.8zM223.4 207.0h0.8v0.8h-0.8zM223.6 205.4h0.8v0.8h-0.8zM224.4 210.2h0.8v0.8h-0.8zM227.5 209.1h0.8v0.8h-0.8zM222.0 206.6h0.8v0.8h-0.8zM223.5 207.2h0.8v0.8h-0.8zM226.1 208.0h0.8v0.8h-0.8zM224.0 209.5h0.8v0.8h-0.8zM227.8 209.7h0.8v0.8h-0.8zM225.3 210.3h0.8v0.8h-0.8zM226.3 206.6h0.8v0.8h-0.8zM227.4 210.5h0.8v0.8h-0.8zM222.9 207.6h0.8v0.8h-0.8zM227.0 206.4h0.8v0.8h-0.8zM223.7 208.0h0.8v0.8h-0.8zM229.1 210.8h0.8v0.8h-0.8zM225.3 204.5h0.8v0.8h-0.8zM227.5 204.0h0.8v0.8h-0.8zM227.7 208.0h0.8v0.8h-0.8zM224.6 209.5h0.8v0.8h-0.8zM224.4 210.0h0.8v0.8h-0.8zM226.6 211.2h0.8v0.8h-0.8zM224.5 209.4h0.8v0.8h-0.8zM224.5 209.5h0.8v0.8h-0.8zM223.0 210.7h0.8v0.8h-0.8zM227.3 206.1h0.8v0.8h-0.8zM227.3 207.8h0.8v0.8h-0.8zM224.9 207.7h0.8v0.8h-0.8zM224.8 208.1h0.8v0.8h-0.8zM225.6 209.1h0.8v0.8h-0.8zM226.6 206.7h0.8v0.8h-0.8zM223.8 209.8h0.8v0.8h-0.8zM225.8 206.7h0.8v0.8h-0.8zM224.6 209.8h0.8v0.8h-0.8zM224.2 207.6h0.8v0.8h-0.8zM225.9 207.2h0.8v0.8h-0.8zM225.2 204.0h0.8v0.8h-0.8zM221.8 208.3h0.8v0.8h-0.8zM224.4 206.3h0.8v0.8h-0.8zM221.8 204.5h0.8v0.8h-0.8zM224.7 210.1h0.8v0.8h-0.8zM224.8 208.3h0.8v0.8h-0.8zM223.1 205.8h0.8v0.8h-0.8zM229.0 211.3h0.8v0.8h-0.8zM223.0 205.1h0.8v0.8h-0.8zM224.3 207.1h0.8v0.8h-0.8zM225.1 211.2h0.8v0.8h-0.8zM223.6 210.4h0.8v0.8h-0.8zM225.1 210.7h0.8v0.8h-0.8zM222.7 208.9h0.8v0.8h-0.8zM222.9 209.5h0.8v0.8h-0.8zM228.0 209.3h0.8v0.8h-0.8zM228.0 209.8h0.8v0.8h-0.8zM227.7 210.3h0.8v0.8h-0.8zM225.0 209.0h0.8v0.8h-0.8zM226.5 208.8h0.8v0.8h-0.8zM224.0 206.7h0.8v0.8h-0.8zM228.9 208.9h0.8v0.8h-0.8zM223.9 208.1h0.8v0.8h-0.8zM223.3 208.2h0.8v0.8h-0.8zM224.0 211.4h0.8v0.8h-0.8zM229.6 209.5h0.8v0.8h-0.8zM225.7 207.3h0.8v0.8h-0.8zM224.6 211.2h0.8v0.8h-0.8z" fill="#111"/>
<text x="236.64999999999998" y="216.8" font-size="3.6" text-anchor="middle" font-weight="bold" fill="#333">Mouse IgG</text>
<text transform="translate(219.5,204.10000000000002) rotate(-90)" font-size="3.6" font-weight="bold" fill="#333">Mouse IgG</text>
<rect x="163.3" y="180.8" width="89.69999999999999" height="91.89999999999998" fill="none" stroke="#000" stroke-width="1.8"/>
<line x1="191.2" y1="180.8" x2="191.2" y2="272.7" stroke="#000" stroke-width="1.6"/>
<line x1="163.3" y1="244.1" x2="253.0" y2="244.1" stroke="#000" stroke-width="1.6"/>
<text x="249.6" y="257.1" font-size="10.5" text-anchor="end" font-weight="bold">2.3</text>
<text x="249.6" y="267.2" font-size="10.5" text-anchor="end" font-weight="bold">&#177; 1.6</text>
<rect x="347.70000000000005" y="182.0" width="34.89999999999998" height="36.19999999999999" fill="#fff"/>
<rect x="351.70000000000005" y="183.3" width="29.099999999999966" height="28.899999999999977" fill="none" stroke="#333" stroke-width="0.9"/>
<line x1="360.6" y1="183.3" x2="360.6" y2="212.2" stroke="#3a3a3a" stroke-width="0.9"/>
<line x1="351.70000000000005" y1="203.5" x2="380.8" y2="203.5" stroke="#3a3a3a" stroke-width="0.9"/>
<path d="M354.0 205.6h0.8v0.8h-0.8zM353.2 210.3h0.8v0.8h-0.8zM356.4 209.3h0.8v0.8h-0.8zM355.0 211.5h0.8v0.8h-0.8zM355.4 206.8h0.8v0.8h-0.8zM358.3 211.1h0.8v0.8h-0.8zM356.5 206.2h0.8v0.8h-0.8zM357.7 207.5h0.8v0.8h-0.8zM357.0 204.9h0.8v0.8h-0.8zM353.6 207.9h0.8v0.8h-0.8zM356.5 206.7h0.8v0.8h-0.8zM353.3 209.2h0.8v0.8h-0.8zM354.1 208.1h0.8v0.8h-0.8zM352.8 208.6h0.8v0.8h-0.8zM352.7 207.4h0.8v0.8h-0.8zM357.3 209.6h0.8v0.8h-0.8zM354.5 205.2h0.8v0.8h-0.8zM354.4 204.7h0.8v0.8h-0.8zM356.5 207.3h0.8v0.8h-0.8zM354.8 208.9h0.8v0.8h-0.8zM353.0 208.2h0.8v0.8h-0.8zM354.3 206.5h0.8v0.8h-0.8zM356.9 207.6h0.8v0.8h-0.8zM355.1 210.5h0.8v0.8h-0.8zM354.4 210.5h0.8v0.8h-0.8zM361.3 207.8h0.8v0.8h-0.8zM358.5 208.4h0.8v0.8h-0.8zM354.4 208.2h0.8v0.8h-0.8zM354.6 208.2h0.8v0.8h-0.8zM355.2 211.0h0.8v0.8h-0.8zM357.6 210.9h0.8v0.8h-0.8zM353.5 208.4h0.8v0.8h-0.8zM353.9 206.8h0.8v0.8h-0.8zM354.5 210.7h0.8v0.8h-0.8zM357.5 209.0h0.8v0.8h-0.8zM352.2 209.0h0.8v0.8h-0.8zM355.1 209.7h0.8v0.8h-0.8zM358.7 209.3h0.8v0.8h-0.8zM354.8 211.2h0.8v0.8h-0.8zM354.8 205.9h0.8v0.8h-0.8zM355.7 208.3h0.8v0.8h-0.8zM355.6 206.3h0.8v0.8h-0.8zM359.0 206.4h0.8v0.8h-0.8zM358.7 207.4h0.8v0.8h-0.8zM354.6 207.3h0.8v0.8h-0.8zM354.8 205.7h0.8v0.8h-0.8zM358.6 208.3h0.8v0.8h-0.8zM353.6 207.7h0.8v0.8h-0.8zM356.2 210.3h0.8v0.8h-0.8zM355.3 211.4h0.8v0.8h-0.8zM354.6 204.0h0.8v0.8h-0.8zM352.7 206.5h0.8v0.8h-0.8zM355.5 209.4h0.8v0.8h-0.8zM356.7 207.2h0.8v0.8h-0.8zM358.2 208.5h0.8v0.8h-0.8zM354.7 209.8h0.8v0.8h-0.8zM358.7 211.7h0.8v0.8h-0.8zM360.8 208.8h0.8v0.8h-0.8zM354.9 209.7h0.8v0.8h-0.8zM357.5 211.0h0.8v0.8h-0.8zM358.7 207.0h0.8v0.8h-0.8zM357.8 208.7h0.8v0.8h-0.8zM356.1 211.1h0.8v0.8h-0.8zM360.6 205.6h0.8v0.8h-0.8zM356.6 208.5h0.8v0.8h-0.8zM354.3 210.8h0.8v0.8h-0.8zM353.1 207.5h0.8v0.8h-0.8zM356.7 208.9h0.8v0.8h-0.8zM356.1 203.4h0.8v0.8h-0.8zM352.3 206.5h0.8v0.8h-0.8zM352.3 207.7h0.8v0.8h-0.8zM358.7 209.6h0.8v0.8h-0.8zM353.2 209.7h0.8v0.8h-0.8zM353.7 208.8h0.8v0.8h-0.8zM355.9 209.4h0.8v0.8h-0.8zM358.4 207.2h0.8v0.8h-0.8zM357.0 208.6h0.8v0.8h-0.8zM354.5 211.6h0.8v0.8h-0.8zM355.7 208.7h0.8v0.8h-0.8zM355.3 209.9h0.8v0.8h-0.8zM358.5 206.0h0.8v0.8h-0.8zM354.3 208.6h0.8v0.8h-0.8zM358.3 203.5h0.8v0.8h-0.8zM355.4 204.4h0.8v0.8h-0.8zM354.8 211.1h0.8v0.8h-0.8zM355.3 206.5h0.8v0.8h-0.8zM357.3 209.3h0.8v0.8h-0.8zM357.8 208.3h0.8v0.8h-0.8zM353.6 204.6h0.8v0.8h-0.8zM355.5 209.0h0.8v0.8h-0.8zM354.6 211.4h0.8v0.8h-0.8zM355.1 209.5h0.8v0.8h-0.8zM354.2 207.1h0.8v0.8h-0.8zM355.4 210.2h0.8v0.8h-0.8zM355.3 209.0h0.8v0.8h-0.8zM354.0 207.8h0.8v0.8h-0.8zM356.6 209.4h0.8v0.8h-0.8zM356.2 208.1h0.8v0.8h-0.8zM355.8 208.9h0.8v0.8h-0.8zM357.1 206.3h0.8v0.8h-0.8zM354.8 209.6h0.8v0.8h-0.8zM352.6 210.3h0.8v0.8h-0.8zM357.1 205.8h0.8v0.8h-0.8zM360.2 209.2h0.8v0.8h-0.8zM355.2 205.8h0.8v0.8h-0.8zM357.6 208.5h0.8v0.8h-0.8zM353.2 206.4h0.8v0.8h-0.8zM352.8 207.8h0.8v0.8h-0.8zM356.5 206.9h0.8v0.8h-0.8zM358.6 209.8h0.8v0.8h-0.8zM352.4 210.2h0.8v0.8h-0.8zM353.2 206.4h0.8v0.8h-0.8zM359.5 206.3h0.8v0.8h-0.8zM355.2 208.9h0.8v0.8h-0.8zM357.3 207.4h0.8v0.8h-0.8zM355.5 208.2h0.8v0.8h-0.8zM357.5 207.6h0.8v0.8h-0.8zM354.5 207.3h0.8v0.8h-0.8zM357.1 203.4h0.8v0.8h-0.8zM356.0 202.9h0.8v0.8h-0.8zM354.8 209.1h0.8v0.8h-0.8zM352.9 207.4h0.8v0.8h-0.8zM357.4 203.0h0.8v0.8h-0.8zM358.5 209.5h0.8v0.8h-0.8zM356.8 208.6h0.8v0.8h-0.8zM354.7 208.1h0.8v0.8h-0.8zM357.2 206.1h0.8v0.8h-0.8zM355.6 210.6h0.8v0.8h-0.8zM358.9 207.8h0.8v0.8h-0.8zM356.3 210.6h0.8v0.8h-0.8zM356.5 206.1h0.8v0.8h-0.8zM357.8 207.8h0.8v0.8h-0.8zM355.4 208.6h0.8v0.8h-0.8zM354.3 207.8h0.8v0.8h-0.8zM359.5 211.4h0.8v0.8h-0.8zM355.0 209.8h0.8v0.8h-0.8zM355.0 209.2h0.8v0.8h-0.8zM355.1 206.6h0.8v0.8h-0.8zM356.3 210.1h0.8v0.8h-0.8zM354.9 205.3h0.8v0.8h-0.8zM356.9 206.2h0.8v0.8h-0.8zM355.2 209.6h0.8v0.8h-0.8zM354.3 209.2h0.8v0.8h-0.8zM352.7 210.7h0.8v0.8h-0.8zM353.6 209.7h0.8v0.8h-0.8zM356.1 207.2h0.8v0.8h-0.8zM355.7 206.5h0.8v0.8h-0.8zM358.4 208.6h0.8v0.8h-0.8zM355.9 203.0h0.8v0.8h-0.8zM360.7 208.7h0.8v0.8h-0.8zM356.4 207.4h0.8v0.8h-0.8zM360.4 204.2h0.8v0.8h-0.8zM357.0 209.4h0.8v0.8h-0.8zM356.7 209.5h0.8v0.8h-0.8zM352.6 209.6h0.8v0.8h-0.8zM356.9 207.3h0.8v0.8h-0.8zM356.7 208.0h0.8v0.8h-0.8zM356.8 209.8h0.8v0.8h-0.8zM352.3 205.0h0.8v0.8h-0.8zM355.9 206.5h0.8v0.8h-0.8zM356.8 210.3h0.8v0.8h-0.8zM357.0 210.9h0.8v0.8h-0.8zM356.5 203.9h0.8v0.8h-0.8zM355.5 207.7h0.8v0.8h-0.8zM354.3 209.6h0.8v0.8h-0.8zM354.6 208.5h0.8v0.8h-0.8zM358.1 208.9h0.8v0.8h-0.8zM355.3 206.1h0.8v0.8h-0.8zM357.9 210.0h0.8v0.8h-0.8zM356.4 206.5h0.8v0.8h-0.8zM355.6 204.4h0.8v0.8h-0.8zM353.8 210.2h0.8v0.8h-0.8zM356.1 206.8h0.8v0.8h-0.8zM356.4 203.7h0.8v0.8h-0.8zM355.1 209.1h0.8v0.8h-0.8zM354.7 211.3h0.8v0.8h-0.8zM355.6 210.0h0.8v0.8h-0.8zM359.6 207.9h0.8v0.8h-0.8zM353.1 209.9h0.8v0.8h-0.8zM358.2 205.6h0.8v0.8h-0.8zM355.2 205.4h0.8v0.8h-0.8zM353.8 206.6h0.8v0.8h-0.8zM354.9 207.4h0.8v0.8h-0.8zM356.2 203.9h0.8v0.8h-0.8zM354.5 211.7h0.8v0.8h-0.8zM358.0 206.5h0.8v0.8h-0.8zM357.3 208.8h0.8v0.8h-0.8zM356.4 205.1h0.8v0.8h-0.8zM354.4 205.9h0.8v0.8h-0.8zM356.2 211.3h0.8v0.8h-0.8zM355.3 209.0h0.8v0.8h-0.8zM356.3 210.2h0.8v0.8h-0.8zM356.1 209.7h0.8v0.8h-0.8zM355.3 208.8h0.8v0.8h-0.8zM355.3 210.6h0.8v0.8h-0.8zM354.0 210.3h0.8v0.8h-0.8zM352.8 210.9h0.8v0.8h-0.8zM358.8 206.2h0.8v0.8h-0.8zM355.9 208.4h0.8v0.8h-0.8zM356.8 208.8h0.8v0.8h-0.8zM353.1 205.0h0.8v0.8h-0.8zM360.4 207.1h0.8v0.8h-0.8zM355.7 208.9h0.8v0.8h-0.8zM354.0 205.5h0.8v0.8h-0.8zM354.5 203.2h0.8v0.8h-0.8zM357.4 210.0h0.8v0.8h-0.8zM358.9 210.0h0.8v0.8h-0.8zM360.8 209.4h0.8v0.8h-0.8zM354.2 210.9h0.8v0.8h-0.8zM359.6 205.8h0.8v0.8h-0.8zM356.8 207.2h0.8v0.8h-0.8zM355.6 209.5h0.8v0.8h-0.8zM352.9 205.2h0.8v0.8h-0.8zM353.5 209.6h0.8v0.8h-0.8zM359.2 210.1h0.8v0.8h-0.8zM352.2 211.6h0.8v0.8h-0.8zM355.0 205.4h0.8v0.8h-0.8zM359.3 205.1h0.8v0.8h-0.8zM354.3 206.5h0.8v0.8h-0.8zM356.8 209.1h0.8v0.8h-0.8zM354.0 209.0h0.8v0.8h-0.8zM353.0 210.3h0.8v0.8h-0.8zM354.8 208.1h0.8v0.8h-0.8zM354.8 206.3h0.8v0.8h-0.8zM360.0 202.9h0.8v0.8h-0.8zM356.0 209.6h0.8v0.8h-0.8zM355.4 210.0h0.8v0.8h-0.8zM353.5 204.0h0.8v0.8h-0.8zM355.1 205.4h0.8v0.8h-0.8zM355.7 207.6h0.8v0.8h-0.8zM356.2 209.0h0.8v0.8h-0.8zM353.4 206.2h0.8v0.8h-0.8zM358.5 209.1h0.8v0.8h-0.8zM354.9 208.1h0.8v0.8h-0.8zM354.9 209.5h0.8v0.8h-0.8zM354.9 207.5h0.8v0.8h-0.8zM355.7 209.9h0.8v0.8h-0.8zM355.7 205.9h0.8v0.8h-0.8zM354.8 210.8h0.8v0.8h-0.8zM358.9 203.1h0.8v0.8h-0.8zM352.9 206.3h0.8v0.8h-0.8zM357.2 208.5h0.8v0.8h-0.8zM354.3 209.3h0.8v0.8h-0.8zM353.3 204.9h0.8v0.8h-0.8zM355.0 209.4h0.8v0.8h-0.8zM355.3 209.5h0.8v0.8h-0.8zM355.9 211.4h0.8v0.8h-0.8zM355.6 205.2h0.8v0.8h-0.8zM358.2 210.5h0.8v0.8h-0.8zM356.8 207.4h0.8v0.8h-0.8zM359.4 207.7h0.8v0.8h-0.8zM358.8 208.6h0.8v0.8h-0.8zM356.6 206.6h0.8v0.8h-0.8zM354.2 210.6h0.8v0.8h-0.8zM361.4 210.5h0.8v0.8h-0.8zM356.2 211.3h0.8v0.8h-0.8zM357.2 206.3h0.8v0.8h-0.8zM353.9 204.2h0.8v0.8h-0.8zM354.3 207.9h0.8v0.8h-0.8zM359.0 209.4h0.8v0.8h-0.8zM355.5 207.2h0.8v0.8h-0.8zM356.5 207.1h0.8v0.8h-0.8zM353.5 205.4h0.8v0.8h-0.8zM356.2 210.2h0.8v0.8h-0.8zM353.8 210.3h0.8v0.8h-0.8zM353.8 211.2h0.8v0.8h-0.8zM356.5 205.5h0.8v0.8h-0.8zM354.5 209.4h0.8v0.8h-0.8zM355.2 211.4h0.8v0.8h-0.8zM357.9 211.1h0.8v0.8h-0.8zM354.7 207.0h0.8v0.8h-0.8zM356.4 208.3h0.8v0.8h-0.8zM354.4 210.9h0.8v0.8h-0.8zM355.3 210.9h0.8v0.8h-0.8zM352.8 203.9h0.8v0.8h-0.8zM352.9 209.1h0.8v0.8h-0.8zM359.0 203.8h0.8v0.8h-0.8zM358.1 210.3h0.8v0.8h-0.8zM355.2 208.6h0.8v0.8h-0.8zM355.7 210.5h0.8v0.8h-0.8zM354.2 208.3h0.8v0.8h-0.8zM356.2 211.2h0.8v0.8h-0.8zM356.6 208.6h0.8v0.8h-0.8zM354.5 207.4h0.8v0.8h-0.8zM357.3 209.0h0.8v0.8h-0.8zM357.3 209.3h0.8v0.8h-0.8zM355.5 206.2h0.8v0.8h-0.8zM356.1 207.3h0.8v0.8h-0.8zM353.6 209.0h0.8v0.8h-0.8zM353.1 206.8h0.8v0.8h-0.8zM355.1 208.2h0.8v0.8h-0.8zM358.4 207.6h0.8v0.8h-0.8zM356.4 208.3h0.8v0.8h-0.8zM355.1 210.2h0.8v0.8h-0.8zM358.2 206.4h0.8v0.8h-0.8zM356.6 206.5h0.8v0.8h-0.8zM355.4 206.1h0.8v0.8h-0.8zM353.5 207.0h0.8v0.8h-0.8zM353.3 210.5h0.8v0.8h-0.8zM354.4 211.5h0.8v0.8h-0.8zM353.3 203.6h0.8v0.8h-0.8zM354.9 208.5h0.8v0.8h-0.8zM358.3 207.2h0.8v0.8h-0.8zM354.6 210.2h0.8v0.8h-0.8z" fill="#111"/>
<text x="367.25" y="217.0" font-size="3.6" text-anchor="middle" font-weight="bold" fill="#333">Mouse IgG</text>
<text transform="translate(350.1,204.3) rotate(-90)" font-size="3.6" font-weight="bold" fill="#333">Mouse IgG</text>
<rect x="292.5" y="181.0" width="91.10000000000002" height="92.60000000000002" fill="none" stroke="#000" stroke-width="1.8"/>
<line x1="321.2" y1="181.0" x2="321.2" y2="273.6" stroke="#000" stroke-width="1.6"/>
<line x1="292.5" y1="244.7" x2="383.6" y2="244.7" stroke="#000" stroke-width="1.6"/>
<text x="380.20000000000005" y="257.1" font-size="10.5" text-anchor="end" font-weight="bold">3.8</text>
<text x="380.20000000000005" y="267.2" font-size="10.5" text-anchor="end" font-weight="bold">&#177; 1.1</text>
<rect x="476.20000000000005" y="182.0" width="34.89999999999998" height="36.19999999999999" fill="#fff"/>
<rect x="480.20000000000005" y="183.3" width="29.099999999999966" height="28.899999999999977" fill="none" stroke="#333" stroke-width="0.9"/>
<line x1="489.1" y1="183.3" x2="489.1" y2="212.2" stroke="#3a3a3a" stroke-width="0.9"/>
<line x1="480.20000000000005" y1="203.5" x2="509.3" y2="203.5" stroke="#3a3a3a" stroke-width="0.9"/>
<path d="M486.2 208.5h0.8v0.8h-0.8zM486.7 208.5h0.8v0.8h-0.8zM482.8 207.5h0.8v0.8h-0.8zM485.7 207.0h0.8v0.8h-0.8zM482.5 208.3h0.8v0.8h-0.8zM485.6 207.4h0.8v0.8h-0.8zM483.4 211.1h0.8v0.8h-0.8zM485.1 209.0h0.8v0.8h-0.8zM483.8 210.1h0.8v0.8h-0.8zM482.2 210.3h0.8v0.8h-0.8zM487.4 209.2h0.8v0.8h-0.8zM481.4 210.5h0.8v0.8h-0.8zM484.7 208.5h0.8v0.8h-0.8zM482.9 209.0h0.8v0.8h-0.8zM483.8 208.9h0.8v0.8h-0.8zM484.2 207.5h0.8v0.8h-0.8zM484.9 208.1h0.8v0.8h-0.8zM483.7 209.4h0.8v0.8h-0.8zM485.6 209.7h0.8v0.8h-0.8zM486.2 208.1h0.8v0.8h-0.8zM484.3 211.1h0.8v0.8h-0.8zM485.4 209.0h0.8v0.8h-0.8zM485.0 208.0h0.8v0.8h-0.8zM484.9 205.4h0.8v0.8h-0.8zM482.3 208.8h0.8v0.8h-0.8zM481.8 210.9h0.8v0.8h-0.8zM487.4 208.4h0.8v0.8h-0.8zM481.4 210.0h0.8v0.8h-0.8zM484.2 207.9h0.8v0.8h-0.8zM481.1 208.9h0.8v0.8h-0.8zM484.2 209.7h0.8v0.8h-0.8zM485.4 205.9h0.8v0.8h-0.8zM488.0 208.4h0.8v0.8h-0.8zM484.8 210.4h0.8v0.8h-0.8zM483.7 206.7h0.8v0.8h-0.8zM482.3 211.4h0.8v0.8h-0.8zM481.4 207.8h0.8v0.8h-0.8zM482.0 208.7h0.8v0.8h-0.8zM481.6 210.6h0.8v0.8h-0.8zM483.3 209.9h0.8v0.8h-0.8zM482.1 209.6h0.8v0.8h-0.8zM486.6 207.3h0.8v0.8h-0.8zM482.6 206.7h0.8v0.8h-0.8zM486.4 210.7h0.8v0.8h-0.8zM486.5 209.2h0.8v0.8h-0.8zM486.1 208.8h0.8v0.8h-0.8zM484.8 207.3h0.8v0.8h-0.8zM483.9 207.4h0.8v0.8h-0.8zM483.7 208.4h0.8v0.8h-0.8zM484.0 205.4h0.8v0.8h-0.8zM483.2 208.5h0.8v0.8h-0.8zM486.2 211.2h0.8v0.8h-0.8zM482.7 205.2h0.8v0.8h-0.8zM485.8 208.3h0.8v0.8h-0.8zM482.8 207.1h0.8v0.8h-0.8zM484.7 210.6h0.8v0.8h-0.8zM483.4 207.5h0.8v0.8h-0.8zM483.2 210.8h0.8v0.8h-0.8zM484.7 207.5h0.8v0.8h-0.8zM482.3 208.4h0.8v0.8h-0.8zM484.9 207.0h0.8v0.8h-0.8zM484.5 208.9h0.8v0.8h-0.8zM482.3 207.7h0.8v0.8h-0.8zM482.6 206.2h0.8v0.8h-0.8zM484.6 208.5h0.8v0.8h-0.8zM482.5 209.4h0.8v0.8h-0.8zM486.0 209.0h0.8v0.8h-0.8zM482.9 207.7h0.8v0.8h-0.8zM489.3 210.1h0.8v0.8h-0.8zM483.6 210.8h0.8v0.8h-0.8zM484.9 203.2h0.8v0.8h-0.8zM483.2 207.2h0.8v0.8h-0.8zM488.0 210.4h0.8v0.8h-0.8zM483.9 209.7h0.8v0.8h-0.8zM484.3 205.0h0.8v0.8h-0.8zM482.4 211.6h0.8v0.8h-0.8zM483.2 206.3h0.8v0.8h-0.8zM483.9 209.1h0.8v0.8h-0.8zM483.0 208.5h0.8v0.8h-0.8zM487.0 207.8h0.8v0.8h-0.8zM483.5 207.9h0.8v0.8h-0.8zM484.2 208.0h0.8v0.8h-0.8zM488.0 208.1h0.8v0.8h-0.8zM481.0 206.3h0.8v0.8h-0.8zM485.2 208.0h0.8v0.8h-0.8zM487.1 208.7h0.8v0.8h-0.8zM487.6 207.5h0.8v0.8h-0.8zM485.2 210.3h0.8v0.8h-0.8zM487.8 209.7h0.8v0.8h-0.8zM485.8 211.0h0.8v0.8h-0.8zM485.0 210.7h0.8v0.8h-0.8zM482.7 203.5h0.8v0.8h-0.8zM484.3 205.8h0.8v0.8h-0.8zM483.8 207.9h0.8v0.8h-0.8zM486.4 208.5h0.8v0.8h-0.8zM487.0 208.1h0.8v0.8h-0.8zM485.5 210.9h0.8v0.8h-0.8zM483.8 208.2h0.8v0.8h-0.8zM481.2 205.6h0.8v0.8h-0.8zM481.2 206.7h0.8v0.8h-0.8zM482.5 203.5h0.8v0.8h-0.8zM485.2 209.4h0.8v0.8h-0.8zM483.7 207.9h0.8v0.8h-0.8zM485.4 208.9h0.8v0.8h-0.8zM484.2 206.4h0.8v0.8h-0.8zM482.1 205.9h0.8v0.8h-0.8zM482.7 209.3h0.8v0.8h-0.8zM483.4 209.7h0.8v0.8h-0.8zM484.7 207.8h0.8v0.8h-0.8zM483.5 207.9h0.8v0.8h-0.8zM484.3 211.2h0.8v0.8h-0.8zM485.0 204.4h0.8v0.8h-0.8zM482.0 206.0h0.8v0.8h-0.8zM484.0 206.2h0.8v0.8h-0.8zM483.2 208.8h0.8v0.8h-0.8zM486.4 207.2h0.8v0.8h-0.8zM485.0 207.9h0.8v0.8h-0.8zM486.4 211.3h0.8v0.8h-0.8zM484.2 207.6h0.8v0.8h-0.8zM482.6 211.1h0.8v0.8h-0.8zM482.2 208.6h0.8v0.8h-0.8zM485.7 206.5h0.8v0.8h-0.8zM482.0 205.2h0.8v0.8h-0.8zM481.4 210.6h0.8v0.8h-0.8zM485.6 208.2h0.8v0.8h-0.8zM484.5 208.7h0.8v0.8h-0.8zM483.3 207.5h0.8v0.8h-0.8zM482.2 209.8h0.8v0.8h-0.8zM481.7 210.2h0.8v0.8h-0.8zM483.3 209.2h0.8v0.8h-0.8zM483.6 206.0h0.8v0.8h-0.8zM483.5 211.7h0.8v0.8h-0.8zM483.7 210.0h0.8v0.8h-0.8zM480.8 207.1h0.8v0.8h-0.8zM481.0 209.3h0.8v0.8h-0.8zM484.2 211.4h0.8v0.8h-0.8zM485.3 207.2h0.8v0.8h-0.8zM484.1 210.4h0.8v0.8h-0.8zM485.6 205.4h0.8v0.8h-0.8zM487.3 209.0h0.8v0.8h-0.8zM480.8 209.5h0.8v0.8h-0.8zM489.6 204.9h0.8v0.8h-0.8zM486.8 208.7h0.8v0.8h-0.8zM484.1 209.1h0.8v0.8h-0.8zM484.2 210.3h0.8v0.8h-0.8zM484.9 210.6h0.8v0.8h-0.8zM482.9 209.9h0.8v0.8h-0.8zM483.1 211.1h0.8v0.8h-0.8zM486.2 210.2h0.8v0.8h-0.8zM482.5 204.9h0.8v0.8h-0.8zM484.9 206.7h0.8v0.8h-0.8zM487.4 207.4h0.8v0.8h-0.8zM489.9 206.3h0.8v0.8h-0.8zM481.5 210.5h0.8v0.8h-0.8zM484.0 207.5h0.8v0.8h-0.8zM484.9 206.3h0.8v0.8h-0.8zM486.9 203.6h0.8v0.8h-0.8zM482.3 208.6h0.8v0.8h-0.8zM484.5 211.0h0.8v0.8h-0.8zM482.1 207.7h0.8v0.8h-0.8zM483.1 206.5h0.8v0.8h-0.8zM480.9 211.3h0.8v0.8h-0.8zM485.1 210.8h0.8v0.8h-0.8zM480.8 207.8h0.8v0.8h-0.8zM485.9 211.4h0.8v0.8h-0.8zM488.4 205.6h0.8v0.8h-0.8zM483.2 205.7h0.8v0.8h-0.8zM485.2 208.7h0.8v0.8h-0.8zM484.4 208.5h0.8v0.8h-0.8zM486.1 208.0h0.8v0.8h-0.8zM487.0 210.2h0.8v0.8h-0.8zM487.0 203.1h0.8v0.8h-0.8zM485.2 203.2h0.8v0.8h-0.8zM483.9 208.0h0.8v0.8h-0.8zM481.5 204.3h0.8v0.8h-0.8zM483.2 209.5h0.8v0.8h-0.8zM484.3 203.9h0.8v0.8h-0.8zM482.1 209.7h0.8v0.8h-0.8zM485.7 205.8h0.8v0.8h-0.8zM485.4 210.3h0.8v0.8h-0.8zM485.5 206.5h0.8v0.8h-0.8zM485.5 207.5h0.8v0.8h-0.8zM483.4 210.1h0.8v0.8h-0.8zM481.9 209.4h0.8v0.8h-0.8zM484.0 207.7h0.8v0.8h-0.8zM484.0 208.1h0.8v0.8h-0.8zM482.3 205.4h0.8v0.8h-0.8zM481.5 208.7h0.8v0.8h-0.8zM484.7 208.2h0.8v0.8h-0.8zM485.1 208.1h0.8v0.8h-0.8zM480.9 210.8h0.8v0.8h-0.8zM482.0 206.1h0.8v0.8h-0.8zM487.9 209.9h0.8v0.8h-0.8zM485.9 206.4h0.8v0.8h-0.8zM487.9 206.7h0.8v0.8h-0.8zM484.1 206.3h0.8v0.8h-0.8zM484.1 208.7h0.8v0.8h-0.8zM484.3 209.9h0.8v0.8h-0.8zM486.1 209.0h0.8v0.8h-0.8zM481.2 205.7h0.8v0.8h-0.8zM482.4 206.2h0.8v0.8h-0.8zM486.0 210.4h0.8v0.8h-0.8zM481.3 207.7h0.8v0.8h-0.8zM486.7 211.1h0.8v0.8h-0.8zM481.2 210.3h0.8v0.8h-0.8zM483.9 209.6h0.8v0.8h-0.8zM488.1 210.3h0.8v0.8h-0.8zM485.2 211.1h0.8v0.8h-0.8zM484.1 208.1h0.8v0.8h-0.8zM482.9 207.6h0.8v0.8h-0.8zM481.4 207.4h0.8v0.8h-0.8zM487.1 208.8h0.8v0.8h-0.8zM482.2 206.8h0.8v0.8h-0.8zM483.1 210.7h0.8v0.8h-0.8zM483.0 210.4h0.8v0.8h-0.8zM485.1 209.2h0.8v0.8h-0.8zM486.3 209.8h0.8v0.8h-0.8zM488.6 210.9h0.8v0.8h-0.8zM485.1 208.1h0.8v0.8h-0.8zM481.2 210.3h0.8v0.8h-0.8zM480.8 208.0h0.8v0.8h-0.8zM485.7 209.7h0.8v0.8h-0.8zM481.8 210.0h0.8v0.8h-0.8zM483.6 207.9h0.8v0.8h-0.8zM485.2 209.6h0.8v0.8h-0.8zM487.7 205.0h0.8v0.8h-0.8zM483.3 207.3h0.8v0.8h-0.8zM484.5 208.1h0.8v0.8h-0.8zM486.3 208.8h0.8v0.8h-0.8zM485.8 203.7h0.8v0.8h-0.8zM483.8 209.0h0.8v0.8h-0.8zM484.7 211.0h0.8v0.8h-0.8zM482.9 206.5h0.8v0.8h-0.8zM483.3 211.1h0.8v0.8h-0.8zM485.8 206.6h0.8v0.8h-0.8zM487.3 209.7h0.8v0.8h-0.8zM482.8 207.6h0.8v0.8h-0.8zM489.0 209.5h0.8v0.8h-0.8zM482.4 209.4h0.8v0.8h-0.8zM480.9 206.1h0.8v0.8h-0.8zM483.5 210.0h0.8v0.8h-0.8zM484.8 207.5h0.8v0.8h-0.8zM484.4 209.9h0.8v0.8h-0.8zM484.3 211.3h0.8v0.8h-0.8zM481.3 209.1h0.8v0.8h-0.8zM486.9 211.0h0.8v0.8h-0.8zM485.4 206.1h0.8v0.8h-0.8zM486.4 208.1h0.8v0.8h-0.8zM485.2 203.5h0.8v0.8h-0.8zM482.0 209.8h0.8v0.8h-0.8zM485.2 210.0h0.8v0.8h-0.8zM481.7 206.6h0.8v0.8h-0.8zM487.0 206.7h0.8v0.8h-0.8zM487.3 204.2h0.8v0.8h-0.8zM481.3 211.3h0.8v0.8h-0.8zM483.7 207.9h0.8v0.8h-0.8zM488.4 205.5h0.8v0.8h-0.8zM483.7 209.4h0.8v0.8h-0.8zM481.2 207.1h0.8v0.8h-0.8zM486.4 210.5h0.8v0.8h-0.8zM482.9 208.6h0.8v0.8h-0.8zM486.1 206.9h0.8v0.8h-0.8zM481.9 206.7h0.8v0.8h-0.8zM482.5 206.2h0.8v0.8h-0.8zM481.3 207.7h0.8v0.8h-0.8zM482.0 210.9h0.8v0.8h-0.8zM483.1 206.7h0.8v0.8h-0.8zM483.7 207.5h0.8v0.8h-0.8zM483.3 209.9h0.8v0.8h-0.8zM482.7 208.7h0.8v0.8h-0.8zM487.8 211.3h0.8v0.8h-0.8zM481.2 208.3h0.8v0.8h-0.8zM483.4 207.4h0.8v0.8h-0.8zM485.0 207.7h0.8v0.8h-0.8zM485.9 208.3h0.8v0.8h-0.8zM484.4 209.6h0.8v0.8h-0.8zM486.7 210.2h0.8v0.8h-0.8zM483.8 207.7h0.8v0.8h-0.8zM481.6 205.7h0.8v0.8h-0.8zM485.3 210.6h0.8v0.8h-0.8zM484.5 206.7h0.8v0.8h-0.8zM483.3 211.6h0.8v0.8h-0.8zM487.2 208.6h0.8v0.8h-0.8zM486.8 204.6h0.8v0.8h-0.8zM484.3 208.4h0.8v0.8h-0.8zM483.0 211.5h0.8v0.8h-0.8zM481.5 205.2h0.8v0.8h-0.8zM481.4 208.1h0.8v0.8h-0.8zM482.9 208.2h0.8v0.8h-0.8zM485.0 210.2h0.8v0.8h-0.8zM486.5 210.5h0.8v0.8h-0.8zM484.9 205.3h0.8v0.8h-0.8zM484.0 209.2h0.8v0.8h-0.8zM486.2 209.8h0.8v0.8h-0.8zM486.0 209.3h0.8v0.8h-0.8zM486.3 207.8h0.8v0.8h-0.8zM480.8 211.3h0.8v0.8h-0.8zM483.2 209.8h0.8v0.8h-0.8zM483.9 210.2h0.8v0.8h-0.8zM485.9 208.5h0.8v0.8h-0.8zM486.9 211.6h0.8v0.8h-0.8zM483.0 208.4h0.8v0.8h-0.8zM488.4 206.7h0.8v0.8h-0.8zM484.3 207.1h0.8v0.8h-0.8z" fill="#111"/>
<text x="495.75" y="217.0" font-size="3.6" text-anchor="middle" font-weight="bold" fill="#333">Mouse IgG</text>
<text transform="translate(478.6,204.3) rotate(-90)" font-size="3.6" font-weight="bold" fill="#333">Mouse IgG</text>
<rect x="421.5" y="181.0" width="90.60000000000002" height="92.5" fill="none" stroke="#000" stroke-width="1.8"/>
<line x1="449.8" y1="181.0" x2="449.8" y2="273.5" stroke="#000" stroke-width="1.6"/>
<line x1="421.5" y1="244.6" x2="512.1" y2="244.6" stroke="#000" stroke-width="1.6"/>
<text x="508.70000000000005" y="257.1" font-size="10.5" text-anchor="end" font-weight="bold">0.4</text>
<text x="508.70000000000005" y="267.2" font-size="10.5" text-anchor="end" font-weight="bold">&#177; 0.4</text>
<text x="3.1" y="321.2" font-size="17.3" text-anchor="start" font-weight="bold" >I</text>
<line x1="37" y1="327.5" x2="37" y2="432.0" stroke="#000" stroke-width="1.6"/>
<line x1="36.2" y1="429.0" x2="162.5" y2="429.0" stroke="#000" stroke-width="1.6"/>
<line x1="34.4" y1="429.0" x2="39.8" y2="429.0" stroke="#000" stroke-width="1.3"/>
<text x="33.2" y="432.3" font-size="9" text-anchor="end" font-weight="bold" >0</text>
<line x1="34.4" y1="414.6" x2="39.8" y2="414.6" stroke="#000" stroke-width="1.3"/>
<text x="33.2" y="417.90000000000003" font-size="9" text-anchor="end" font-weight="bold" >2</text>
<line x1="34.4" y1="400.2" x2="39.8" y2="400.2" stroke="#000" stroke-width="1.3"/>
<text x="33.2" y="403.5" font-size="9" text-anchor="end" font-weight="bold" >4</text>
<line x1="34.4" y1="385.8" x2="39.8" y2="385.8" stroke="#000" stroke-width="1.3"/>
<text x="33.2" y="389.1" font-size="9" text-anchor="end" font-weight="bold" >6</text>
<line x1="34.4" y1="371.4" x2="39.8" y2="371.4" stroke="#000" stroke-width="1.3"/>
<text x="33.2" y="374.7" font-size="9" text-anchor="end" font-weight="bold" >8</text>
<line x1="34.4" y1="357.0" x2="39.8" y2="357.0" stroke="#000" stroke-width="1.3"/>
<text x="33.2" y="360.3" font-size="9" text-anchor="end" font-weight="bold" >10</text>
<line x1="34.4" y1="342.6" x2="39.8" y2="342.6" stroke="#000" stroke-width="1.3"/>
<text x="33.2" y="345.90000000000003" font-size="9" text-anchor="end" font-weight="bold" >12</text>
<line x1="34.4" y1="328.2" x2="39.8" y2="328.2" stroke="#000" stroke-width="1.3"/>
<text x="33.2" y="331.5" font-size="9" text-anchor="end" font-weight="bold" >14</text>
<line x1="68.1" y1="429.0" x2="68.1" y2="432.0" stroke="#000" stroke-width="1.4"/>
<line x1="99.2" y1="429.0" x2="99.2" y2="432.0" stroke="#000" stroke-width="1.4"/>
<line x1="130.3" y1="429.0" x2="130.3" y2="432.0" stroke="#000" stroke-width="1.4"/>
<line x1="161.8" y1="429.0" x2="161.8" y2="432.0" stroke="#000" stroke-width="1.4"/>
<rect x="40.0" y="418.6" width="15.400000000000006" height="10.399999999999977" fill="#fff" stroke="#000" stroke-width="1.6"/>
<line x1="47.7" y1="418.6" x2="47.7" y2="414" stroke="#000" stroke-width="1.4"/>
<line x1="45.5" y1="414" x2="49.900000000000006" y2="414" stroke="#000" stroke-width="1.7"/>
<rect x="50.5" y="419.7" width="15.400000000000006" height="9.300000000000011" fill="#c1c1c1" stroke="#000" stroke-width="1.6"/>
<line x1="58.2" y1="419.7" x2="58.2" y2="416.6" stroke="#000" stroke-width="1.4"/>
<line x1="56.0" y1="416.6" x2="60.400000000000006" y2="416.6" stroke="#000" stroke-width="1.7"/>
<rect x="71.39999999999999" y="370.5" width="15.400000000000006" height="58.5" fill="#fff" stroke="#000" stroke-width="1.6"/>
<line x1="79.1" y1="370.5" x2="79.1" y2="343.5" stroke="#000" stroke-width="1.4"/>
<line x1="76.89999999999999" y1="343.5" x2="81.3" y2="343.5" stroke="#000" stroke-width="1.7"/>
<polygon points="80.30,336.70 81.21,338.15 82.87,338.57 81.77,339.88 81.89,341.58 80.30,340.95 78.71,341.58 78.83,339.88 77.73,338.57 79.39,338.15" fill="#000" stroke="#000" stroke-width="0.3"/>
<rect x="82.3" y="387.8" width="15.400000000000006" height="41.19999999999999" fill="#c1c1c1" stroke="#000" stroke-width="1.6"/>
<line x1="90.0" y1="387.8" x2="90.0" y2="370" stroke="#000" stroke-width="1.4"/>
<line x1="87.8" y1="370" x2="92.2" y2="370" stroke="#000" stroke-width="1.7"/>
<polygon points="91.20,363.20 92.11,364.65 93.77,365.07 92.67,366.38 92.79,368.08 91.20,367.45 89.61,368.08 89.73,366.38 88.63,365.07 90.29,364.65" fill="#000" stroke="#000" stroke-width="0.3"/>
<rect x="102.7" y="347" width="15.400000000000006" height="82.0" fill="#fff" stroke="#000" stroke-width="1.6"/>
<line x1="110.4" y1="347" x2="110.4" y2="337.5" stroke="#000" stroke-width="1.4"/>
<line x1="108.2" y1="337.5" x2="112.60000000000001" y2="337.5" stroke="#000" stroke-width="1.7"/>
<polygon points="111.60,330.70 112.51,332.15 114.17,332.57 113.07,333.88 113.19,335.58 111.60,334.95 110.01,335.58 110.13,333.88 109.03,332.57 110.69,332.15" fill="#000" stroke="#000" stroke-width="0.3"/>
<rect x="112.7" y="374.8" width="15.399999999999991" height="54.19999999999999" fill="#c1c1c1" stroke="#000" stroke-width="1.6"/>
<line x1="120.4" y1="374.8" x2="120.4" y2="369.5" stroke="#000" stroke-width="1.4"/>
<line x1="118.2" y1="369.5" x2="122.60000000000001" y2="369.5" stroke="#000" stroke-width="1.7"/>
<polygon points="121.60,362.70 122.51,364.15 124.17,364.57 123.07,365.88 123.19,367.58 121.60,366.95 120.01,367.58 120.13,365.88 119.03,364.57 120.69,364.15" fill="#000" stroke="#000" stroke-width="0.3"/>
<rect x="133.9" y="414.4" width="15.399999999999977" height="14.600000000000023" fill="#fff" stroke="#000" stroke-width="1.6"/>
<line x1="141.6" y1="414.4" x2="141.6" y2="407.9" stroke="#000" stroke-width="1.4"/>
<line x1="139.4" y1="407.9" x2="143.79999999999998" y2="407.9" stroke="#000" stroke-width="1.7"/>
<rect x="144.4" y="417.5" width="15.399999999999977" height="11.5" fill="#c1c1c1" stroke="#000" stroke-width="1.6"/>
<line x1="152.1" y1="417.5" x2="152.1" y2="413.2" stroke="#000" stroke-width="1.4"/>
<line x1="149.9" y1="413.2" x2="154.29999999999998" y2="413.2" stroke="#000" stroke-width="1.7"/>
<rect x="123" y="331.5" width="4.5" height="4.5" fill="#fff" stroke="#000" stroke-width="1.3"/>
<rect x="123" y="347" width="4.5" height="4.5" fill="#c1c1c1" stroke="#000" stroke-width="1.3"/>
<text x="131.6" y="336" font-size="8" text-anchor="start" font-weight="normal" textLength="24.2" lengthAdjust="spacingAndGlyphs">CD45+</text>
<text x="131.6" y="345.7" font-size="8" text-anchor="start" font-weight="normal" textLength="24.2" lengthAdjust="spacingAndGlyphs">CD45+</text>
<text x="131.6" y="353.8" font-size="8" text-anchor="start" font-weight="normal" textLength="24.2" lengthAdjust="spacingAndGlyphs">CD34+</text>
<text transform="translate(10.3,378.3) rotate(-90)" font-size="10.7" font-weight="bold" text-anchor="middle" textLength="80.7" lengthAdjust="spacingAndGlyphs">% Differentiated</text>
<text transform="translate(20,379) rotate(-90)" font-size="10.7" font-weight="bold" text-anchor="middle" textLength="28" lengthAdjust="spacingAndGlyphs">hESC</text>
<text transform="translate(63.25,434.25) rotate(-45)" font-size="8.3" font-weight="bold" text-anchor="end">Control</text>
<text transform="translate(98.25,436.75) rotate(-45)" font-size="8.3" font-weight="bold" text-anchor="end">Cytokines</text>
<text transform="translate(126.6,437.7) rotate(-45)" font-size="8.3" font-weight="bold" text-anchor="end"><tspan x="0" dy="0">Cytokines</tspan><tspan x="-3.4" dy="7.8">+ BMP-4</tspan></text>
<text transform="translate(157.7,437.0) rotate(-45)" font-size="8.3" font-weight="bold" text-anchor="end">BMP-4</text>
<text x="177.34" y="321.0" font-size="17.3" text-anchor="start" font-weight="bold" >J</text>
<line x1="216.0" y1="328.1" x2="216.0" y2="432.7" stroke="#000" stroke-width="1.6"/>
<line x1="215.2" y1="429.7" x2="342" y2="429.7" stroke="#000" stroke-width="1.6"/>
<line x1="213.4" y1="429.7" x2="218.8" y2="429.7" stroke="#000" stroke-width="1.3"/>
<text x="212.2" y="433.0" font-size="9" text-anchor="end" font-weight="bold" >0</text>
<line x1="213.4" y1="409.52" x2="218.8" y2="409.52" stroke="#000" stroke-width="1.3"/>
<text x="212.2" y="412.82" font-size="9" text-anchor="end" font-weight="bold" >5</text>
<line x1="213.4" y1="389.34" x2="218.8" y2="389.34" stroke="#000" stroke-width="1.3"/>
<text x="212.2" y="392.64" font-size="9" text-anchor="end" font-weight="bold" >10</text>
<line x1="213.4" y1="369.15999999999997" x2="218.8" y2="369.15999999999997" stroke="#000" stroke-width="1.3"/>
<text x="212.2" y="372.46" font-size="9" text-anchor="end" font-weight="bold" >15</text>
<line x1="213.4" y1="348.98" x2="218.8" y2="348.98" stroke="#000" stroke-width="1.3"/>
<text x="212.2" y="352.28000000000003" font-size="9" text-anchor="end" font-weight="bold" >20</text>
<line x1="213.4" y1="328.8" x2="218.8" y2="328.8" stroke="#000" stroke-width="1.3"/>
<text x="212.2" y="332.1" font-size="9" text-anchor="end" font-weight="bold" >25</text>
<line x1="247.5" y1="429.7" x2="247.5" y2="432.7" stroke="#000" stroke-width="1.4"/>
<line x1="278" y1="429.7" x2="278" y2="432.7" stroke="#000" stroke-width="1.4"/>
<line x1="310" y1="429.7" x2="310" y2="432.7" stroke="#000" stroke-width="1.4"/>
<line x1="341" y1="429.7" x2="341" y2="432.7" stroke="#000" stroke-width="1.4"/>
<rect x="223" y="378" width="16.5" height="51.69999999999999" fill="#c1c1c1" stroke="#000" stroke-width="1.6"/>
<line x1="231.25" y1="378" x2="231.25" y2="365.5" stroke="#000" stroke-width="1.4"/>
<line x1="229.05" y1="365.5" x2="233.45" y2="365.5" stroke="#000" stroke-width="1.7"/>
<rect x="254" y="369" width="16.5" height="60.69999999999999" fill="#c1c1c1" stroke="#000" stroke-width="1.6"/>
<line x1="262.25" y1="369" x2="262.25" y2="342.5" stroke="#000" stroke-width="1.4"/>
<line x1="260.05" y1="342.5" x2="264.45" y2="342.5" stroke="#000" stroke-width="1.7"/>
<rect x="285" y="381" width="17" height="48.69999999999999" fill="#c1c1c1" stroke="#000" stroke-width="1.6"/>
<line x1="293.5" y1="381" x2="293.5" y2="374" stroke="#000" stroke-width="1.4"/>
<line x1="291.3" y1="374" x2="295.7" y2="374" stroke="#000" stroke-width="1.7"/>
<rect x="316" y="387" width="18" height="42.69999999999999" fill="#c1c1c1" stroke="#000" stroke-width="1.6"/>
<line x1="325.0" y1="387" x2="325.0" y2="372.5" stroke="#000" stroke-width="1.4"/>
<line x1="322.8" y1="372.5" x2="327.2" y2="372.5" stroke="#000" stroke-width="1.7"/>
<text transform="translate(188.8,378.2) rotate(-90)" font-size="10.3" font-weight="bold" text-anchor="middle" textLength="89.4" lengthAdjust="spacingAndGlyphs">Total cells (x10<tspan dy="-3.5" font-size="7.5">5</tspan><tspan dy="3.5">) /</tspan></text>
<text transform="translate(199.2,378.4) rotate(-90)" font-size="10.3" font-weight="bold" text-anchor="middle" textLength="18.7" lengthAdjust="spacingAndGlyphs">well</text>
<text transform="translate(242,436.25) rotate(-45)" font-size="8.3" font-weight="bold" text-anchor="end">Control</text>
<text transform="translate(274.5,436.25) rotate(-45)" font-size="8.3" font-weight="bold" text-anchor="end">Cytokines</text>
<text transform="translate(302.5,436.5) rotate(-45)" font-size="8.3" font-weight="bold" text-anchor="end"><tspan x="0" dy="0">Cytokines</tspan><tspan x="-3.4" dy="7.8">+ BMP-4</tspan></text>
<text transform="translate(333.5,436.5) rotate(-45)" font-size="8.3" font-weight="bold" text-anchor="end">BMP-4</text>
<line x1="285.5" y1="318" x2="285.5" y2="357" stroke="#000" stroke-width="0.9"/>
<line x1="285.5" y1="357" x2="330.5" y2="357" stroke="#000" stroke-width="0.9"/>
<line x1="284" y1="318" x2="285.5" y2="318" stroke="#000" stroke-width="0.7"/>
<line x1="284" y1="331" x2="285.5" y2="331" stroke="#000" stroke-width="0.7"/>
<line x1="284" y1="344" x2="285.5" y2="344" stroke="#000" stroke-width="0.7"/>
<line x1="284" y1="357" x2="285.5" y2="357" stroke="#000" stroke-width="0.7"/>
<rect x="289.5" y="324.4" width="6.100000000000023" height="32.60000000000002" fill="#bdbdbd" stroke="#222" stroke-width="0.8"/>
<rect x="301.6" y="323.4" width="5.399999999999977" height="33.60000000000002" fill="#bdbdbd" stroke="#222" stroke-width="0.8"/>
<rect x="313" y="324.8" width="5.5" height="32.19999999999999" fill="#bdbdbd" stroke="#222" stroke-width="0.8"/>
<rect x="324.5" y="324" width="5.5" height="33" fill="#bdbdbd" stroke="#222" stroke-width="0.8"/>
<line x1="327.2" y1="321.4" x2="327.2" y2="324" stroke="#000" stroke-width="0.7"/>
<text x="283.5" y="319.5" font-size="3.2" text-anchor="end" font-weight="bold">80</text>
<text x="283.5" y="332.5" font-size="3.2" text-anchor="end" font-weight="bold">60</text>
<text x="283.5" y="345.5" font-size="3.2" text-anchor="end" font-weight="bold">40</text>
<text x="283.5" y="358.5" font-size="3.2" text-anchor="end" font-weight="bold">0</text>
<text transform="translate(278.3,339.5) rotate(-90)" font-size="4" font-weight="bold" text-anchor="middle" textLength="28" lengthAdjust="spacingAndGlyphs">% Live Cells</text>
<text transform="translate(293,359.5) rotate(-45)" font-size="3.4" font-weight="bold" text-anchor="end">Control</text>
<text transform="translate(304.5,359.5) rotate(-45)" font-size="3.4" font-weight="bold" text-anchor="end">Cytokines</text>
<text transform="translate(316,359.5) rotate(-45)" font-size="3.4" font-weight="bold" text-anchor="end">Cyto+BMP</text>
<text transform="translate(327,359.5) rotate(-45)" font-size="3.4" font-weight="bold" text-anchor="end">BMP-4</text>
<text x="356.75" y="322.1" font-size="17.3" text-anchor="start" font-weight="bold" >K</text>
<line x1="394.2" y1="328.26" x2="394.2" y2="432.4" stroke="#000" stroke-width="1.6"/>
<line x1="393.4" y1="429.4" x2="519" y2="429.4" stroke="#000" stroke-width="1.6"/>
<line x1="391.59999999999997" y1="429.4" x2="397.0" y2="429.4" stroke="#000" stroke-width="1.3"/>
<text x="390.4" y="432.7" font-size="9" text-anchor="end" font-weight="bold" >0</text>
<line x1="391.59999999999997" y1="418.23999999999995" x2="397.0" y2="418.23999999999995" stroke="#000" stroke-width="1.3"/>
<text x="390.4" y="421.53999999999996" font-size="9" text-anchor="end" font-weight="bold" >2</text>
<line x1="391.59999999999997" y1="407.08" x2="397.0" y2="407.08" stroke="#000" stroke-width="1.3"/>
<text x="390.4" y="410.38" font-size="9" text-anchor="end" font-weight="bold" >4</text>
<line x1="391.59999999999997" y1="395.91999999999996" x2="397.0" y2="395.91999999999996" stroke="#000" stroke-width="1.3"/>
<text x="390.4" y="399.21999999999997" font-size="9" text-anchor="end" font-weight="bold" >6</text>
<line x1="391.59999999999997" y1="384.76" x2="397.0" y2="384.76" stroke="#000" stroke-width="1.3"/>
<text x="390.4" y="388.06" font-size="9" text-anchor="end" font-weight="bold" >8</text>
<line x1="391.59999999999997" y1="373.59999999999997" x2="397.0" y2="373.59999999999997" stroke="#000" stroke-width="1.3"/>
<text x="390.4" y="376.9" font-size="9" text-anchor="end" font-weight="bold" >10</text>
<line x1="391.59999999999997" y1="362.43999999999994" x2="397.0" y2="362.43999999999994" stroke="#000" stroke-width="1.3"/>
<text x="390.4" y="365.73999999999995" font-size="9" text-anchor="end" font-weight="bold" >12</text>
<line x1="391.59999999999997" y1="351.28" x2="397.0" y2="351.28" stroke="#000" stroke-width="1.3"/>
<text x="390.4" y="354.58" font-size="9" text-anchor="end" font-weight="bold" >14</text>
<line x1="391.59999999999997" y1="340.12" x2="397.0" y2="340.12" stroke="#000" stroke-width="1.3"/>
<text x="390.4" y="343.42" font-size="9" text-anchor="end" font-weight="bold" >16</text>
<line x1="391.59999999999997" y1="328.96" x2="397.0" y2="328.96" stroke="#000" stroke-width="1.3"/>
<text x="390.4" y="332.26" font-size="9" text-anchor="end" font-weight="bold" >18</text>
<line x1="425" y1="429.4" x2="425" y2="432.4" stroke="#000" stroke-width="1.4"/>
<line x1="456.2" y1="429.4" x2="456.2" y2="432.4" stroke="#000" stroke-width="1.4"/>
<line x1="487.2" y1="429.4" x2="487.2" y2="432.4" stroke="#000" stroke-width="1.4"/>
<line x1="518.2" y1="429.4" x2="518.2" y2="432.4" stroke="#000" stroke-width="1.4"/>
<rect x="396.6" y="421" width="15.399999999999977" height="8.399999999999977" fill="#fff" stroke="#000" stroke-width="1.6"/>
<line x1="404.3" y1="421" x2="404.3" y2="417.5" stroke="#000" stroke-width="1.4"/>
<line x1="402.1" y1="417.5" x2="406.5" y2="417.5" stroke="#000" stroke-width="1.7"/>
<rect x="406.90000000000003" y="422.7" width="15.399999999999977" height="6.699999999999989" fill="#c1c1c1" stroke="#000" stroke-width="1.6"/>
<line x1="414.6" y1="422.7" x2="414.6" y2="420" stroke="#000" stroke-width="1.4"/>
<line x1="412.40000000000003" y1="420" x2="416.8" y2="420" stroke="#000" stroke-width="1.7"/>
<rect x="427.6" y="370" width="15.399999999999977" height="59.39999999999998" fill="#fff" stroke="#000" stroke-width="1.6"/>
<line x1="435.3" y1="370" x2="435.3" y2="343" stroke="#000" stroke-width="1.4"/>
<line x1="433.1" y1="343" x2="437.5" y2="343" stroke="#000" stroke-width="1.7"/>
<polygon points="436.50,336.20 437.41,337.65 439.07,338.07 437.97,339.38 438.09,341.08 436.50,340.45 434.91,341.08 435.03,339.38 433.93,338.07 435.59,337.65" fill="#000" stroke="#000" stroke-width="0.3"/>
<rect x="438.6" y="388" width="15.399999999999977" height="41.39999999999998" fill="#c1c1c1" stroke="#000" stroke-width="1.6"/>
<line x1="446.3" y1="388" x2="446.3" y2="371" stroke="#000" stroke-width="1.4"/>
<line x1="444.1" y1="371" x2="448.5" y2="371" stroke="#000" stroke-width="1.7"/>
<polygon points="447.50,364.20 448.41,365.65 450.07,366.07 448.97,367.38 449.09,369.08 447.50,368.45 445.91,369.08 446.03,367.38 444.93,366.07 446.59,365.65" fill="#000" stroke="#000" stroke-width="0.3"/>
<rect x="459.5" y="359.5" width="15.399999999999977" height="69.89999999999998" fill="#fff" stroke="#000" stroke-width="1.6"/>
<line x1="467.2" y1="359.5" x2="467.2" y2="349" stroke="#000" stroke-width="1.4"/>
<line x1="465.0" y1="349" x2="469.4" y2="349" stroke="#000" stroke-width="1.7"/>
<polygon points="468.40,342.20 469.31,343.65 470.97,344.07 469.87,345.38 469.99,347.08 468.40,346.45 466.81,347.08 466.93,345.38 465.83,344.07 467.49,343.65" fill="#000" stroke="#000" stroke-width="0.3"/>
<rect x="469.6" y="382.5" width="15.399999999999977" height="46.89999999999998" fill="#c1c1c1" stroke="#000" stroke-width="1.6"/>
<line x1="477.3" y1="382.5" x2="477.3" y2="375" stroke="#000" stroke-width="1.4"/>
<line x1="475.1" y1="375" x2="479.5" y2="375" stroke="#000" stroke-width="1.7"/>
<polygon points="478.50,368.20 479.41,369.65 481.07,370.07 479.97,371.38 480.09,373.08 478.50,372.45 476.91,373.08 477.03,371.38 475.93,370.07 477.59,369.65" fill="#000" stroke="#000" stroke-width="0.3"/>
<rect x="490.1" y="415" width="15.399999999999977" height="14.399999999999977" fill="#fff" stroke="#000" stroke-width="1.6"/>
<line x1="497.8" y1="415" x2="497.8" y2="408.5" stroke="#000" stroke-width="1.4"/>
<line x1="495.6" y1="408.5" x2="500.0" y2="408.5" stroke="#000" stroke-width="1.7"/>
<rect x="500.40000000000003" y="419.5" width="15.400000000000034" height="9.899999999999977" fill="#c1c1c1" stroke="#000" stroke-width="1.6"/>
<line x1="508.1" y1="419.5" x2="508.1" y2="414.8" stroke="#000" stroke-width="1.4"/>
<line x1="505.90000000000003" y1="414.8" x2="510.3" y2="414.8" stroke="#000" stroke-width="1.7"/>
<rect x="480" y="332.5" width="4.5" height="4.5" fill="#fff" stroke="#000" stroke-width="1.3"/>
<rect x="480" y="347" width="4.5" height="4.5" fill="#c1c1c1" stroke="#000" stroke-width="1.3"/>
<text x="488.5" y="337.4" font-size="8" text-anchor="start" font-weight="normal" textLength="24.2" lengthAdjust="spacingAndGlyphs">CD45+</text>
<text x="488.5" y="347.5" font-size="8" text-anchor="start" font-weight="normal" textLength="24.2" lengthAdjust="spacingAndGlyphs">CD45+</text>
<text x="488.5" y="354.7" font-size="8" text-anchor="start" font-weight="normal" textLength="24.2" lengthAdjust="spacingAndGlyphs">CD34+</text>
<text transform="translate(364,376) rotate(-90)" font-size="10.3" font-weight="bold" text-anchor="middle" textLength="85.4" lengthAdjust="spacingAndGlyphs">Total CD45+ cells</text>
<text transform="translate(378,376.4) rotate(-90)" font-size="10.3" font-weight="bold" text-anchor="middle" textLength="56.5" lengthAdjust="spacingAndGlyphs">(x10<tspan dy="-3.5" font-size="7.5">4</tspan><tspan dy="3.5">) / well</tspan></text>
<text transform="translate(421.8,436.4) rotate(-45)" font-size="8.3" font-weight="bold" text-anchor="end">Control</text>
<text transform="translate(453.8,436.4) rotate(-45)" font-size="8.3" font-weight="bold" text-anchor="end">Cytokines</text>
<text transform="translate(482.3,438.0) rotate(-45)" font-size="8.3" font-weight="bold" text-anchor="end"><tspan x="0" dy="0">Cytokines</tspan><tspan x="-3.4" dy="7.8">+ BMP-4</tspan></text>
<text transform="translate(513,436.0) rotate(-45)" font-size="8.3" font-weight="bold" text-anchor="end">BMP-4</text>
</svg></body></html>
